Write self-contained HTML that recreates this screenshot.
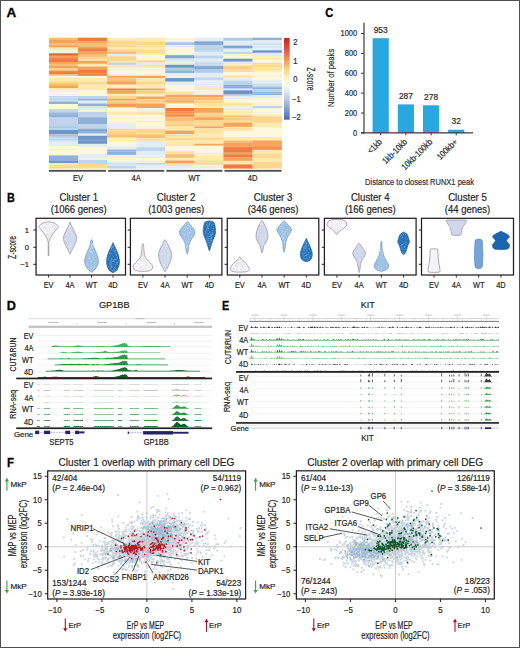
<!DOCTYPE html>
<html><head><meta charset="utf-8"><style>
html,body{margin:0;padding:0;background:#fff;}
svg{display:block;}
text{font-family:"Liberation Sans", sans-serif;stroke:#2a2a2a;stroke-width:0.2px;}
</style></head><body>
<svg width="520" height="648" viewBox="0 0 520 648">
<rect x="0" y="0" width="520" height="648" fill="#fff"/>
<rect x="49.00" y="37.70" width="29.38" height="2.10" fill="#f9bd78" />
<rect x="49.00" y="39.50" width="29.38" height="3.80" fill="#f6a35c" />
<rect x="49.00" y="43.00" width="29.38" height="2.50" fill="#f9bd78" />
<rect x="49.00" y="45.20" width="29.38" height="2.60" fill="#f6a35c" />
<rect x="49.00" y="47.50" width="29.38" height="2.60" fill="#feeab0" />
<rect x="49.00" y="49.80" width="29.38" height="3.80" fill="#fdf7dc" />
<rect x="49.00" y="50.99" width="29.38" height="1.54" fill="#e2eef4" fill-opacity="0.55"/>
<rect x="49.00" y="53.30" width="29.38" height="2.60" fill="#e8603a" />
<rect x="49.00" y="55.60" width="29.38" height="2.00" fill="#f6a35c" />
<rect x="49.00" y="57.30" width="29.38" height="5.00" fill="#f07a45" />
<rect x="49.00" y="58.10" width="29.38" height="0.84" fill="#f6a35c" fill-opacity="0.55"/>
<rect x="49.00" y="62.00" width="29.38" height="2.00" fill="#f6a35c" />
<rect x="49.00" y="63.70" width="29.38" height="2.60" fill="#f9bd78" />
<rect x="49.00" y="66.00" width="29.38" height="2.60" fill="#f6a35c" />
<rect x="49.00" y="68.30" width="29.38" height="2.60" fill="#fcd68e" />
<rect x="49.00" y="70.60" width="29.38" height="3.70" fill="#f07a45" />
<rect x="49.00" y="71.21" width="29.38" height="0.97" fill="#f6a35c" fill-opacity="0.55"/>
<rect x="49.00" y="74.00" width="29.38" height="2.10" fill="#f9bd78" />
<rect x="49.00" y="75.80" width="29.38" height="2.00" fill="#fdf7dc" />
<rect x="49.00" y="77.50" width="29.38" height="4.40" fill="#feeab0" />
<rect x="49.00" y="81.60" width="29.38" height="2.00" fill="#fcd68e" />
<rect x="49.00" y="83.30" width="29.38" height="2.60" fill="#f9bd78" />
<rect x="49.00" y="85.60" width="29.38" height="2.70" fill="#f6a35c" />
<rect x="49.00" y="88.00" width="29.38" height="2.00" fill="#feeab0" />
<rect x="49.00" y="89.70" width="29.38" height="6.60" fill="#fdf7dc" />
<rect x="49.00" y="90.30" width="29.38" height="1.50" fill="#feeab0" fill-opacity="0.55"/>
<rect x="49.00" y="93.94" width="29.38" height="0.93" fill="#e2eef4" fill-opacity="0.55"/>
<rect x="49.00" y="96.00" width="29.38" height="3.20" fill="#bdd4ea" />
<rect x="49.00" y="97.03" width="29.38" height="1.34" fill="#e2eef4" fill-opacity="0.55"/>
<rect x="49.00" y="98.90" width="29.38" height="3.10" fill="#bdd4ea" />
<rect x="49.00" y="100.21" width="29.38" height="1.04" fill="#e2eef4" fill-opacity="0.55"/>
<rect x="49.00" y="101.70" width="29.38" height="2.60" fill="#8fb0d8" />
<rect x="49.00" y="104.00" width="29.38" height="5.50" fill="#fdf7dc" />
<rect x="49.00" y="109.20" width="29.38" height="3.80" fill="#bdd4ea" />
<rect x="49.00" y="112.70" width="29.38" height="4.90" fill="#8fb0d8" />
<rect x="49.00" y="113.68" width="29.38" height="0.94" fill="#bdd4ea" fill-opacity="0.55"/>
<rect x="49.00" y="117.30" width="29.38" height="13.00" fill="#bdd4ea" />
<rect x="49.00" y="126.73" width="29.38" height="0.90" fill="#8fb0d8" fill-opacity="0.55"/>
<rect x="49.00" y="130.00" width="29.38" height="4.30" fill="#7096c8" />
<rect x="49.00" y="134.00" width="29.38" height="3.30" fill="#bdd4ea" />
<rect x="49.00" y="134.63" width="29.38" height="1.56" fill="#8fb0d8" fill-opacity="0.55"/>
<rect x="49.00" y="137.00" width="29.38" height="4.80" fill="#bdd4ea" />
<rect x="49.00" y="137.89" width="29.38" height="0.92" fill="#e2eef4" fill-opacity="0.55"/>
<rect x="49.00" y="140.05" width="29.38" height="1.05" fill="#e2eef4" fill-opacity="0.55"/>
<rect x="49.00" y="141.50" width="29.38" height="4.80" fill="#e2eef4" />
<rect x="49.00" y="146.00" width="29.38" height="5.10" fill="#fdf7dc" />
<rect x="49.00" y="148.79" width="29.38" height="1.39" fill="#e2eef4" fill-opacity="0.55"/>
<rect x="49.00" y="150.80" width="29.38" height="4.90" fill="#fdf7dc" />
<rect x="49.00" y="155.40" width="29.38" height="5.90" fill="#8fb0d8" />
<rect x="49.00" y="161.00" width="29.38" height="2.30" fill="#7096c8" />
<rect x="49.00" y="163.00" width="29.38" height="2.50" fill="#feeab0" />
<rect x="49.00" y="165.20" width="29.38" height="3.40" fill="#fcd68e" />
<rect x="49.00" y="165.89" width="29.38" height="1.15" fill="#feeab0" fill-opacity="0.55"/>
<rect x="78.08" y="37.70" width="29.38" height="3.80" fill="#f07a45" />
<rect x="78.08" y="41.20" width="29.38" height="2.60" fill="#f6a35c" />
<rect x="78.08" y="43.50" width="29.38" height="4.30" fill="#f9bd78" />
<rect x="78.08" y="47.50" width="29.38" height="3.80" fill="#f07a45" />
<rect x="78.08" y="48.33" width="29.38" height="1.12" fill="#f6a35c" fill-opacity="0.55"/>
<rect x="78.08" y="51.00" width="29.38" height="3.20" fill="#f6a35c" />
<rect x="78.08" y="53.90" width="29.38" height="3.20" fill="#f9bd78" />
<rect x="78.08" y="56.80" width="29.38" height="2.50" fill="#fcd68e" />
<rect x="78.08" y="59.00" width="29.38" height="2.10" fill="#feeab0" />
<rect x="78.08" y="60.80" width="29.38" height="3.20" fill="#f6a35c" />
<rect x="78.08" y="63.70" width="29.38" height="3.20" fill="#feeab0" />
<rect x="78.08" y="64.77" width="29.38" height="0.83" fill="#fdf7dc" fill-opacity="0.55"/>
<rect x="78.08" y="66.60" width="29.38" height="3.20" fill="#f6a35c" />
<rect x="78.08" y="69.50" width="29.38" height="6.60" fill="#f07a45" />
<rect x="78.08" y="72.78" width="29.38" height="1.42" fill="#f6a35c" fill-opacity="0.55"/>
<rect x="78.08" y="75.80" width="29.38" height="2.60" fill="#fdf7dc" />
<rect x="78.08" y="78.10" width="29.38" height="4.40" fill="#feeab0" />
<rect x="78.08" y="82.20" width="29.38" height="2.60" fill="#fcd68e" />
<rect x="78.08" y="84.50" width="29.38" height="6.00" fill="#feeab0" />
<rect x="78.08" y="90.20" width="29.38" height="6.10" fill="#fdf7dc" />
<rect x="78.08" y="96.00" width="29.38" height="3.20" fill="#bdd4ea" />
<rect x="78.08" y="98.90" width="29.38" height="2.00" fill="#8fb0d8" />
<rect x="78.08" y="100.60" width="29.38" height="3.20" fill="#e2eef4" />
<rect x="78.08" y="103.50" width="29.38" height="3.10" fill="#8fb0d8" />
<rect x="78.08" y="106.30" width="29.38" height="3.20" fill="#e2eef4" />
<rect x="78.08" y="107.48" width="29.38" height="0.82" fill="#bdd4ea" fill-opacity="0.55"/>
<rect x="78.08" y="109.20" width="29.38" height="3.10" fill="#e2eef4" />
<rect x="78.08" y="109.94" width="29.38" height="1.41" fill="#fdf7dc" fill-opacity="0.55"/>
<rect x="78.08" y="112.00" width="29.38" height="5.60" fill="#bdd4ea" />
<rect x="78.08" y="117.30" width="29.38" height="7.20" fill="#8fb0d8" />
<rect x="78.08" y="124.20" width="29.38" height="4.90" fill="#bdd4ea" />
<rect x="78.08" y="128.80" width="29.38" height="5.00" fill="#8fb0d8" />
<rect x="78.08" y="129.84" width="29.38" height="1.04" fill="#7096c8" fill-opacity="0.55"/>
<rect x="78.08" y="133.50" width="29.38" height="2.60" fill="#e2eef4" />
<rect x="78.08" y="135.80" width="29.38" height="8.30" fill="#7096c8" />
<rect x="78.08" y="136.63" width="29.38" height="1.08" fill="#7096c8" fill-opacity="0.55"/>
<rect x="78.08" y="139.65" width="29.38" height="1.31" fill="#8fb0d8" fill-opacity="0.55"/>
<rect x="78.08" y="143.80" width="29.38" height="3.80" fill="#e2eef4" />
<rect x="78.08" y="147.30" width="29.38" height="7.20" fill="#fdf7dc" />
<rect x="78.08" y="154.20" width="29.38" height="6.10" fill="#e2eef4" />
<rect x="78.08" y="158.20" width="29.38" height="1.37" fill="#fdf7dc" fill-opacity="0.55"/>
<rect x="78.08" y="160.00" width="29.38" height="3.30" fill="#bdd4ea" />
<rect x="78.08" y="163.00" width="29.38" height="5.60" fill="#fcd68e" />
<rect x="78.08" y="166.64" width="29.38" height="1.18" fill="#feeab0" fill-opacity="0.55"/>
<rect x="107.15" y="37.70" width="29.38" height="3.20" fill="#feeab0" />
<rect x="107.15" y="38.33" width="29.38" height="0.91" fill="#fdf7dc" fill-opacity="0.55"/>
<rect x="107.15" y="40.60" width="29.38" height="6.70" fill="#fcd68e" />
<rect x="107.15" y="44.11" width="29.38" height="1.01" fill="#feeab0" fill-opacity="0.55"/>
<rect x="107.15" y="47.00" width="29.38" height="2.60" fill="#feeab0" />
<rect x="107.15" y="49.30" width="29.38" height="2.60" fill="#fcd68e" />
<rect x="107.15" y="51.60" width="29.38" height="2.60" fill="#f9bd78" />
<rect x="107.15" y="53.90" width="29.38" height="2.60" fill="#e2eef4" />
<rect x="107.15" y="56.20" width="29.38" height="4.90" fill="#fcd68e" />
<rect x="107.15" y="60.80" width="29.38" height="2.00" fill="#feeab0" />
<rect x="107.15" y="62.50" width="29.38" height="2.60" fill="#bdd4ea" />
<rect x="107.15" y="64.80" width="29.38" height="3.20" fill="#feeab0" />
<rect x="107.15" y="67.70" width="29.38" height="8.40" fill="#fdf7dc" />
<rect x="107.15" y="68.73" width="29.38" height="1.07" fill="#feeab0" fill-opacity="0.55"/>
<rect x="107.15" y="73.96" width="29.38" height="0.83" fill="#e2eef4" fill-opacity="0.55"/>
<rect x="107.15" y="75.80" width="29.38" height="2.00" fill="#f6a35c" />
<rect x="107.15" y="77.50" width="29.38" height="4.40" fill="#f9bd78" />
<rect x="107.15" y="78.19" width="29.38" height="1.35" fill="#fcd68e" fill-opacity="0.55"/>
<rect x="107.15" y="81.60" width="29.38" height="3.20" fill="#f6a35c" />
<rect x="107.15" y="84.50" width="29.38" height="4.30" fill="#feeab0" />
<rect x="107.15" y="85.49" width="29.38" height="1.53" fill="#fdf7dc" fill-opacity="0.55"/>
<rect x="107.15" y="88.50" width="29.38" height="2.00" fill="#f07a45" />
<rect x="107.15" y="90.20" width="29.38" height="3.80" fill="#f6a35c" />
<rect x="107.15" y="93.70" width="29.38" height="2.60" fill="#feeab0" />
<rect x="107.15" y="96.00" width="29.38" height="3.20" fill="#fcd68e" />
<rect x="107.15" y="98.90" width="29.38" height="2.00" fill="#f6a35c" />
<rect x="107.15" y="100.60" width="29.38" height="3.20" fill="#fcd68e" />
<rect x="107.15" y="101.72" width="29.38" height="1.18" fill="#f9bd78" fill-opacity="0.55"/>
<rect x="107.15" y="103.50" width="29.38" height="4.30" fill="#f6a35c" />
<rect x="107.15" y="104.54" width="29.38" height="1.20" fill="#f07a45" fill-opacity="0.55"/>
<rect x="107.15" y="107.50" width="29.38" height="4.30" fill="#fdf7dc" />
<rect x="107.15" y="111.50" width="29.38" height="3.80" fill="#feeab0" />
<rect x="107.15" y="115.00" width="29.38" height="9.50" fill="#fdf7dc" />
<rect x="107.15" y="115.94" width="29.38" height="0.85" fill="#e2eef4" fill-opacity="0.55"/>
<rect x="107.15" y="117.67" width="29.38" height="1.47" fill="#feeab0" fill-opacity="0.55"/>
<rect x="107.15" y="120.94" width="29.38" height="0.91" fill="#e2eef4" fill-opacity="0.55"/>
<rect x="107.15" y="122.86" width="29.38" height="1.29" fill="#feeab0" fill-opacity="0.55"/>
<rect x="107.15" y="124.20" width="29.38" height="4.90" fill="#e2eef4" />
<rect x="107.15" y="128.80" width="29.38" height="5.00" fill="#fcd68e" />
<rect x="107.15" y="129.62" width="29.38" height="1.26" fill="#feeab0" fill-opacity="0.55"/>
<rect x="107.15" y="133.50" width="29.38" height="4.30" fill="#f9bd78" />
<rect x="107.15" y="134.21" width="29.38" height="1.15" fill="#fcd68e" fill-opacity="0.55"/>
<rect x="107.15" y="137.50" width="29.38" height="4.30" fill="#feeab0" />
<rect x="107.15" y="138.85" width="29.38" height="1.10" fill="#fdf7dc" fill-opacity="0.55"/>
<rect x="107.15" y="141.50" width="29.38" height="5.00" fill="#fdf7dc" />
<rect x="107.15" y="146.20" width="29.38" height="3.70" fill="#e2eef4" />
<rect x="107.15" y="149.60" width="29.38" height="5.50" fill="#8fb0d8" />
<rect x="107.15" y="150.80" width="29.38" height="1.21" fill="#bdd4ea" fill-opacity="0.55"/>
<rect x="107.15" y="154.80" width="29.38" height="3.20" fill="#e2eef4" />
<rect x="107.15" y="155.76" width="29.38" height="1.11" fill="#fdf7dc" fill-opacity="0.55"/>
<rect x="107.15" y="157.70" width="29.38" height="4.90" fill="#fdf7dc" />
<rect x="107.15" y="158.37" width="29.38" height="1.33" fill="#feeab0" fill-opacity="0.55"/>
<rect x="107.15" y="161.21" width="29.38" height="1.09" fill="#e2eef4" fill-opacity="0.55"/>
<rect x="107.15" y="162.30" width="29.38" height="3.80" fill="#e2eef4" />
<rect x="107.15" y="163.16" width="29.38" height="1.44" fill="#bdd4ea" fill-opacity="0.55"/>
<rect x="107.15" y="165.80" width="29.38" height="2.80" fill="#bdd4ea" />
<rect x="136.23" y="37.70" width="29.38" height="4.40" fill="#feeab0" />
<rect x="136.23" y="41.80" width="29.38" height="3.70" fill="#fcd68e" />
<rect x="136.23" y="45.20" width="29.38" height="4.90" fill="#feeab0" />
<rect x="136.23" y="45.91" width="29.38" height="1.30" fill="#fcd68e" fill-opacity="0.55"/>
<rect x="136.23" y="49.80" width="29.38" height="3.20" fill="#fcd68e" />
<rect x="136.23" y="50.70" width="29.38" height="1.38" fill="#feeab0" fill-opacity="0.55"/>
<rect x="136.23" y="52.70" width="29.38" height="2.60" fill="#feeab0" />
<rect x="136.23" y="55.00" width="29.38" height="5.50" fill="#fdf7dc" />
<rect x="136.23" y="60.20" width="29.38" height="2.60" fill="#fcd68e" />
<rect x="136.23" y="62.50" width="29.38" height="2.60" fill="#e2eef4" />
<rect x="136.23" y="64.80" width="29.38" height="3.20" fill="#feeab0" />
<rect x="136.23" y="65.48" width="29.38" height="0.83" fill="#fcd68e" fill-opacity="0.55"/>
<rect x="136.23" y="67.70" width="29.38" height="8.40" fill="#fdf7dc" />
<rect x="136.23" y="69.05" width="29.38" height="1.33" fill="#e2eef4" fill-opacity="0.55"/>
<rect x="136.23" y="74.75" width="29.38" height="1.05" fill="#feeab0" fill-opacity="0.55"/>
<rect x="136.23" y="75.80" width="29.38" height="2.60" fill="#f6a35c" />
<rect x="136.23" y="78.10" width="29.38" height="3.80" fill="#feeab0" />
<rect x="136.23" y="81.60" width="29.38" height="3.20" fill="#fcd68e" />
<rect x="136.23" y="84.50" width="29.38" height="4.30" fill="#feeab0" />
<rect x="136.23" y="88.50" width="29.38" height="2.00" fill="#f6a35c" />
<rect x="136.23" y="90.20" width="29.38" height="3.80" fill="#fcd68e" />
<rect x="136.23" y="91.40" width="29.38" height="1.05" fill="#f9bd78" fill-opacity="0.55"/>
<rect x="136.23" y="93.70" width="29.38" height="3.20" fill="#feeab0" />
<rect x="136.23" y="94.68" width="29.38" height="1.56" fill="#fdf7dc" fill-opacity="0.55"/>
<rect x="136.23" y="96.60" width="29.38" height="2.60" fill="#f6a35c" />
<rect x="136.23" y="98.90" width="29.38" height="4.90" fill="#fcd68e" />
<rect x="136.23" y="100.04" width="29.38" height="1.38" fill="#f9bd78" fill-opacity="0.55"/>
<rect x="136.23" y="103.50" width="29.38" height="4.80" fill="#f6a35c" />
<rect x="136.23" y="108.00" width="29.38" height="3.80" fill="#fdf7dc" />
<rect x="136.23" y="109.17" width="29.38" height="1.34" fill="#e2eef4" fill-opacity="0.55"/>
<rect x="136.23" y="111.50" width="29.38" height="3.80" fill="#feeab0" />
<rect x="136.23" y="112.69" width="29.38" height="1.37" fill="#fcd68e" fill-opacity="0.55"/>
<rect x="136.23" y="115.00" width="29.38" height="14.10" fill="#fdf7dc" />
<rect x="136.23" y="120.87" width="29.38" height="1.35" fill="#feeab0" fill-opacity="0.55"/>
<rect x="136.23" y="126.66" width="29.38" height="0.88" fill="#e2eef4" fill-opacity="0.55"/>
<rect x="136.23" y="128.80" width="29.38" height="6.10" fill="#fcd68e" />
<rect x="136.23" y="132.62" width="29.38" height="1.43" fill="#feeab0" fill-opacity="0.55"/>
<rect x="136.23" y="134.60" width="29.38" height="3.70" fill="#f9bd78" />
<rect x="136.23" y="138.00" width="29.38" height="4.30" fill="#feeab0" />
<rect x="136.23" y="139.16" width="29.38" height="1.31" fill="#fcd68e" fill-opacity="0.55"/>
<rect x="136.23" y="142.00" width="29.38" height="5.60" fill="#e2eef4" />
<rect x="136.23" y="147.30" width="29.38" height="3.80" fill="#bdd4ea" />
<rect x="136.23" y="150.80" width="29.38" height="7.20" fill="#e2eef4" />
<rect x="136.23" y="155.08" width="29.38" height="1.05" fill="#fdf7dc" fill-opacity="0.55"/>
<rect x="136.23" y="157.70" width="29.38" height="5.50" fill="#fdf7dc" />
<rect x="136.23" y="160.77" width="29.38" height="1.12" fill="#feeab0" fill-opacity="0.55"/>
<rect x="136.23" y="162.90" width="29.38" height="2.00" fill="#bdd4ea" />
<rect x="136.23" y="164.60" width="29.38" height="4.00" fill="#e2eef4" />
<rect x="165.30" y="37.70" width="29.38" height="4.40" fill="#fdf7dc" />
<rect x="165.30" y="38.52" width="29.38" height="1.19" fill="#feeab0" fill-opacity="0.55"/>
<rect x="165.30" y="41.80" width="29.38" height="3.70" fill="#bdd4ea" />
<rect x="165.30" y="43.11" width="29.38" height="1.51" fill="#8fb0d8" fill-opacity="0.55"/>
<rect x="165.30" y="45.20" width="29.38" height="2.60" fill="#e2eef4" />
<rect x="165.30" y="47.50" width="29.38" height="3.80" fill="#fdf7dc" />
<rect x="165.30" y="48.72" width="29.38" height="0.80" fill="#feeab0" fill-opacity="0.55"/>
<rect x="165.30" y="51.00" width="29.38" height="4.30" fill="#fdf7dc" />
<rect x="165.30" y="55.00" width="29.38" height="3.80" fill="#8fb0d8" />
<rect x="165.30" y="56.18" width="29.38" height="1.36" fill="#7096c8" fill-opacity="0.55"/>
<rect x="165.30" y="58.50" width="29.38" height="6.60" fill="#e2eef4" />
<rect x="165.30" y="59.36" width="29.38" height="1.05" fill="#bdd4ea" fill-opacity="0.55"/>
<rect x="165.30" y="62.15" width="29.38" height="1.03" fill="#fdf7dc" fill-opacity="0.55"/>
<rect x="165.30" y="64.80" width="29.38" height="3.20" fill="#7096c8" />
<rect x="165.30" y="65.44" width="29.38" height="0.90" fill="#7096c8" fill-opacity="0.55"/>
<rect x="165.30" y="67.70" width="29.38" height="3.20" fill="#bdd4ea" />
<rect x="165.30" y="68.79" width="29.38" height="0.98" fill="#8fb0d8" fill-opacity="0.55"/>
<rect x="165.30" y="70.60" width="29.38" height="2.70" fill="#8fb0d8" />
<rect x="165.30" y="73.00" width="29.38" height="5.40" fill="#e2eef4" />
<rect x="165.30" y="75.85" width="29.38" height="1.59" fill="#fdf7dc" fill-opacity="0.55"/>
<rect x="165.30" y="78.10" width="29.38" height="3.80" fill="#7096c8" />
<rect x="165.30" y="78.82" width="29.38" height="1.41" fill="#7096c8" fill-opacity="0.55"/>
<rect x="165.30" y="81.60" width="29.38" height="3.70" fill="#e2eef4" />
<rect x="165.30" y="85.00" width="29.38" height="6.70" fill="#fdf7dc" />
<rect x="165.30" y="91.40" width="29.38" height="3.70" fill="#feeab0" />
<rect x="165.30" y="92.65" width="29.38" height="1.14" fill="#fcd68e" fill-opacity="0.55"/>
<rect x="165.30" y="94.80" width="29.38" height="2.70" fill="#f6a35c" />
<rect x="165.30" y="97.20" width="29.38" height="6.60" fill="#f9bd78" />
<rect x="165.30" y="100.80" width="29.38" height="0.97" fill="#f6a35c" fill-opacity="0.55"/>
<rect x="165.30" y="103.50" width="29.38" height="4.80" fill="#fdf7dc" />
<rect x="165.30" y="108.00" width="29.38" height="3.30" fill="#f07a45" />
<rect x="165.30" y="111.00" width="29.38" height="6.60" fill="#f6a35c" />
<rect x="165.30" y="111.65" width="29.38" height="1.20" fill="#f07a45" fill-opacity="0.55"/>
<rect x="165.30" y="114.81" width="29.38" height="1.19" fill="#f07a45" fill-opacity="0.55"/>
<rect x="165.30" y="117.30" width="29.38" height="3.80" fill="#f9bd78" />
<rect x="165.30" y="120.80" width="29.38" height="6.00" fill="#fcd68e" />
<rect x="165.30" y="124.73" width="29.38" height="0.87" fill="#f9bd78" fill-opacity="0.55"/>
<rect x="165.30" y="126.50" width="29.38" height="4.40" fill="#feeab0" />
<rect x="165.30" y="130.60" width="29.38" height="3.70" fill="#f6a35c" />
<rect x="165.30" y="134.00" width="29.38" height="4.30" fill="#feeab0" />
<rect x="165.30" y="135.04" width="29.38" height="1.35" fill="#fcd68e" fill-opacity="0.55"/>
<rect x="165.30" y="138.00" width="29.38" height="2.70" fill="#fcd68e" />
<rect x="165.30" y="140.40" width="29.38" height="6.10" fill="#feeab0" />
<rect x="165.30" y="144.48" width="29.38" height="1.22" fill="#fcd68e" fill-opacity="0.55"/>
<rect x="165.30" y="146.20" width="29.38" height="4.90" fill="#fdf7dc" />
<rect x="165.30" y="150.80" width="29.38" height="3.70" fill="#feeab0" />
<rect x="165.30" y="151.73" width="29.38" height="1.57" fill="#fcd68e" fill-opacity="0.55"/>
<rect x="165.30" y="154.20" width="29.38" height="3.80" fill="#f9bd78" />
<rect x="165.30" y="157.70" width="29.38" height="3.20" fill="#feeab0" />
<rect x="165.30" y="160.60" width="29.38" height="3.20" fill="#f6a35c" />
<rect x="165.30" y="163.50" width="29.38" height="3.10" fill="#feeab0" />
<rect x="165.30" y="164.88" width="29.38" height="1.24" fill="#fcd68e" fill-opacity="0.55"/>
<rect x="165.30" y="166.30" width="29.38" height="2.30" fill="#e2eef4" />
<rect x="194.38" y="37.70" width="29.38" height="3.80" fill="#e2eef4" />
<rect x="194.38" y="41.20" width="29.38" height="4.30" fill="#8fb0d8" />
<rect x="194.38" y="42.34" width="29.38" height="1.06" fill="#7096c8" fill-opacity="0.55"/>
<rect x="194.38" y="45.20" width="29.38" height="7.30" fill="#bdd4ea" />
<rect x="194.38" y="50.60" width="29.38" height="1.13" fill="#e2eef4" fill-opacity="0.55"/>
<rect x="194.38" y="52.20" width="29.38" height="3.70" fill="#e2eef4" />
<rect x="194.38" y="55.60" width="29.38" height="3.20" fill="#bdd4ea" />
<rect x="194.38" y="58.50" width="29.38" height="4.90" fill="#e2eef4" />
<rect x="194.38" y="61.57" width="29.38" height="1.14" fill="#bdd4ea" fill-opacity="0.55"/>
<rect x="194.38" y="63.10" width="29.38" height="3.20" fill="#bdd4ea" />
<rect x="194.38" y="64.18" width="29.38" height="0.95" fill="#e2eef4" fill-opacity="0.55"/>
<rect x="194.38" y="66.00" width="29.38" height="3.80" fill="#8fb0d8" />
<rect x="194.38" y="67.15" width="29.38" height="1.38" fill="#7096c8" fill-opacity="0.55"/>
<rect x="194.38" y="69.50" width="29.38" height="3.80" fill="#bdd4ea" />
<rect x="194.38" y="70.52" width="29.38" height="0.86" fill="#8fb0d8" fill-opacity="0.55"/>
<rect x="194.38" y="73.00" width="29.38" height="4.80" fill="#e2eef4" />
<rect x="194.38" y="77.50" width="29.38" height="2.60" fill="#bdd4ea" />
<rect x="194.38" y="79.80" width="29.38" height="7.30" fill="#e2eef4" />
<rect x="194.38" y="80.78" width="29.38" height="0.88" fill="#fdf7dc" fill-opacity="0.55"/>
<rect x="194.38" y="82.62" width="29.38" height="1.07" fill="#fdf7dc" fill-opacity="0.55"/>
<rect x="194.38" y="85.29" width="29.38" height="1.15" fill="#fdf7dc" fill-opacity="0.55"/>
<rect x="194.38" y="86.80" width="29.38" height="3.70" fill="#feeab0" />
<rect x="194.38" y="90.20" width="29.38" height="4.90" fill="#fdf7dc" />
<rect x="194.38" y="90.88" width="29.38" height="0.88" fill="#feeab0" fill-opacity="0.55"/>
<rect x="194.38" y="94.80" width="29.38" height="2.70" fill="#f6a35c" />
<rect x="194.38" y="97.20" width="29.38" height="3.10" fill="#f9bd78" />
<rect x="194.38" y="100.00" width="29.38" height="3.80" fill="#fcd68e" />
<rect x="194.38" y="103.50" width="29.38" height="4.80" fill="#feeab0" />
<rect x="194.38" y="104.10" width="29.38" height="1.10" fill="#fcd68e" fill-opacity="0.55"/>
<rect x="194.38" y="108.00" width="29.38" height="5.00" fill="#f6a35c" />
<rect x="194.38" y="112.70" width="29.38" height="4.90" fill="#fcd68e" />
<rect x="194.38" y="116.19" width="29.38" height="1.11" fill="#f9bd78" fill-opacity="0.55"/>
<rect x="194.38" y="117.30" width="29.38" height="3.20" fill="#f6a35c" />
<rect x="194.38" y="120.20" width="29.38" height="6.60" fill="#fcd68e" />
<rect x="194.38" y="123.03" width="29.38" height="1.02" fill="#feeab0" fill-opacity="0.55"/>
<rect x="194.38" y="126.50" width="29.38" height="2.10" fill="#f6a35c" />
<rect x="194.38" y="128.30" width="29.38" height="10.00" fill="#feeab0" />
<rect x="194.38" y="129.10" width="29.38" height="1.16" fill="#fcd68e" fill-opacity="0.55"/>
<rect x="194.38" y="131.07" width="29.38" height="1.41" fill="#fcd68e" fill-opacity="0.55"/>
<rect x="194.38" y="138.00" width="29.38" height="2.10" fill="#fcd68e" />
<rect x="194.38" y="139.80" width="29.38" height="4.30" fill="#feeab0" />
<rect x="194.38" y="143.80" width="29.38" height="2.10" fill="#f6a35c" />
<rect x="194.38" y="145.60" width="29.38" height="7.70" fill="#fdf7dc" />
<rect x="194.38" y="153.00" width="29.38" height="9.60" fill="#feeab0" />
<rect x="194.38" y="154.09" width="29.38" height="1.27" fill="#fdf7dc" fill-opacity="0.55"/>
<rect x="194.38" y="160.33" width="29.38" height="1.53" fill="#fcd68e" fill-opacity="0.55"/>
<rect x="194.38" y="162.30" width="29.38" height="2.60" fill="#fcd68e" />
<rect x="194.38" y="164.60" width="29.38" height="4.00" fill="#e2eef4" />
<rect x="194.38" y="165.32" width="29.38" height="1.42" fill="#fdf7dc" fill-opacity="0.55"/>
<rect x="223.45" y="37.70" width="29.38" height="3.40" fill="#bdd4ea" />
<rect x="223.45" y="38.47" width="29.38" height="1.14" fill="#8fb0d8" fill-opacity="0.55"/>
<rect x="223.45" y="40.80" width="29.38" height="5.00" fill="#e2eef4" />
<rect x="223.45" y="45.50" width="29.38" height="3.30" fill="#8fb0d8" />
<rect x="223.45" y="46.16" width="29.38" height="1.35" fill="#7096c8" fill-opacity="0.55"/>
<rect x="223.45" y="48.50" width="29.38" height="3.90" fill="#e2eef4" />
<rect x="223.45" y="52.10" width="29.38" height="2.10" fill="#bdd4ea" />
<rect x="223.45" y="53.90" width="29.38" height="5.10" fill="#fdf7dc" />
<rect x="223.45" y="54.98" width="29.38" height="0.91" fill="#e2eef4" fill-opacity="0.55"/>
<rect x="223.45" y="58.70" width="29.38" height="3.20" fill="#7096c8" />
<rect x="223.45" y="59.32" width="29.38" height="0.95" fill="#7096c8" fill-opacity="0.55"/>
<rect x="223.45" y="61.60" width="29.38" height="1.50" fill="#e2eef4" />
<rect x="223.45" y="62.80" width="29.38" height="3.30" fill="#feeab0" />
<rect x="223.45" y="63.92" width="29.38" height="1.07" fill="#fdf7dc" fill-opacity="0.55"/>
<rect x="223.45" y="65.80" width="29.38" height="6.30" fill="#fcd68e" />
<rect x="223.45" y="67.18" width="29.38" height="1.36" fill="#f9bd78" fill-opacity="0.55"/>
<rect x="223.45" y="69.49" width="29.38" height="1.12" fill="#feeab0" fill-opacity="0.55"/>
<rect x="223.45" y="71.80" width="29.38" height="3.80" fill="#fdf7dc" />
<rect x="223.45" y="75.30" width="29.38" height="3.30" fill="#feeab0" />
<rect x="223.45" y="75.91" width="29.38" height="0.81" fill="#fcd68e" fill-opacity="0.55"/>
<rect x="223.45" y="78.30" width="29.38" height="2.70" fill="#e2eef4" />
<rect x="223.45" y="80.70" width="29.38" height="4.50" fill="#bdd4ea" />
<rect x="223.45" y="84.90" width="29.38" height="3.90" fill="#8fb0d8" />
<rect x="223.45" y="88.50" width="29.38" height="2.10" fill="#e2eef4" />
<rect x="223.45" y="90.30" width="29.38" height="4.40" fill="#7096c8" />
<rect x="223.45" y="91.30" width="29.38" height="0.83" fill="#7096c8" fill-opacity="0.55"/>
<rect x="223.45" y="94.40" width="29.38" height="2.10" fill="#bdd4ea" />
<rect x="223.45" y="96.20" width="29.38" height="3.30" fill="#e2eef4" />
<rect x="223.45" y="97.25" width="29.38" height="1.15" fill="#fdf7dc" fill-opacity="0.55"/>
<rect x="223.45" y="99.20" width="29.38" height="3.50" fill="#fdf7dc" />
<rect x="223.45" y="102.40" width="29.38" height="3.30" fill="#feeab0" />
<rect x="223.45" y="103.76" width="29.38" height="1.59" fill="#fcd68e" fill-opacity="0.55"/>
<rect x="223.45" y="105.40" width="29.38" height="3.80" fill="#e2eef4" />
<rect x="223.45" y="106.55" width="29.38" height="1.32" fill="#fdf7dc" fill-opacity="0.55"/>
<rect x="223.45" y="108.90" width="29.38" height="6.90" fill="#feeab0" />
<rect x="223.45" y="109.81" width="29.38" height="1.54" fill="#fdf7dc" fill-opacity="0.55"/>
<rect x="223.45" y="113.31" width="29.38" height="0.91" fill="#fdf7dc" fill-opacity="0.55"/>
<rect x="223.45" y="115.50" width="29.38" height="2.10" fill="#f9bd78" />
<rect x="223.45" y="117.30" width="29.38" height="5.70" fill="#fcd68e" />
<rect x="223.45" y="118.35" width="29.38" height="1.25" fill="#f9bd78" fill-opacity="0.55"/>
<rect x="223.45" y="120.57" width="29.38" height="1.51" fill="#feeab0" fill-opacity="0.55"/>
<rect x="223.45" y="122.70" width="29.38" height="4.40" fill="#f6a35c" />
<rect x="223.45" y="126.80" width="29.38" height="4.50" fill="#feeab0" />
<rect x="223.45" y="128.06" width="29.38" height="1.30" fill="#fcd68e" fill-opacity="0.55"/>
<rect x="223.45" y="131.00" width="29.38" height="6.30" fill="#fdf7dc" />
<rect x="223.45" y="137.00" width="29.38" height="3.80" fill="#feeab0" />
<rect x="223.45" y="140.50" width="29.38" height="2.70" fill="#f9bd78" />
<rect x="223.45" y="142.90" width="29.38" height="4.50" fill="#f6a35c" />
<rect x="223.45" y="147.10" width="29.38" height="5.70" fill="#f07a45" />
<rect x="223.45" y="152.50" width="29.38" height="2.60" fill="#f6a35c" />
<rect x="223.45" y="154.80" width="29.38" height="2.70" fill="#f07a45" />
<rect x="223.45" y="157.20" width="29.38" height="3.90" fill="#f6a35c" />
<rect x="223.45" y="160.80" width="29.38" height="3.90" fill="#feeab0" />
<rect x="223.45" y="164.40" width="29.38" height="4.20" fill="#f07a45" />
<rect x="252.53" y="37.70" width="29.38" height="2.80" fill="#8fb0d8" />
<rect x="252.53" y="40.20" width="29.38" height="10.40" fill="#e2eef4" />
<rect x="252.53" y="43.39" width="29.38" height="1.50" fill="#bdd4ea" fill-opacity="0.55"/>
<rect x="252.53" y="46.34" width="29.38" height="0.92" fill="#bdd4ea" fill-opacity="0.55"/>
<rect x="252.53" y="50.30" width="29.38" height="2.70" fill="#7096c8" />
<rect x="252.53" y="52.70" width="29.38" height="2.70" fill="#e2eef4" />
<rect x="252.53" y="55.10" width="29.38" height="5.00" fill="#feeab0" />
<rect x="252.53" y="56.50" width="29.38" height="1.31" fill="#fdf7dc" fill-opacity="0.55"/>
<rect x="252.53" y="59.80" width="29.38" height="3.30" fill="#fdf7dc" />
<rect x="252.53" y="62.80" width="29.38" height="4.50" fill="#fcd68e" />
<rect x="252.53" y="63.86" width="29.38" height="1.53" fill="#feeab0" fill-opacity="0.55"/>
<rect x="252.53" y="67.00" width="29.38" height="5.10" fill="#feeab0" />
<rect x="252.53" y="68.00" width="29.38" height="1.56" fill="#fcd68e" fill-opacity="0.55"/>
<rect x="252.53" y="71.80" width="29.38" height="8.60" fill="#fdf7dc" />
<rect x="252.53" y="75.37" width="29.38" height="0.89" fill="#e2eef4" fill-opacity="0.55"/>
<rect x="252.53" y="80.10" width="29.38" height="3.90" fill="#e2eef4" />
<rect x="252.53" y="83.70" width="29.38" height="3.90" fill="#bdd4ea" />
<rect x="252.53" y="84.38" width="29.38" height="1.50" fill="#e2eef4" fill-opacity="0.55"/>
<rect x="252.53" y="87.30" width="29.38" height="2.10" fill="#8fb0d8" />
<rect x="252.53" y="89.10" width="29.38" height="3.20" fill="#bdd4ea" />
<rect x="252.53" y="92.00" width="29.38" height="3.30" fill="#8fb0d8" />
<rect x="252.53" y="92.81" width="29.38" height="1.13" fill="#bdd4ea" fill-opacity="0.55"/>
<rect x="252.53" y="95.00" width="29.38" height="3.30" fill="#e2eef4" />
<rect x="252.53" y="98.00" width="29.38" height="8.30" fill="#fdf7dc" />
<rect x="252.53" y="98.65" width="29.38" height="0.86" fill="#feeab0" fill-opacity="0.55"/>
<rect x="252.53" y="103.88" width="29.38" height="1.13" fill="#feeab0" fill-opacity="0.55"/>
<rect x="252.53" y="106.00" width="29.38" height="2.60" fill="#bdd4ea" />
<rect x="252.53" y="108.30" width="29.38" height="6.30" fill="#fdf7dc" />
<rect x="252.53" y="111.91" width="29.38" height="1.09" fill="#e2eef4" fill-opacity="0.55"/>
<rect x="252.53" y="114.30" width="29.38" height="2.70" fill="#feeab0" />
<rect x="252.53" y="116.70" width="29.38" height="6.30" fill="#fcd68e" />
<rect x="252.53" y="122.70" width="29.38" height="5.00" fill="#feeab0" />
<rect x="252.53" y="127.40" width="29.38" height="9.90" fill="#fdf7dc" />
<rect x="252.53" y="137.00" width="29.38" height="3.80" fill="#feeab0" />
<rect x="252.53" y="140.50" width="29.38" height="3.90" fill="#f6a35c" />
<rect x="252.53" y="144.10" width="29.38" height="6.30" fill="#f6a35c" />
<rect x="252.53" y="147.16" width="29.38" height="1.60" fill="#f07a45" fill-opacity="0.55"/>
<rect x="252.53" y="150.10" width="29.38" height="3.90" fill="#feeab0" />
<rect x="252.53" y="153.70" width="29.38" height="5.00" fill="#fcd68e" />
<rect x="252.53" y="154.94" width="29.38" height="1.19" fill="#feeab0" fill-opacity="0.55"/>
<rect x="252.53" y="158.40" width="29.38" height="3.90" fill="#feeab0" />
<rect x="252.53" y="162.00" width="29.38" height="6.60" fill="#fcd68e" />
<rect x="49.00" y="169.90" width="57.15" height="1.80" fill="#4a4a4c" />
<text x="78.08" y="181.20" font-size="8.6" text-anchor="middle" fill="#222" textLength="10.1" lengthAdjust="spacingAndGlyphs">EV</text>
<rect x="108.15" y="169.90" width="56.15" height="1.80" fill="#4a4a4c" />
<text x="136.23" y="181.20" font-size="8.6" text-anchor="middle" fill="#222" textLength="9.26" lengthAdjust="spacingAndGlyphs">4A</text>
<rect x="166.30" y="169.90" width="56.15" height="1.80" fill="#4a4a4c" />
<text x="194.38" y="181.20" font-size="8.6" text-anchor="middle" fill="#222" textLength="11.77" lengthAdjust="spacingAndGlyphs">WT</text>
<rect x="224.45" y="169.90" width="57.15" height="1.80" fill="#4a4a4c" />
<text x="252.53" y="181.20" font-size="8.6" text-anchor="middle" fill="#222" textLength="9.67" lengthAdjust="spacingAndGlyphs">4D</text>
<defs><linearGradient id="cb" x1="0" y1="0" x2="0" y2="1">
<stop offset="0" stop-color="#c3262b"/><stop offset="0.14" stop-color="#e4573a"/>
<stop offset="0.27" stop-color="#f29a52"/><stop offset="0.38" stop-color="#fad281"/>
<stop offset="0.51" stop-color="#fdf8d2"/><stop offset="0.6" stop-color="#f2f4f4"/>
<stop offset="0.74" stop-color="#bccde4"/><stop offset="0.88" stop-color="#7c9bcc"/>
<stop offset="1" stop-color="#4a69ac"/></linearGradient></defs>
<rect x="284.00" y="38.00" width="5.70" height="81.70" fill="url(#cb)" />
<text x="293.30" y="44.80" font-size="8.2" text-anchor="start" fill="#2a2a2a" textLength="4.2" lengthAdjust="spacingAndGlyphs">2</text>
<text x="293.30" y="64.00" font-size="8.2" text-anchor="start" fill="#2a2a2a" textLength="4.2" lengthAdjust="spacingAndGlyphs">1</text>
<text x="293.30" y="82.40" font-size="8.2" text-anchor="start" fill="#2a2a2a" textLength="4.2" lengthAdjust="spacingAndGlyphs">0</text>
<text x="292.20" y="101.60" font-size="8.2" text-anchor="start" fill="#2a2a2a" textLength="8.6" lengthAdjust="spacingAndGlyphs">−1</text>
<text x="292.20" y="120.00" font-size="8.2" text-anchor="start" fill="#2a2a2a" textLength="8.6" lengthAdjust="spacingAndGlyphs">−2</text>
<text x="307.40" y="78.90" font-size="10.6" text-anchor="middle" fill="#333" textLength="23.4" lengthAdjust="spacingAndGlyphs" transform="rotate(90 307.40 78.90)">Z-score</text>
<text x="0" y="0" font-size="12.6" font-weight="bold" fill="#000" style="stroke:#000;stroke-width:0.3" transform="translate(6.46 16.70) scale(1.070 1)">A</text>
<text x="0" y="0" font-size="12.6" font-weight="bold" fill="#000" style="stroke:#000;stroke-width:0.3" transform="translate(325.24 16.80) scale(0.890 1)">C</text>
<rect x="372.60" y="38.17" width="16.20" height="94.73" fill="#29a8e0" />
<text x="380.70" y="32.77" font-size="8.4" text-anchor="middle" fill="#2a2a2a">953</text>
<rect x="397.80" y="104.37" width="16.20" height="28.53" fill="#29a8e0" />
<text x="405.90" y="98.97" font-size="8.4" text-anchor="middle" fill="#2a2a2a">287</text>
<rect x="423.00" y="105.27" width="16.20" height="27.63" fill="#29a8e0" />
<text x="431.10" y="99.87" font-size="8.4" text-anchor="middle" fill="#2a2a2a">278</text>
<rect x="448.10" y="129.72" width="16.20" height="3.18" fill="#29a8e0" />
<text x="456.20" y="124.32" font-size="8.4" text-anchor="middle" fill="#2a2a2a">32</text>
<line x1="364.00" y1="22.80" x2="364.00" y2="133.50" stroke="#3a3a3a" stroke-width="1.2" />
<line x1="361.00" y1="132.90" x2="473.00" y2="132.90" stroke="#3a3a3a" stroke-width="1.2" />
<line x1="360.90" y1="132.90" x2="364.00" y2="132.90" stroke="#3a3a3a" stroke-width="1" />
<text x="357.20" y="135.50" font-size="8.6" text-anchor="end" fill="#2a2a2a" textLength="4.16" lengthAdjust="spacingAndGlyphs">0</text>
<line x1="360.90" y1="113.02" x2="364.00" y2="113.02" stroke="#3a3a3a" stroke-width="1" />
<text x="357.20" y="115.62" font-size="8.6" text-anchor="end" fill="#2a2a2a" textLength="12.48" lengthAdjust="spacingAndGlyphs">200</text>
<line x1="360.90" y1="93.14" x2="364.00" y2="93.14" stroke="#3a3a3a" stroke-width="1" />
<text x="357.20" y="95.74" font-size="8.6" text-anchor="end" fill="#2a2a2a" textLength="12.48" lengthAdjust="spacingAndGlyphs">400</text>
<line x1="360.90" y1="73.26" x2="364.00" y2="73.26" stroke="#3a3a3a" stroke-width="1" />
<text x="357.20" y="75.86" font-size="8.6" text-anchor="end" fill="#2a2a2a" textLength="12.48" lengthAdjust="spacingAndGlyphs">600</text>
<line x1="360.90" y1="53.38" x2="364.00" y2="53.38" stroke="#3a3a3a" stroke-width="1" />
<text x="357.20" y="55.98" font-size="8.6" text-anchor="end" fill="#2a2a2a" textLength="12.48" lengthAdjust="spacingAndGlyphs">800</text>
<line x1="360.90" y1="33.50" x2="364.00" y2="33.50" stroke="#3a3a3a" stroke-width="1" />
<text x="357.20" y="36.10" font-size="8.6" text-anchor="end" fill="#2a2a2a" textLength="16.65" lengthAdjust="spacingAndGlyphs">1000</text>
<line x1="380.70" y1="132.90" x2="380.70" y2="135.40" stroke="#3a3a3a" stroke-width="1" />
<line x1="405.90" y1="132.90" x2="405.90" y2="135.40" stroke="#3a3a3a" stroke-width="1" />
<line x1="431.10" y1="132.90" x2="431.10" y2="135.40" stroke="#3a3a3a" stroke-width="1" />
<line x1="456.20" y1="132.90" x2="456.20" y2="135.40" stroke="#3a3a3a" stroke-width="1" />
<text x="333.60" y="77.90" font-size="9.7" text-anchor="middle" fill="#333" textLength="58.3" lengthAdjust="spacingAndGlyphs" transform="rotate(-90 333.60 77.90)">Number of peaks</text>
<text x="382.60" y="142.60" font-size="8.8" text-anchor="end" fill="#2a2a2a" textLength="16.62" lengthAdjust="spacingAndGlyphs" transform="rotate(-45 382.60 142.60)">&lt;1kb</text>
<text x="407.80" y="142.60" font-size="8.8" text-anchor="end" fill="#2a2a2a" textLength="31.13" lengthAdjust="spacingAndGlyphs" transform="rotate(-45 407.80 142.60)">1kb-10kb</text>
<text x="433.00" y="142.60" font-size="8.8" text-anchor="end" fill="#2a2a2a" textLength="39.55" lengthAdjust="spacingAndGlyphs" transform="rotate(-45 433.00 142.60)">10kb-100kb</text>
<text x="458.10" y="142.60" font-size="8.8" text-anchor="end" fill="#2a2a2a" textLength="25.04" lengthAdjust="spacingAndGlyphs" transform="rotate(-45 458.10 142.60)">100kb+</text>
<text x="419.50" y="184.80" font-size="9.4" text-anchor="middle" fill="#333" textLength="108.8" lengthAdjust="spacingAndGlyphs">Distance to closest RUNX1 peak</text>
<text x="0" y="0" font-size="12.6" font-weight="bold" fill="#000" style="stroke:#000;stroke-width:0.3" transform="translate(7.07 202.40) scale(0.860 1)">B</text>
<text x="78.78" y="200.80" font-size="10.3" text-anchor="middle" fill="#222" textLength="38.74" lengthAdjust="spacingAndGlyphs">Cluster 1</text>
<text x="78.78" y="212.60" font-size="10.0" text-anchor="middle" fill="#222" textLength="55.99" lengthAdjust="spacingAndGlyphs">(1066 genes)</text>
<rect x="36.05" y="218.30" width="89.45" height="56.70" fill="none" stroke="#231f20" stroke-width="1.25"/>
<line x1="33.35" y1="230.00" x2="36.05" y2="230.00" stroke="#231f20" stroke-width="1.0" />
<line x1="33.35" y1="247.30" x2="36.05" y2="247.30" stroke="#231f20" stroke-width="1.0" />
<line x1="33.35" y1="264.30" x2="36.05" y2="264.30" stroke="#231f20" stroke-width="1.0" />
<line x1="48.55" y1="275.00" x2="48.55" y2="277.60" stroke="#231f20" stroke-width="0.9" />
<text x="48.55" y="288.40" font-size="8.3" text-anchor="middle" fill="#222" textLength="9.85" lengthAdjust="spacingAndGlyphs">EV</text>
<path d="M48.55,221.80 C49.05,221.87 50.63,222.00 51.55,222.20 C52.47,222.40 53.30,222.67 54.05,223.00 C54.80,223.33 55.47,223.78 56.05,224.20 C56.63,224.62 57.18,225.12 57.55,225.50 C57.92,225.88 58.20,226.17 58.25,226.50 C58.30,226.83 58.13,227.08 57.85,227.50 C57.57,227.92 57.02,228.42 56.55,229.00 C56.08,229.58 55.55,230.33 55.05,231.00 C54.55,231.67 54.03,232.33 53.55,233.00 C53.07,233.67 52.58,234.33 52.15,235.00 C51.72,235.67 51.33,236.33 50.95,237.00 C50.57,237.67 50.13,238.33 49.85,239.00 C49.57,239.67 49.41,240.33 49.25,241.00 C49.09,241.67 48.97,240.73 48.90,243.00 C48.83,245.27 48.91,252.62 48.85,254.60 C48.79,256.58 48.60,254.85 48.55,254.90 C48.50,254.85 48.31,256.58 48.25,254.60 C48.19,252.62 48.27,245.27 48.20,243.00 C48.13,240.73 48.01,241.67 47.85,241.00 C47.69,240.33 47.53,239.67 47.25,239.00 C46.97,238.33 46.53,237.67 46.15,237.00 C45.77,236.33 45.38,235.67 44.95,235.00 C44.52,234.33 44.03,233.67 43.55,233.00 C43.07,232.33 42.55,231.67 42.05,231.00 C41.55,230.33 41.02,229.58 40.55,229.00 C40.08,228.42 39.53,227.92 39.25,227.50 C38.97,227.08 38.80,226.83 38.85,226.50 C38.90,226.17 39.18,225.88 39.55,225.50 C39.92,225.12 40.47,224.62 41.05,224.20 C41.63,223.78 42.30,223.33 43.05,223.00 C43.80,222.67 44.63,222.40 45.55,222.20 C46.47,222.00 48.05,221.87 48.55,221.80 Z" fill="#f4f4f6" stroke="#8a8a8c" stroke-width="0.7"/>
<path d="M47.0 235.2h0M45.1 227.7h0M47.3 230.1h0M48.3 238.0h0M53.4 229.0h0M47.8 234.2h0M50.9 226.8h0M51.9 233.0h0M49.0 239.3h0M48.2 237.3h0M43.6 230.7h0M54.7 228.5h0M50.0 237.1h0M46.6 233.6h0M52.7 227.1h0M44.6 223.0h0M49.6 237.5h0M47.7 224.5h0M46.3 224.6h0M48.2 222.0h0M48.0 239.1h0M45.7 223.6h0M47.5 230.3h0M49.9 233.5h0M53.7 226.1h0M46.5 235.3h0M43.8 226.6h0M43.7 227.7h0M49.3 228.7h0M53.0 225.7h0M42.8 228.0h0M49.4 231.3h0M45.9 223.4h0M50.3 235.0h0M48.1 235.0h0M46.0 234.1h0M48.2 235.0h0M49.9 232.1h0M51.7 232.1h0M52.2 229.0h0M46.4 230.1h0M47.8 224.5h0" stroke="#d6d6da" stroke-width="0.9" stroke-linecap="round" stroke-opacity="0.8"/>
<line x1="70.03" y1="275.00" x2="70.03" y2="277.60" stroke="#231f20" stroke-width="0.9" />
<text x="70.03" y="288.40" font-size="8.3" text-anchor="middle" fill="#222" textLength="9.04" lengthAdjust="spacingAndGlyphs">4A</text>
<path d="M70.03,221.80 C70.28,222.50 70.95,224.63 71.53,226.00 C72.12,227.37 72.87,228.67 73.53,230.00 C74.20,231.33 75.00,232.70 75.53,234.00 C76.07,235.30 76.65,236.55 76.73,237.80 C76.82,239.05 76.40,240.30 76.03,241.50 C75.67,242.70 75.12,243.75 74.53,245.00 C73.95,246.25 73.12,247.83 72.53,249.00 C71.95,250.17 71.45,251.13 71.03,252.00 C70.62,252.87 70.20,253.83 70.03,254.20 C69.87,253.83 69.45,252.87 69.03,252.00 C68.62,251.13 68.12,250.17 67.53,249.00 C66.95,247.83 66.12,246.25 65.53,245.00 C64.95,243.75 64.40,242.70 64.03,241.50 C63.67,240.30 63.25,239.05 63.33,237.80 C63.42,236.55 64.00,235.30 64.53,234.00 C65.07,232.70 65.87,231.33 66.53,230.00 C67.20,228.67 67.95,227.37 68.53,226.00 C69.12,224.63 69.78,222.50 70.03,221.80 Z" fill="#d0d6ec" stroke="#8c92ae" stroke-width="0.7"/>
<path d="M70.1 230.1h0M70.8 251.2h0M70.2 247.3h0M72.1 230.1h0M71.4 235.1h0M68.1 241.6h0M70.8 243.8h0M69.6 243.4h0M73.2 234.1h0M71.3 233.0h0M73.4 244.3h0M70.7 228.1h0M70.5 227.4h0M72.0 243.1h0M69.2 249.9h0M69.5 249.7h0M66.7 234.8h0M65.2 239.0h0M71.2 231.9h0M68.0 246.0h0M69.7 247.2h0M71.0 228.5h0M69.8 245.7h0M71.2 239.0h0M72.3 242.3h0M68.4 246.7h0M69.7 225.2h0M74.3 240.6h0M68.9 235.3h0M74.3 239.9h0M68.2 240.9h0M72.9 246.3h0M69.5 247.5h0M69.9 227.4h0M69.2 226.0h0M73.3 236.3h0M69.5 244.5h0M69.2 227.6h0M70.5 230.7h0M69.7 250.6h0M71.8 248.6h0M73.9 237.3h0M70.0 250.6h0M68.7 227.3h0M69.8 229.6h0M70.0 232.5h0M71.7 232.7h0M70.3 240.3h0M70.7 242.3h0M67.1 235.2h0M65.9 240.9h0M68.0 232.9h0M68.1 246.3h0M71.8 236.0h0M72.7 235.3h0M69.4 225.6h0M69.3 230.7h0M67.2 239.9h0M71.9 239.9h0M72.6 242.9h0M71.7 243.8h0M68.6 248.5h0M70.9 246.4h0M71.2 227.2h0M70.8 245.0h0M70.7 246.4h0M66.7 232.8h0M71.0 232.9h0M68.9 227.9h0M70.0 225.4h0M66.9 245.5h0" stroke="#e6e9f4" stroke-width="0.9" stroke-linecap="round" stroke-opacity="0.8"/>
<line x1="91.52" y1="275.00" x2="91.52" y2="277.60" stroke="#231f20" stroke-width="0.9" />
<text x="91.52" y="288.40" font-size="8.3" text-anchor="middle" fill="#222" textLength="11.48" lengthAdjust="spacingAndGlyphs">WT</text>
<path d="M91.52,239.50 C91.65,239.75 92.05,239.92 92.32,241.00 C92.58,242.08 92.67,244.50 93.12,246.00 C93.57,247.50 94.37,248.50 95.02,250.00 C95.67,251.50 96.48,253.50 97.02,255.00 C97.55,256.50 97.98,257.83 98.22,259.00 C98.45,260.17 98.50,261.00 98.42,262.00 C98.33,263.00 98.12,264.00 97.72,265.00 C97.32,266.00 96.63,267.08 96.02,268.00 C95.40,268.92 94.77,269.77 94.02,270.50 C93.27,271.23 91.93,272.08 91.52,272.40 C91.10,272.08 89.77,271.23 89.02,270.50 C88.27,269.77 87.63,268.92 87.02,268.00 C86.40,267.08 85.72,266.00 85.32,265.00 C84.92,264.00 84.70,263.00 84.62,262.00 C84.53,261.00 84.58,260.17 84.82,259.00 C85.05,257.83 85.48,256.50 86.02,255.00 C86.55,253.50 87.37,251.50 88.02,250.00 C88.67,248.50 89.47,247.50 89.92,246.00 C90.37,244.50 90.45,242.08 90.72,241.00 C90.98,239.92 91.38,239.75 91.52,239.50 Z" fill="#a0c2e4" stroke="#6f9ac8" stroke-width="0.7"/>
<path d="M92.7 251.9h0M89.2 265.7h0M93.8 254.1h0M88.8 268.3h0M94.6 266.4h0M93.6 267.1h0M90.3 251.8h0M90.2 252.5h0M92.4 244.7h0M93.4 268.5h0M89.7 249.2h0M88.4 253.6h0M92.1 251.1h0M90.7 249.9h0M93.3 250.3h0M92.4 266.3h0M93.3 257.5h0M90.1 267.9h0M91.6 252.6h0M90.1 269.2h0M96.0 256.7h0M91.9 246.5h0M91.7 244.9h0M92.0 253.8h0M92.5 246.1h0M91.1 245.4h0M91.8 247.9h0M87.8 253.7h0M91.5 260.7h0M93.4 270.3h0M89.9 258.9h0M92.3 243.8h0M89.2 256.0h0M88.7 258.3h0M91.1 267.6h0M92.3 246.1h0M92.0 243.9h0M92.7 247.7h0M92.1 247.9h0M91.6 261.6h0M91.8 268.1h0M91.6 247.2h0M90.7 262.1h0M87.7 256.8h0M92.5 247.7h0M89.8 250.5h0M87.4 265.6h0M90.5 245.7h0M90.4 249.1h0M90.4 269.9h0M89.5 258.5h0M87.7 263.4h0M89.5 250.8h0M90.3 249.5h0M95.0 254.4h0M91.9 247.1h0M90.6 267.0h0M90.4 251.3h0M91.8 251.8h0M87.1 265.2h0M90.9 245.3h0M94.2 259.9h0M93.0 253.8h0M91.0 251.7h0M93.2 268.3h0M90.3 269.3h0M94.6 262.9h0M90.4 248.5h0M90.3 270.1h0M89.4 250.2h0M92.3 268.3h0M91.3 247.5h0M87.8 254.1h0M87.4 264.0h0M93.1 252.1h0M92.7 248.8h0" stroke="#c4daf0" stroke-width="0.9" stroke-linecap="round" stroke-opacity="0.8"/>
<line x1="113.00" y1="275.00" x2="113.00" y2="277.60" stroke="#231f20" stroke-width="0.9" />
<text x="113.00" y="288.40" font-size="8.3" text-anchor="middle" fill="#222" textLength="9.44" lengthAdjust="spacingAndGlyphs">4D</text>
<path d="M113.00,242.60 C113.17,243.00 113.58,244.10 114.00,245.00 C114.42,245.90 114.95,246.83 115.50,248.00 C116.05,249.17 116.78,250.67 117.30,252.00 C117.82,253.33 118.27,254.67 118.60,256.00 C118.93,257.33 119.20,258.67 119.30,260.00 C119.40,261.33 119.42,262.67 119.20,264.00 C118.98,265.33 118.53,266.83 118.00,268.00 C117.47,269.17 116.83,270.22 116.00,271.00 C115.17,271.78 113.50,272.42 113.00,272.70 C112.50,272.42 110.83,271.78 110.00,271.00 C109.17,270.22 108.53,269.17 108.00,268.00 C107.47,266.83 107.02,265.33 106.80,264.00 C106.58,262.67 106.60,261.33 106.70,260.00 C106.80,258.67 107.07,257.33 107.40,256.00 C107.73,254.67 108.18,253.33 108.70,252.00 C109.22,250.67 109.95,249.17 110.50,248.00 C111.05,246.83 111.58,245.90 112.00,245.00 C112.42,244.10 112.83,243.00 113.00,242.60 Z" fill="#2a74b8" stroke="#1b5c9c" stroke-width="0.7"/>
<path d="M114.2 269.8h0M116.5 255.4h0M116.3 252.3h0M113.3 260.8h0M110.4 268.8h0M114.6 251.2h0M112.8 270.5h0M117.3 257.4h0M114.3 259.5h0M110.9 268.6h0M114.0 269.2h0M108.5 260.0h0M110.7 266.7h0M117.6 262.7h0M116.6 255.5h0M115.0 251.2h0M114.5 267.3h0M109.3 263.8h0M114.9 267.9h0M110.0 254.2h0M113.1 250.7h0M115.5 250.1h0M112.3 247.4h0M113.6 246.3h0M111.1 267.5h0M116.0 254.4h0M110.3 260.6h0M111.4 265.8h0M113.0 256.1h0M112.6 261.7h0M112.5 247.1h0M113.0 246.5h0M114.0 261.1h0M115.6 259.3h0M111.5 259.8h0M112.2 266.2h0M109.0 266.5h0M109.5 256.4h0M114.8 248.5h0M111.3 266.0h0M113.5 246.0h0M110.0 263.9h0M114.3 259.3h0M111.9 246.0h0M111.5 267.8h0M109.9 252.7h0M110.7 262.1h0M111.6 258.9h0M109.8 253.1h0M115.7 252.4h0M114.9 271.0h0M115.3 268.2h0M114.0 261.5h0M117.2 264.2h0M113.5 260.8h0M116.1 264.5h0M108.6 258.7h0M111.5 260.8h0M111.8 246.5h0M117.1 258.7h0M116.1 259.4h0M112.4 247.8h0M113.7 271.4h0M111.1 264.5h0M111.5 262.7h0M111.6 248.6h0M111.5 247.9h0M115.8 254.4h0M111.8 259.0h0M117.0 261.9h0M115.2 250.4h0M109.9 253.2h0M116.9 263.1h0M111.6 253.7h0M111.2 249.7h0M111.0 262.6h0M112.6 270.7h0" stroke="#7fb0dc" stroke-width="0.9" stroke-linecap="round" stroke-opacity="0.8"/>
<text x="176.15" y="200.80" font-size="10.3" text-anchor="middle" fill="#222" textLength="38.74" lengthAdjust="spacingAndGlyphs">Cluster 2</text>
<text x="176.15" y="212.60" font-size="10.0" text-anchor="middle" fill="#222" textLength="55.99" lengthAdjust="spacingAndGlyphs">(1003 genes)</text>
<rect x="130.40" y="218.30" width="91.50" height="56.70" fill="none" stroke="#231f20" stroke-width="1.25"/>
<line x1="127.70" y1="230.00" x2="130.40" y2="230.00" stroke="#231f20" stroke-width="1.0" />
<line x1="127.70" y1="247.30" x2="130.40" y2="247.30" stroke="#231f20" stroke-width="1.0" />
<line x1="127.70" y1="264.30" x2="130.40" y2="264.30" stroke="#231f20" stroke-width="1.0" />
<line x1="142.90" y1="275.00" x2="142.90" y2="277.60" stroke="#231f20" stroke-width="0.9" />
<text x="142.90" y="288.40" font-size="8.3" text-anchor="middle" fill="#222" textLength="9.85" lengthAdjust="spacingAndGlyphs">EV</text>
<path d="M142.90,243.50 C143.02,243.75 143.43,243.92 143.60,245.00 C143.77,246.08 143.75,248.50 143.90,250.00 C144.05,251.50 144.23,252.72 144.50,254.00 C144.77,255.28 144.82,256.50 145.50,257.70 C146.18,258.90 147.52,260.02 148.60,261.20 C149.68,262.38 151.33,263.67 152.00,264.80 C152.67,265.93 152.87,267.08 152.60,268.00 C152.33,268.92 151.35,269.77 150.40,270.30 C149.45,270.83 148.15,271.00 146.90,271.20 C145.65,271.40 143.57,271.45 142.90,271.50 C142.23,271.45 140.15,271.40 138.90,271.20 C137.65,271.00 136.35,270.83 135.40,270.30 C134.45,269.77 133.47,268.92 133.20,268.00 C132.93,267.08 133.13,265.93 133.80,264.80 C134.47,263.67 136.12,262.38 137.20,261.20 C138.28,260.02 139.62,258.90 140.30,257.70 C140.98,256.50 141.03,255.28 141.30,254.00 C141.57,252.72 141.75,251.50 141.90,250.00 C142.05,248.50 142.03,246.08 142.20,245.00 C142.37,243.92 142.78,243.75 142.90,243.50 Z" fill="#f4f4f6" stroke="#8a8a8c" stroke-width="0.7"/>
<path d="M147.7 262.2h0M144.4 270.7h0M149.0 265.0h0M143.1 258.8h0M143.0 255.0h0M142.5 255.7h0M140.7 267.0h0M139.2 268.6h0M142.9 261.7h0M143.4 251.9h0M140.6 271.2h0M136.9 266.2h0M143.9 253.4h0M147.1 270.5h0M143.4 253.4h0M139.4 270.9h0M146.1 266.7h0M142.3 269.6h0M145.3 261.5h0M143.7 257.4h0M142.4 271.1h0M149.5 268.4h0M143.5 269.2h0M143.1 251.6h0M146.0 265.1h0M142.6 254.5h0M146.5 264.8h0M142.6 251.5h0M145.6 268.4h0M143.6 252.7h0M141.4 258.5h0M143.4 255.1h0M141.3 267.0h0M144.3 255.0h0M140.7 270.3h0M144.6 270.8h0M147.9 268.8h0M137.2 263.4h0M141.6 258.3h0M142.6 254.5h0M141.1 268.3h0M142.1 256.5h0M144.8 267.0h0M138.9 264.0h0M144.1 259.4h0M143.3 254.7h0M139.7 270.3h0M148.1 262.8h0M143.3 265.1h0M142.3 252.7h0M140.8 261.1h0M140.8 271.2h0M144.2 254.9h0M142.2 253.1h0" stroke="#d6d6da" stroke-width="0.9" stroke-linecap="round" stroke-opacity="0.8"/>
<line x1="165.07" y1="275.00" x2="165.07" y2="277.60" stroke="#231f20" stroke-width="0.9" />
<text x="165.07" y="288.40" font-size="8.3" text-anchor="middle" fill="#222" textLength="9.04" lengthAdjust="spacingAndGlyphs">4A</text>
<path d="M165.07,239.60 C165.32,240.00 165.98,240.93 166.57,242.00 C167.15,243.07 167.92,244.67 168.57,246.00 C169.22,247.33 169.97,248.63 170.47,250.00 C170.97,251.37 171.43,252.87 171.57,254.20 C171.70,255.53 171.52,256.70 171.27,258.00 C171.02,259.30 170.57,260.67 170.07,262.00 C169.57,263.33 168.85,264.75 168.27,266.00 C167.68,267.25 167.10,268.53 166.57,269.50 C166.03,270.47 165.32,271.42 165.07,271.80 C164.82,271.42 164.10,270.47 163.57,269.50 C163.03,268.53 162.45,267.25 161.87,266.00 C161.28,264.75 160.57,263.33 160.07,262.00 C159.57,260.67 159.12,259.30 158.87,258.00 C158.62,256.70 158.43,255.53 158.57,254.20 C158.70,252.87 159.17,251.37 159.67,250.00 C160.17,248.63 160.92,247.33 161.57,246.00 C162.22,244.67 162.98,243.07 163.57,242.00 C164.15,240.93 164.82,240.00 165.07,239.60 Z" fill="#d0d6ec" stroke="#8c92ae" stroke-width="0.7"/>
<path d="M162.2 262.9h0M162.3 254.8h0M165.1 253.7h0M169.1 260.6h0M168.6 253.4h0M162.9 253.6h0M162.0 259.7h0M166.8 257.9h0M165.0 244.0h0M162.0 253.9h0M165.0 261.7h0M165.4 258.8h0M167.5 259.4h0M169.5 255.2h0M164.9 268.7h0M165.0 243.5h0M168.5 251.9h0M161.6 249.7h0M167.0 245.9h0M166.5 243.5h0M165.5 253.4h0M167.4 263.9h0M165.3 243.2h0M167.3 245.7h0M163.6 264.4h0M169.1 250.7h0M162.3 264.3h0M165.7 246.7h0M165.2 246.3h0M164.8 254.5h0M164.4 266.3h0M164.3 268.6h0M161.8 254.1h0M167.1 266.1h0M167.2 246.5h0M164.5 269.0h0M164.4 265.8h0M165.9 245.6h0M163.4 250.4h0M166.3 260.4h0M161.2 256.9h0M166.4 243.1h0M168.1 262.5h0M168.3 261.8h0M163.9 251.6h0M163.2 250.5h0M167.0 249.9h0M164.8 269.3h0M162.7 259.0h0M168.3 249.5h0M161.2 256.9h0M167.9 255.1h0M162.1 261.5h0M163.5 252.1h0M163.6 246.7h0M165.3 266.6h0M164.5 265.5h0M163.0 266.7h0M162.5 250.6h0M166.7 248.2h0M166.9 245.4h0M168.5 258.3h0M164.2 241.6h0M160.8 254.7h0M164.0 248.9h0M163.8 247.9h0M163.5 247.3h0M161.4 253.5h0M167.8 258.9h0M165.7 245.3h0M163.7 261.7h0M161.9 252.0h0M169.2 259.4h0M163.4 264.6h0M165.2 253.4h0" stroke="#e6e9f4" stroke-width="0.9" stroke-linecap="round" stroke-opacity="0.8"/>
<line x1="187.23" y1="275.00" x2="187.23" y2="277.60" stroke="#231f20" stroke-width="0.9" />
<text x="187.23" y="288.40" font-size="8.3" text-anchor="middle" fill="#222" textLength="11.48" lengthAdjust="spacingAndGlyphs">WT</text>
<path d="M187.23,221.40 C187.48,221.67 188.07,222.23 188.73,223.00 C189.40,223.77 190.40,225.00 191.23,226.00 C192.07,227.00 193.12,228.00 193.73,229.00 C194.35,230.00 194.85,231.00 194.93,232.00 C195.02,233.00 194.68,234.00 194.23,235.00 C193.78,236.00 192.87,237.00 192.23,238.00 C191.60,239.00 190.93,240.00 190.43,241.00 C189.93,242.00 189.52,243.00 189.23,244.00 C188.95,245.00 188.90,245.83 188.73,247.00 C188.57,248.17 188.48,249.80 188.23,251.00 C187.98,252.20 187.40,253.67 187.23,254.20 C187.07,253.67 186.48,252.20 186.23,251.00 C185.98,249.80 185.90,248.17 185.73,247.00 C185.57,245.83 185.52,245.00 185.23,244.00 C184.95,243.00 184.53,242.00 184.03,241.00 C183.53,240.00 182.87,239.00 182.23,238.00 C181.60,237.00 180.68,236.00 180.23,235.00 C179.78,234.00 179.45,233.00 179.53,232.00 C179.62,231.00 180.12,230.00 180.73,229.00 C181.35,228.00 182.40,227.00 183.23,226.00 C184.07,225.00 185.07,223.77 185.73,223.00 C186.40,222.23 186.98,221.67 187.23,221.40 Z" fill="#a0c2e4" stroke="#6f9ac8" stroke-width="0.7"/>
<path d="M192.2 230.6h0M184.6 236.0h0M187.3 246.1h0M188.3 244.8h0M186.6 247.1h0M188.6 239.6h0M190.9 227.1h0M190.9 230.3h0M185.4 224.3h0M185.6 224.3h0M188.0 224.0h0M187.9 247.5h0M186.5 247.0h0M182.3 234.0h0M184.9 227.3h0M191.0 236.6h0M189.3 233.0h0M186.5 243.0h0M186.7 222.8h0M187.4 228.0h0M189.0 231.8h0M185.5 241.5h0M184.2 235.1h0M184.1 237.2h0M186.5 246.1h0M186.7 227.0h0M188.6 223.9h0M186.3 224.0h0M187.7 248.7h0M188.4 239.0h0M188.3 235.9h0M188.3 241.7h0M184.6 238.4h0M188.3 246.7h0M190.1 239.0h0M187.9 246.1h0M187.5 247.4h0M185.5 225.0h0M185.9 242.5h0M190.9 229.1h0M187.7 225.5h0M186.7 246.3h0M189.1 234.0h0M185.2 241.0h0M187.3 227.9h0M183.5 229.7h0M189.1 226.5h0M191.2 232.8h0M189.2 232.7h0M185.3 228.3h0M187.3 228.7h0M188.6 224.7h0M186.1 244.3h0M184.6 230.5h0M188.3 228.5h0M187.3 246.0h0M191.0 230.6h0M187.5 246.1h0M182.9 230.3h0M187.4 234.2h0M185.5 240.2h0M183.5 233.6h0M187.1 238.2h0M186.9 241.3h0M188.8 243.2h0" stroke="#c4daf0" stroke-width="0.9" stroke-linecap="round" stroke-opacity="0.8"/>
<line x1="209.40" y1="275.00" x2="209.40" y2="277.60" stroke="#231f20" stroke-width="0.9" />
<text x="209.40" y="288.40" font-size="8.3" text-anchor="middle" fill="#222" textLength="9.44" lengthAdjust="spacingAndGlyphs">4D</text>
<path d="M209.40,220.90 C209.90,221.00 211.60,221.15 212.40,221.50 C213.20,221.85 213.77,222.25 214.20,223.00 C214.63,223.75 214.80,225.00 215.00,226.00 C215.20,227.00 215.30,228.00 215.40,229.00 C215.50,230.00 215.67,231.00 215.60,232.00 C215.53,233.00 215.28,234.00 215.00,235.00 C214.72,236.00 214.30,237.00 213.90,238.00 C213.50,239.00 212.98,240.00 212.60,241.00 C212.22,242.00 211.92,243.00 211.60,244.00 C211.28,245.00 211.07,245.83 210.70,247.00 C210.33,248.17 209.62,250.33 209.40,251.00 C209.18,250.33 208.47,248.17 208.10,247.00 C207.73,245.83 207.52,245.00 207.20,244.00 C206.88,243.00 206.58,242.00 206.20,241.00 C205.82,240.00 205.30,239.00 204.90,238.00 C204.50,237.00 204.08,236.00 203.80,235.00 C203.52,234.00 203.27,233.00 203.20,232.00 C203.13,231.00 203.30,230.00 203.40,229.00 C203.50,228.00 203.60,227.00 203.80,226.00 C204.00,225.00 204.17,223.75 204.60,223.00 C205.03,222.25 205.60,221.85 206.40,221.50 C207.20,221.15 208.90,221.00 209.40,220.90 Z" fill="#2a74b8" stroke="#1b5c9c" stroke-width="0.7"/>
<path d="M210.2 232.9h0M209.3 236.5h0M210.0 223.4h0M208.6 238.6h0M205.7 231.3h0M210.1 241.3h0M206.8 224.5h0M207.5 228.2h0M211.4 237.8h0M211.4 237.9h0M208.3 230.2h0M211.0 241.0h0M208.1 242.6h0M206.8 238.7h0M208.9 226.4h0M207.8 239.7h0M207.6 233.8h0M212.4 224.1h0M210.1 245.8h0M212.0 225.2h0M207.6 223.0h0M206.7 229.7h0M211.0 237.8h0M211.9 238.6h0M210.8 239.1h0M211.5 234.4h0M209.1 225.2h0M208.3 228.5h0M205.5 232.3h0M207.2 236.4h0M209.7 236.5h0M212.7 234.2h0M210.7 236.9h0M212.5 234.2h0M205.1 233.3h0M207.2 227.7h0M207.7 240.4h0M208.4 240.4h0M211.5 240.5h0M210.4 240.7h0M209.9 238.5h0M211.5 235.3h0M208.5 233.3h0M210.1 245.2h0M209.0 221.2h0M207.3 230.6h0M209.2 224.6h0M210.5 234.7h0M212.0 232.7h0M211.0 243.2h0M211.0 221.7h0M209.6 236.3h0M212.3 230.5h0M212.4 234.8h0M209.3 243.1h0M207.7 225.6h0M208.5 240.0h0M207.4 226.7h0M210.1 235.3h0M207.6 242.9h0M206.9 238.9h0M207.3 236.9h0M209.3 242.4h0M209.4 224.4h0M211.2 234.5h0M209.6 222.7h0M212.3 232.7h0M213.1 228.5h0M206.5 225.0h0M208.0 228.6h0M209.1 245.2h0M211.8 237.9h0M209.4 223.8h0" stroke="#7fb0dc" stroke-width="0.9" stroke-linecap="round" stroke-opacity="0.8"/>
<text x="273.05" y="200.80" font-size="10.3" text-anchor="middle" fill="#222" textLength="38.74" lengthAdjust="spacingAndGlyphs">Cluster 3</text>
<text x="273.05" y="212.60" font-size="10.0" text-anchor="middle" fill="#222" textLength="50.7" lengthAdjust="spacingAndGlyphs">(346 genes)</text>
<rect x="227.30" y="218.30" width="91.50" height="56.70" fill="none" stroke="#231f20" stroke-width="1.25"/>
<line x1="224.60" y1="230.00" x2="227.30" y2="230.00" stroke="#231f20" stroke-width="1.0" />
<line x1="224.60" y1="247.30" x2="227.30" y2="247.30" stroke="#231f20" stroke-width="1.0" />
<line x1="224.60" y1="264.30" x2="227.30" y2="264.30" stroke="#231f20" stroke-width="1.0" />
<line x1="239.80" y1="275.00" x2="239.80" y2="277.60" stroke="#231f20" stroke-width="0.9" />
<text x="239.80" y="288.40" font-size="8.3" text-anchor="middle" fill="#222" textLength="9.85" lengthAdjust="spacingAndGlyphs">EV</text>
<path d="M239.80,256.80 C239.97,257.00 240.47,257.55 240.80,258.00 C241.13,258.45 241.15,258.82 241.80,259.50 C242.45,260.18 243.70,261.07 244.70,262.10 C245.70,263.13 247.03,264.63 247.80,265.70 C248.57,266.77 249.13,267.70 249.30,268.50 C249.47,269.30 249.38,269.95 248.80,270.50 C248.22,271.05 247.30,271.52 245.80,271.80 C244.30,272.08 240.80,272.13 239.80,272.20 C238.80,272.13 235.30,272.08 233.80,271.80 C232.30,271.52 231.38,271.05 230.80,270.50 C230.22,269.95 230.13,269.30 230.30,268.50 C230.47,267.70 231.03,266.77 231.80,265.70 C232.57,264.63 233.90,263.13 234.90,262.10 C235.90,261.07 237.15,260.18 237.80,259.50 C238.45,258.82 238.47,258.45 238.80,258.00 C239.13,257.55 239.63,257.00 239.80,256.80 Z" fill="#f4f4f6" stroke="#8a8a8c" stroke-width="0.7"/>
<path d="M242.6 266.6h0M240.9 262.5h0M238.7 258.8h0M234.6 269.0h0M238.1 264.7h0M243.0 263.5h0M242.9 268.8h0M244.9 269.8h0M233.7 268.6h0M235.8 265.7h0M243.2 270.7h0M240.4 269.3h0M238.3 263.0h0M244.1 271.2h0M238.7 259.1h0M237.0 266.9h0M241.1 265.0h0M236.2 263.5h0M244.1 264.6h0M236.5 263.9h0M240.9 258.9h0M237.5 267.4h0M243.9 264.6h0M237.2 263.4h0M241.0 269.6h0M236.6 264.4h0M240.3 266.7h0M242.5 260.9h0M241.1 264.3h0M235.6 266.1h0M237.7 270.3h0M237.1 263.7h0M242.8 265.9h0M239.4 262.7h0M240.2 259.8h0M241.7 261.6h0M233.0 270.2h0M237.8 265.9h0M238.5 260.7h0M237.2 261.5h0M238.8 258.8h0M242.7 261.8h0M242.3 262.0h0M240.5 259.6h0M236.9 271.5h0M242.5 265.8h0M237.6 263.4h0M240.1 262.5h0M236.2 268.8h0M236.7 269.7h0M244.9 267.1h0M240.7 258.4h0M241.1 266.2h0M241.8 270.9h0M239.9 259.6h0M242.8 271.7h0" stroke="#d6d6da" stroke-width="0.9" stroke-linecap="round" stroke-opacity="0.8"/>
<line x1="261.97" y1="275.00" x2="261.97" y2="277.60" stroke="#231f20" stroke-width="0.9" />
<text x="261.97" y="288.40" font-size="8.3" text-anchor="middle" fill="#222" textLength="9.04" lengthAdjust="spacingAndGlyphs">4A</text>
<path d="M261.97,220.50 C262.17,220.75 262.70,221.25 263.17,222.00 C263.63,222.75 264.22,223.83 264.77,225.00 C265.32,226.17 266.00,227.67 266.47,229.00 C266.93,230.33 267.33,231.75 267.57,233.00 C267.80,234.25 267.93,235.33 267.87,236.50 C267.80,237.67 267.57,238.92 267.17,240.00 C266.77,241.08 266.07,241.97 265.47,243.00 C264.87,244.03 263.98,245.03 263.57,246.20 C263.15,247.37 263.23,248.82 262.97,250.00 C262.70,251.18 262.13,252.75 261.97,253.30 C261.80,252.75 261.23,251.18 260.97,250.00 C260.70,248.82 260.78,247.37 260.37,246.20 C259.95,245.03 259.07,244.03 258.47,243.00 C257.87,241.97 257.17,241.08 256.77,240.00 C256.37,238.92 256.13,237.67 256.07,236.50 C256.00,235.33 256.13,234.25 256.37,233.00 C256.60,231.75 257.00,230.33 257.47,229.00 C257.93,227.67 258.62,226.17 259.17,225.00 C259.72,223.83 260.30,222.75 260.77,222.00 C261.23,221.25 261.77,220.75 261.97,220.50 Z" fill="#d0d6ec" stroke="#8c92ae" stroke-width="0.7"/>
<path d="M260.9 243.9h0M262.7 235.0h0M261.6 224.6h0M261.0 235.2h0M261.3 245.8h0M265.9 236.6h0M262.1 240.2h0M262.7 244.5h0M260.9 238.6h0M265.3 239.5h0M263.4 234.2h0M262.1 229.2h0M260.5 230.4h0M260.1 227.2h0M260.6 223.7h0M260.2 242.6h0M264.9 235.2h0M260.7 224.5h0M261.8 223.7h0M258.1 235.6h0M262.6 238.9h0M262.5 243.0h0M261.9 222.4h0M260.8 228.1h0M263.0 243.0h0M264.5 231.4h0M260.5 224.4h0M263.9 226.2h0M263.3 238.7h0M264.9 238.7h0M263.8 237.2h0M260.4 231.8h0M262.5 247.6h0M259.0 231.6h0M261.2 226.9h0M264.9 230.1h0M260.7 241.0h0M265.2 233.1h0M261.7 223.3h0M262.3 223.6h0M262.5 236.9h0M261.5 223.9h0M264.2 226.6h0M258.2 235.8h0M261.8 226.6h0M262.8 231.0h0M262.7 234.8h0M264.4 229.0h0M265.8 239.6h0M265.6 236.7h0M263.9 226.1h0M258.8 238.1h0M260.5 240.1h0M260.8 222.7h0M264.8 234.5h0M263.2 240.0h0M262.5 224.6h0M258.7 234.9h0M264.9 235.3h0M263.6 242.5h0M265.3 229.0h0M261.4 222.1h0M258.3 233.6h0M264.3 227.7h0M263.0 241.5h0M263.3 245.0h0M261.0 224.5h0" stroke="#e6e9f4" stroke-width="0.9" stroke-linecap="round" stroke-opacity="0.8"/>
<line x1="284.13" y1="275.00" x2="284.13" y2="277.60" stroke="#231f20" stroke-width="0.9" />
<text x="284.13" y="288.40" font-size="8.3" text-anchor="middle" fill="#222" textLength="11.48" lengthAdjust="spacingAndGlyphs">WT</text>
<path d="M284.13,220.50 C284.38,220.75 284.97,221.25 285.63,222.00 C286.30,222.75 287.33,224.08 288.13,225.00 C288.93,225.92 289.88,226.77 290.43,227.50 C290.98,228.23 291.40,228.65 291.43,229.40 C291.47,230.15 291.10,231.07 290.63,232.00 C290.17,232.93 289.22,234.00 288.63,235.00 C288.05,236.00 287.55,237.00 287.13,238.00 C286.72,239.00 286.42,240.00 286.13,241.00 C285.85,242.00 285.60,242.83 285.43,244.00 C285.27,245.17 285.35,246.60 285.13,248.00 C284.92,249.40 284.30,251.67 284.13,252.40 C283.97,251.67 283.35,249.40 283.13,248.00 C282.92,246.60 283.00,245.17 282.83,244.00 C282.67,242.83 282.42,242.00 282.13,241.00 C281.85,240.00 281.55,239.00 281.13,238.00 C280.72,237.00 280.22,236.00 279.63,235.00 C279.05,234.00 278.10,232.93 277.63,232.00 C277.17,231.07 276.80,230.15 276.83,229.40 C276.87,228.65 277.28,228.23 277.83,227.50 C278.38,226.77 279.33,225.92 280.13,225.00 C280.93,224.08 281.97,222.75 282.63,222.00 C283.30,221.25 283.88,220.75 284.13,220.50 Z" fill="#a0c2e4" stroke="#6f9ac8" stroke-width="0.7"/>
<path d="M285.8 231.2h0M285.2 231.9h0M284.7 234.8h0M283.9 237.9h0M283.6 224.1h0M284.9 244.3h0M288.4 233.0h0M282.4 231.7h0M282.3 225.9h0M284.8 242.7h0M284.9 222.3h0M282.4 238.1h0M283.2 237.4h0M282.3 239.6h0M283.9 221.8h0M287.0 229.6h0M283.0 222.8h0M284.7 241.5h0M283.4 242.3h0M286.8 229.4h0M281.4 236.6h0M283.8 238.3h0M283.0 243.0h0M285.9 238.3h0M283.6 237.6h0M281.2 226.5h0M283.5 234.4h0M282.5 238.8h0M287.5 231.7h0M282.8 224.0h0M283.1 228.1h0M285.6 240.0h0M284.2 233.9h0M283.2 237.2h0M283.1 242.9h0M282.8 241.4h0M282.2 230.6h0M283.6 245.0h0M283.8 233.5h0M284.5 222.3h0M280.9 226.4h0M282.6 236.0h0M284.1 234.3h0M280.7 228.1h0M284.1 242.5h0M283.0 223.6h0M285.7 228.9h0M281.6 228.1h0M282.1 235.1h0" stroke="#c4daf0" stroke-width="0.9" stroke-linecap="round" stroke-opacity="0.8"/>
<line x1="306.30" y1="275.00" x2="306.30" y2="277.60" stroke="#231f20" stroke-width="0.9" />
<text x="306.30" y="288.40" font-size="8.3" text-anchor="middle" fill="#222" textLength="9.44" lengthAdjust="spacingAndGlyphs">4D</text>
<path d="M306.30,238.20 C306.43,238.50 306.73,239.20 307.10,240.00 C307.47,240.80 308.03,242.00 308.50,243.00 C308.97,244.00 309.47,245.00 309.90,246.00 C310.33,247.00 310.73,247.93 311.10,249.00 C311.47,250.07 311.92,251.40 312.10,252.40 C312.28,253.40 312.28,254.07 312.20,255.00 C312.12,255.93 312.00,257.08 311.60,258.00 C311.20,258.92 310.68,259.90 309.80,260.50 C308.92,261.10 306.88,261.42 306.30,261.60 C305.72,261.42 303.68,261.10 302.80,260.50 C301.92,259.90 301.40,258.92 301.00,258.00 C300.60,257.08 300.48,255.93 300.40,255.00 C300.32,254.07 300.32,253.40 300.50,252.40 C300.68,251.40 301.13,250.07 301.50,249.00 C301.87,247.93 302.27,247.00 302.70,246.00 C303.13,245.00 303.63,244.00 304.10,243.00 C304.57,242.00 305.13,240.80 305.50,240.00 C305.87,239.20 306.17,238.50 306.30,238.20 Z" fill="#2a74b8" stroke="#1b5c9c" stroke-width="0.7"/>
<path d="M303.5 249.1h0M306.6 254.9h0M309.2 248.5h0M304.0 258.0h0M306.0 246.9h0M305.8 242.2h0M305.8 255.6h0M307.0 243.6h0M305.8 258.3h0M304.9 247.2h0M303.4 250.7h0M303.1 253.9h0M307.3 254.6h0M305.0 255.9h0M303.7 259.9h0M304.3 250.3h0M309.2 249.4h0M305.8 247.8h0M309.3 257.1h0M306.9 242.7h0M304.4 253.7h0M303.9 257.1h0M305.9 248.6h0M307.0 255.3h0M310.3 255.3h0M302.1 253.4h0M305.6 247.2h0M308.0 245.3h0M303.6 246.9h0M304.3 248.2h0M303.1 248.0h0M309.6 257.0h0M305.4 252.7h0M305.7 241.4h0M302.5 253.0h0M309.0 248.4h0M306.6 257.7h0M306.1 246.3h0M303.2 255.1h0M307.8 259.7h0M308.2 245.8h0M304.8 243.8h0M305.6 245.5h0M309.5 257.8h0M306.8 244.5h0M305.9 248.8h0M308.7 252.5h0M306.4 243.2h0M307.7 258.6h0M303.9 260.4h0M304.4 246.3h0M306.2 244.0h0M307.0 250.3h0" stroke="#7fb0dc" stroke-width="0.9" stroke-linecap="round" stroke-opacity="0.8"/>
<text x="370.25" y="200.80" font-size="10.3" text-anchor="middle" fill="#222" textLength="38.74" lengthAdjust="spacingAndGlyphs">Cluster 4</text>
<text x="370.25" y="212.60" font-size="10.0" text-anchor="middle" fill="#222" textLength="50.7" lengthAdjust="spacingAndGlyphs">(166 genes)</text>
<rect x="324.40" y="218.30" width="91.70" height="56.70" fill="none" stroke="#231f20" stroke-width="1.25"/>
<line x1="321.70" y1="230.00" x2="324.40" y2="230.00" stroke="#231f20" stroke-width="1.0" />
<line x1="321.70" y1="247.30" x2="324.40" y2="247.30" stroke="#231f20" stroke-width="1.0" />
<line x1="321.70" y1="264.30" x2="324.40" y2="264.30" stroke="#231f20" stroke-width="1.0" />
<line x1="336.90" y1="275.00" x2="336.90" y2="277.60" stroke="#231f20" stroke-width="0.9" />
<text x="336.90" y="288.40" font-size="8.3" text-anchor="middle" fill="#222" textLength="9.85" lengthAdjust="spacingAndGlyphs">EV</text>
<path d="M336.90,219.50 C337.73,219.53 340.57,219.45 341.90,219.70 C343.23,219.95 344.15,220.45 344.90,221.00 C345.65,221.55 346.07,222.33 346.40,223.00 C346.73,223.67 347.07,224.33 346.90,225.00 C346.73,225.67 346.15,226.33 345.40,227.00 C344.65,227.67 343.32,228.30 342.40,229.00 C341.48,229.70 340.57,230.53 339.90,231.20 C339.23,231.87 338.90,232.42 338.40,233.00 C337.90,233.58 337.15,234.42 336.90,234.70 C336.65,234.42 335.90,233.58 335.40,233.00 C334.90,232.42 334.57,231.87 333.90,231.20 C333.23,230.53 332.32,229.70 331.40,229.00 C330.48,228.30 329.15,227.67 328.40,227.00 C327.65,226.33 327.07,225.67 326.90,225.00 C326.73,224.33 327.07,223.67 327.40,223.00 C327.73,222.33 328.15,221.55 328.90,221.00 C329.65,220.45 330.57,219.95 331.90,219.70 C333.23,219.45 336.07,219.53 336.90,219.50 Z" fill="#f4f4f6" stroke="#8a8a8c" stroke-width="0.7"/>
<path d="M337.3 229.3h0M340.6 220.3h0M337.7 224.3h0M339.7 222.1h0M339.5 222.8h0M337.3 231.4h0M341.7 223.5h0M339.5 220.0h0M338.2 231.4h0M332.8 227.5h0M339.7 225.0h0M334.0 229.7h0M333.7 219.9h0M334.9 231.4h0M332.4 220.8h0M333.2 220.2h0M338.8 231.7h0M335.9 231.9h0M331.7 224.8h0M336.4 233.0h0M332.3 222.9h0M337.7 230.2h0M336.8 232.5h0M333.4 229.6h0M335.5 231.9h0M337.1 231.9h0M337.5 233.0h0M335.9 224.7h0M335.0 230.3h0M337.9 219.6h0M340.7 220.9h0M337.2 222.2h0M335.9 229.5h0M338.1 224.1h0" stroke="#d6d6da" stroke-width="0.9" stroke-linecap="round" stroke-opacity="0.8"/>
<line x1="359.13" y1="275.00" x2="359.13" y2="277.60" stroke="#231f20" stroke-width="0.9" />
<text x="359.13" y="288.40" font-size="8.3" text-anchor="middle" fill="#222" textLength="9.04" lengthAdjust="spacingAndGlyphs">4A</text>
<path d="M359.13,243.20 C359.38,243.50 360.05,244.20 360.63,245.00 C361.22,245.80 361.97,247.00 362.63,248.00 C363.30,249.00 364.13,250.12 364.63,251.00 C365.13,251.88 365.63,252.47 365.63,253.30 C365.63,254.13 365.13,255.05 364.63,256.00 C364.13,256.95 363.22,258.00 362.63,259.00 C362.05,260.00 361.52,260.83 361.13,262.00 C360.75,263.17 360.55,264.67 360.33,266.00 C360.12,267.33 360.03,268.88 359.83,270.00 C359.63,271.12 359.25,272.25 359.13,272.70 C359.02,272.25 358.63,271.12 358.43,270.00 C358.23,268.88 358.15,267.33 357.93,266.00 C357.72,264.67 357.52,263.17 357.13,262.00 C356.75,260.83 356.22,260.00 355.63,259.00 C355.05,258.00 354.13,256.95 353.63,256.00 C353.13,255.05 352.63,254.13 352.63,253.30 C352.63,252.47 353.13,251.88 353.63,251.00 C354.13,250.12 354.97,249.00 355.63,248.00 C356.30,247.00 357.05,245.80 357.63,245.00 C358.22,244.20 358.88,243.50 359.13,243.20 Z" fill="#d0d6ec" stroke="#8c92ae" stroke-width="0.7"/>
<path d="M357.8 262.8h0M360.2 249.7h0M359.8 260.7h0M362.3 250.1h0M357.6 261.0h0M361.4 249.0h0M359.2 257.2h0M359.1 253.0h0M363.1 250.8h0M360.0 259.3h0M356.8 250.7h0M360.0 250.7h0M359.1 255.9h0M363.2 255.1h0M358.0 246.9h0M360.0 259.5h0M357.7 258.3h0M360.2 264.2h0M356.9 248.9h0M359.4 259.0h0M359.8 261.6h0M356.2 256.5h0M358.8 248.3h0M357.5 246.4h0M360.8 260.9h0" stroke="#e6e9f4" stroke-width="0.9" stroke-linecap="round" stroke-opacity="0.8"/>
<line x1="381.37" y1="275.00" x2="381.37" y2="277.60" stroke="#231f20" stroke-width="0.9" />
<text x="381.37" y="288.40" font-size="8.3" text-anchor="middle" fill="#222" textLength="11.48" lengthAdjust="spacingAndGlyphs">WT</text>
<path d="M381.37,240.90 C381.45,241.25 381.73,241.68 381.87,243.00 C382.00,244.32 381.98,247.30 382.17,248.80 C382.35,250.30 382.68,250.82 382.97,252.00 C383.25,253.18 383.50,254.82 383.87,255.90 C384.23,256.98 384.70,257.62 385.17,258.50 C385.63,259.38 386.17,260.28 386.67,261.20 C387.17,262.12 387.83,263.20 388.17,264.00 C388.50,264.80 388.72,265.33 388.67,266.00 C388.62,266.67 388.25,267.37 387.87,268.00 C387.48,268.63 387.12,269.30 386.37,269.80 C385.62,270.30 384.20,270.75 383.37,271.00 C382.53,271.25 381.70,271.25 381.37,271.30 C381.03,271.25 380.20,271.25 379.37,271.00 C378.53,270.75 377.12,270.30 376.37,269.80 C375.62,269.30 375.25,268.63 374.87,268.00 C374.48,267.37 374.12,266.67 374.07,266.00 C374.02,265.33 374.23,264.80 374.57,264.00 C374.90,263.20 375.57,262.12 376.07,261.20 C376.57,260.28 377.10,259.38 377.57,258.50 C378.03,257.62 378.50,256.98 378.87,255.90 C379.23,254.82 379.48,253.18 379.77,252.00 C380.05,250.82 380.38,250.30 380.57,248.80 C380.75,247.30 380.73,244.32 380.87,243.00 C381.00,241.68 381.28,241.25 381.37,240.90 Z" fill="#a0c2e4" stroke="#6f9ac8" stroke-width="0.7"/>
<path d="M382.2 253.2h0M381.0 257.7h0M384.1 258.4h0M380.1 258.1h0M382.9 258.9h0M380.9 250.8h0M380.3 251.5h0M379.2 260.7h0M383.6 258.5h0M379.8 267.6h0M382.2 250.6h0M378.3 267.9h0M382.2 253.4h0M380.8 253.2h0M380.5 251.0h0M380.5 250.5h0M380.9 256.0h0M381.4 268.3h0M382.2 252.7h0M381.3 269.3h0M380.3 256.7h0M380.0 270.1h0M381.7 267.3h0M386.4 265.9h0M382.7 254.1h0M382.0 263.8h0" stroke="#c4daf0" stroke-width="0.9" stroke-linecap="round" stroke-opacity="0.8"/>
<line x1="403.60" y1="275.00" x2="403.60" y2="277.60" stroke="#231f20" stroke-width="0.9" />
<text x="403.60" y="288.40" font-size="8.3" text-anchor="middle" fill="#222" textLength="9.44" lengthAdjust="spacingAndGlyphs">4D</text>
<path d="M403.60,232.00 C403.93,232.17 405.02,232.58 405.60,233.00 C406.18,233.42 406.68,233.92 407.10,234.50 C407.52,235.08 407.85,235.83 408.10,236.50 C408.35,237.17 408.38,237.77 408.60,238.50 C408.82,239.23 409.32,240.15 409.40,240.90 C409.48,241.65 409.37,242.23 409.10,243.00 C408.83,243.77 408.13,244.67 407.80,245.50 C407.47,246.33 407.38,247.08 407.10,248.00 C406.82,248.92 406.43,250.08 406.10,251.00 C405.77,251.92 405.52,252.92 405.10,253.50 C404.68,254.08 403.85,254.33 403.60,254.50 C403.35,254.33 402.52,254.08 402.10,253.50 C401.68,252.92 401.43,251.92 401.10,251.00 C400.77,250.08 400.38,248.92 400.10,248.00 C399.82,247.08 399.73,246.33 399.40,245.50 C399.07,244.67 398.37,243.77 398.10,243.00 C397.83,242.23 397.72,241.65 397.80,240.90 C397.88,240.15 398.38,239.23 398.60,238.50 C398.82,237.77 398.85,237.17 399.10,236.50 C399.35,235.83 399.68,235.08 400.10,234.50 C400.52,233.92 401.02,233.42 401.60,233.00 C402.18,232.58 403.27,232.17 403.60,232.00 Z" fill="#2a74b8" stroke="#1b5c9c" stroke-width="0.7"/>
<path d="M403.7 234.5h0M402.2 237.3h0M404.7 253.5h0M401.9 248.2h0M405.4 237.2h0M403.4 243.9h0M407.0 239.2h0M402.9 237.6h0M405.7 234.4h0M401.7 247.1h0M405.6 249.7h0M405.2 242.3h0M405.7 244.3h0M402.3 252.6h0M400.8 236.7h0M401.4 235.2h0M401.2 245.4h0M403.1 253.3h0M400.9 245.9h0M402.4 244.6h0M404.5 246.7h0M401.7 235.4h0M403.9 249.8h0M401.7 249.1h0M404.3 247.0h0M404.4 249.7h0M402.1 237.3h0M406.9 243.8h0M401.8 244.4h0M402.5 253.2h0M405.0 247.6h0M403.1 232.7h0" stroke="#7fb0dc" stroke-width="0.9" stroke-linecap="round" stroke-opacity="0.8"/>
<text x="467.50" y="200.80" font-size="10.3" text-anchor="middle" fill="#222" textLength="38.74" lengthAdjust="spacingAndGlyphs">Cluster 5</text>
<text x="467.50" y="212.60" font-size="10.0" text-anchor="middle" fill="#222" textLength="45.42" lengthAdjust="spacingAndGlyphs">(44 genes)</text>
<rect x="421.50" y="218.30" width="92.00" height="56.70" fill="none" stroke="#231f20" stroke-width="1.25"/>
<line x1="418.80" y1="230.00" x2="421.50" y2="230.00" stroke="#231f20" stroke-width="1.0" />
<line x1="418.80" y1="247.30" x2="421.50" y2="247.30" stroke="#231f20" stroke-width="1.0" />
<line x1="418.80" y1="264.30" x2="421.50" y2="264.30" stroke="#231f20" stroke-width="1.0" />
<line x1="434.00" y1="275.00" x2="434.00" y2="277.60" stroke="#231f20" stroke-width="0.9" />
<text x="434.00" y="288.40" font-size="8.3" text-anchor="middle" fill="#222" textLength="9.85" lengthAdjust="spacingAndGlyphs">EV</text>
<path d="M434.00,248.80 C434.53,248.83 436.57,248.80 437.20,249.00 C437.83,249.20 437.67,249.00 437.80,250.00 C437.93,251.00 437.87,253.13 438.00,255.00 C438.13,256.87 438.40,259.53 438.60,261.20 C438.80,262.87 439.00,263.82 439.20,265.00 C439.40,266.18 439.68,267.30 439.80,268.30 C439.92,269.30 440.03,270.35 439.90,271.00 C439.77,271.65 439.98,271.97 439.00,272.20 C438.02,272.43 434.83,272.37 434.00,272.40 C433.17,272.37 429.98,272.43 429.00,272.20 C428.02,271.97 428.23,271.65 428.10,271.00 C427.97,270.35 428.08,269.30 428.20,268.30 C428.32,267.30 428.60,266.18 428.80,265.00 C429.00,263.82 429.20,262.87 429.40,261.20 C429.60,259.53 429.87,256.87 430.00,255.00 C430.13,253.13 430.07,251.00 430.20,250.00 C430.33,249.00 430.17,249.20 430.80,249.00 C431.43,248.80 433.47,248.83 434.00,248.80 Z" fill="#f4f4f6" stroke="#8a8a8c" stroke-width="0.7"/>
<line x1="456.33" y1="275.00" x2="456.33" y2="277.60" stroke="#231f20" stroke-width="0.9" />
<text x="456.33" y="288.40" font-size="8.3" text-anchor="middle" fill="#222" textLength="9.04" lengthAdjust="spacingAndGlyphs">4A</text>
<path d="M456.33,220.00 C457.92,220.03 464.17,219.95 465.83,220.20 C467.50,220.45 466.42,221.00 466.33,221.50 C466.25,222.00 465.75,222.53 465.33,223.20 C464.92,223.87 464.30,224.77 463.83,225.50 C463.37,226.23 462.93,226.52 462.53,227.60 C462.13,228.68 461.67,230.85 461.43,232.00 C461.20,233.15 461.40,233.97 461.13,234.50 C460.87,235.03 460.63,235.05 459.83,235.20 C459.03,235.35 456.92,235.37 456.33,235.40 C455.75,235.37 453.63,235.35 452.83,235.20 C452.03,235.05 451.80,235.03 451.53,234.50 C451.27,233.97 451.47,233.15 451.23,232.00 C451.00,230.85 450.53,228.68 450.13,227.60 C449.73,226.52 449.30,226.23 448.83,225.50 C448.37,224.77 447.75,223.87 447.33,223.20 C446.92,222.53 446.42,222.00 446.33,221.50 C446.25,221.00 445.17,220.45 446.83,220.20 C448.50,219.95 454.75,220.03 456.33,220.00 Z" fill="#d0d6ec" stroke="#8c92ae" stroke-width="0.7"/>
<line x1="478.67" y1="275.00" x2="478.67" y2="277.60" stroke="#231f20" stroke-width="0.9" />
<text x="478.67" y="288.40" font-size="8.3" text-anchor="middle" fill="#222" textLength="11.48" lengthAdjust="spacingAndGlyphs">WT</text>
<path d="M478.67,239.10 C479.08,239.17 480.57,239.18 481.17,239.50 C481.77,239.82 482.05,240.08 482.27,241.00 C482.48,241.92 482.37,243.17 482.47,245.00 C482.57,246.83 482.80,249.83 482.87,252.00 C482.93,254.17 482.93,256.00 482.87,258.00 C482.80,260.00 482.63,262.42 482.47,264.00 C482.30,265.58 482.50,266.72 481.87,267.50 C481.23,268.28 479.20,268.50 478.67,268.70 C478.13,268.50 476.10,268.28 475.47,267.50 C474.83,266.72 475.03,265.58 474.87,264.00 C474.70,262.42 474.53,260.00 474.47,258.00 C474.40,256.00 474.40,254.17 474.47,252.00 C474.53,249.83 474.77,246.83 474.87,245.00 C474.97,243.17 474.85,241.92 475.07,241.00 C475.28,240.08 475.57,239.82 476.17,239.50 C476.77,239.18 478.25,239.17 478.67,239.10 Z" fill="#76a4d4" stroke="#5a88bc" stroke-width="0.7"/>
<line x1="501.00" y1="275.00" x2="501.00" y2="277.60" stroke="#231f20" stroke-width="0.9" />
<text x="501.00" y="288.40" font-size="8.3" text-anchor="middle" fill="#222" textLength="9.44" lengthAdjust="spacingAndGlyphs">4D</text>
<path d="M501.00,231.20 C501.42,231.42 502.58,232.03 503.50,232.50 C504.42,232.97 505.58,233.42 506.50,234.00 C507.42,234.58 508.55,235.45 509.00,236.00 C509.45,236.55 509.37,236.87 509.20,237.30 C509.03,237.73 508.43,238.07 508.00,238.60 C507.57,239.13 506.68,239.88 506.60,240.50 C506.52,241.12 507.07,241.68 507.50,242.30 C507.93,242.92 508.88,243.50 509.20,244.20 C509.52,244.90 509.52,245.82 509.40,246.50 C509.28,247.18 508.98,247.85 508.50,248.30 C508.02,248.75 507.75,249.00 506.50,249.20 C505.25,249.40 501.92,249.45 501.00,249.50 C500.08,249.45 496.75,249.40 495.50,249.20 C494.25,249.00 493.98,248.75 493.50,248.30 C493.02,247.85 492.72,247.18 492.60,246.50 C492.48,245.82 492.48,244.90 492.80,244.20 C493.12,243.50 494.07,242.92 494.50,242.30 C494.93,241.68 495.48,241.12 495.40,240.50 C495.32,239.88 494.43,239.13 494.00,238.60 C493.57,238.07 492.97,237.73 492.80,237.30 C492.63,236.87 492.55,236.55 493.00,236.00 C493.45,235.45 494.58,234.58 495.50,234.00 C496.42,233.42 497.58,232.97 498.50,232.50 C499.42,232.03 500.58,231.42 501.00,231.20 Z" fill="#1a66ae" stroke="#15589a" stroke-width="0.7"/>
<text x="29.00" y="232.70" font-size="7.6" text-anchor="end" fill="#222">1</text>
<text x="29.00" y="250.00" font-size="7.6" text-anchor="end" fill="#222">0</text>
<text x="29.00" y="267.00" font-size="7.6" text-anchor="end" fill="#222">−1</text>
<text x="16.00" y="247.50" font-size="10.8" text-anchor="middle" fill="#222" textLength="23" lengthAdjust="spacingAndGlyphs" transform="rotate(-90 16.00 247.50)">Z-score</text>
<text x="0" y="0" font-size="12.6" font-weight="bold" fill="#000" style="stroke:#000;stroke-width:0.3" transform="translate(6.66 309.90) scale(1.010 1)">D</text>
<text x="114.20" y="308.00" font-size="9.2" text-anchor="middle" fill="#222">GP1BB</text>
<line x1="28.50" y1="318.70" x2="212.00" y2="318.70" stroke="#c8c8c8" stroke-width="0.6" />
<line x1="28.50" y1="327.00" x2="212.00" y2="327.00" stroke="#8a8a8a" stroke-width="1.0" />
<line x1="28.50" y1="325.60" x2="212.00" y2="325.60" stroke="#d0d0d0" stroke-width="0.5" />
<rect x="47.9" y="321.9" width="10" height="1.2" fill="#c4c4c4"/>
<rect x="96.9" y="321.9" width="10" height="1.2" fill="#c4c4c4"/>
<rect x="146.4" y="321.9" width="10" height="1.2" fill="#c4c4c4"/>
<rect x="193.9" y="321.9" width="10" height="1.2" fill="#c4c4c4"/>
<line x1="76.90" y1="322.50" x2="76.90" y2="325.60" stroke="#bbb" stroke-width="0.5" />
<line x1="126.20" y1="322.50" x2="126.20" y2="325.60" stroke="#bbb" stroke-width="0.5" />
<line x1="174.60" y1="322.50" x2="174.60" y2="325.60" stroke="#bbb" stroke-width="0.5" />
<rect x="135.5" y="317.9" width="9" height="1.3" fill="#c4c4c4"/>
<line x1="37.00" y1="335.40" x2="212.00" y2="335.40" stroke="#dcdcdc" stroke-width="0.5" />
<line x1="37.00" y1="341.20" x2="212.00" y2="341.20" stroke="#dcdcdc" stroke-width="0.5" />
<line x1="37.00" y1="346.90" x2="212.00" y2="346.90" stroke="#e2e2e2" stroke-width="0.5" />
<path d="M37.0,346.9L37,346.9 51.5,346.9 52,345.9 52.5,345.8 53,345.8 53.5,345.7 54,345.6 54.5,345.5 55,345.4 55.5,345.4 56,345.5 56.5,345.6 57,345.6 57.5,345.7 58,345.8 58.5,345.9 59,346 59.5,346.1 60,346.2 73,346.2 73.5,346.1 74,346.1 74.5,346 75,345.9 75.5,345.8 76,345.8 76.5,345.7 77,345.6 77.5,345.6 78,345.5 79,345.5 79.5,345.6 80,345.7 80.5,345.8 81,345.8 81.5,345.9 82,346 82.5,346 83,346.1 83.5,346.2 92,346.2 92.5,346.1 93,346 93.5,346 94,346.1 94.5,346.2 96,346.2 96.5,346.1 97,346 97.5,345.9 98.5,345.9 99,346 99.5,346.1 100,346.2 101,346.2 101.5,346.1 102,346 103,346 103.5,346.1 104,346.2 111,346.2 111.5,346.1 112,346 112.5,345.9 113,345.8 113.5,345.7 114,345.6 114.5,345.5 115,345.5 115.5,345.4 116,345.3 116.5,345.2 117,345.1 117.5,345 118,344.9 118.5,344.8 119,344.7 119.5,344.5 120,344.3 120.5,344.1 121,343.9 121.5,343.7 122,343.5 122.5,343.3 123,343.6 123.5,343.5 124,343.3 124.5,343 125,343.1 125.5,343.4 126,343.6 126.5,343.5 127,343.8 127.5,345.1 128,345.9 128.5,346 129,346 129.5,346.1 130,346.1 130.5,346.2 142,346.2 142.5,346.1 144,346.1 144.5,346 146,346 146.5,345.9 148.5,345.9 149,346 150.5,346 151,346.1 152.5,346.1 153,346.2 153.5,346.2 154,346.1 154.5,346.1 155,346 156,346 156.5,345.9 158,345.9 158.5,346 159.5,346 160,346.1 160.5,346.1 161,346.2 170,346.2 170.5,346.9 212,346.9 212.0,346.9Z" fill="#4cb060"/>
<line x1="37.00" y1="353.10" x2="212.00" y2="353.10" stroke="#e2e2e2" stroke-width="0.5" />
<path d="M37.0,353.1L37,353.1 59.5,353.1 60,352.4 61,352.4 61.5,352.3 62,352.2 62.5,352 63,351.9 63.5,351.8 64,351.7 64.5,351.9 65,352 65.5,352.1 66,352.2 66.5,352.4 71.5,352.4 72,352.3 72.5,352.3 73,352.2 73.5,352.1 74,352.1 74.5,352 75,351.9 75.5,351.9 76,351.8 76.5,351.7 77,351.7 77.5,351.6 78,351.6 78.5,351.7 79,351.8 79.5,351.8 80,351.9 80.5,352 81,352 81.5,352.1 82,352.2 82.5,352.2 83,352.3 83.5,352.4 93.5,352.4 94,352.3 94.5,352.3 95,352.2 96,352.2 96.5,352.1 97,352.1 97.5,352 100.5,352 101,351.9 101.5,351.8 102,351.8 102.5,351.7 103,351.6 103.5,351.4 104,351.3 104.5,351.1 105,351 105.5,350.9 106,351 106.5,351.2 107,351.5 107.5,351.7 108,351.8 108.5,351.9 109,352 109.5,352.1 110,352.1 110.5,352.2 111,352.2 111.5,352.1 112,352.1 112.5,352 113,352 113.5,351.9 114,351.8 114.5,351.7 115,351.7 115.5,351.8 116,351.9 116.5,351.8 117,351.8 117.5,351.7 118,351.6 118.5,351.6 119,351.5 119.5,351.4 120,351.2 120.5,351.1 121,350.9 121.5,350.8 122,350.6 122.5,350.5 123,350.7 123.5,350.7 124,350.5 124.5,350.3 125,350.4 125.5,350.6 126,350.7 126.5,350.6 127,350.9 127.5,351.8 128,352.4 160,352.4 160.5,353.1 212,353.1 212.0,353.1Z" fill="#55b468"/>
<line x1="37.00" y1="359.20" x2="212.00" y2="359.20" stroke="#e2e2e2" stroke-width="0.5" />
<path d="M37.0,359.2L37,359.2 47.5,359.2 48,358.5 59,358.5 59.5,358.4 60,358.4 60.5,358.3 61,358.3 61.5,358.2 62,358.2 62.5,358.3 63,358.3 63.5,358.4 64,358.5 66.5,358.5 67,358.4 67.5,358.3 68,358.2 68.5,358.1 69,358.1 69.5,358.2 70,358.3 70.5,358.4 71,358.5 80.5,358.5 81,358.4 82.5,358.4 83,358.3 84,358.3 84.5,358.2 87.5,358.2 88,358.1 89.5,358.1 90,358 90.5,357.9 91,357.9 91.5,357.8 92,357.7 96,357.7 96.5,357.8 97,357.9 97.5,358 98,357.9 98.5,358 99,358.2 99.5,358.2 100,358.3 100.5,358.3 101,358.4 101.5,358.4 102,358.3 102.5,358.2 103,358.3 103.5,358.4 104,358.3 104.5,358.2 105,358.1 105.5,358 106,358 106.5,357.9 107,357.8 107.5,357.7 108,357.6 108.5,357.7 109,357.8 109.5,357.8 110,357.9 110.5,357.8 111,357.7 111.5,357.7 112,357.6 112.5,357.5 113,357.4 113.5,357.4 114,357.3 114.5,357.2 115,357.1 115.5,357.1 116,357 116.5,356.9 117,356.9 117.5,356.8 118,356.7 118.5,356.6 119,356.6 119.5,356.3 120,356.1 120.5,355.8 121,355.6 121.5,355.3 122,355.1 122.5,354.8 123,355.1 123.5,355.1 124,354.7 124.5,354.5 125,354.6 125.5,354.9 126,355.1 126.5,355 127,355.4 127.5,357 128,358.5 165,358.5 165.5,359.2 212,359.2 212.0,359.2Z" fill="#2e9a48"/>
<line x1="37.00" y1="365.20" x2="212.00" y2="365.20" stroke="#e2e2e2" stroke-width="0.5" />
<path d="M37.0,365.2L37,365.2 54.5,365.2 55,364.5 58,364.5 58.5,364.4 59,364.4 59.5,364.3 60,364.3 60.5,364.2 61.5,364.2 62,364.1 62.5,364.1 63,364 64,364 64.5,364.1 65,364 67.5,364 68,363.9 69,363.9 69.5,363.8 71,363.8 71.5,363.9 72,364 72.5,364 73,364.1 76,364.1 76.5,364 77,364 77.5,363.9 78,363.8 78.5,363.7 79,363.7 79.5,363.8 80,363.9 80.5,363.9 81,364 81.5,364.1 82,364.1 82.5,364.2 83,364.3 83.5,364.3 84,364.2 84.5,364.1 85,363.9 85.5,363.8 86,363.7 86.5,363.8 87,363.9 87.5,364 88,364.2 88.5,364.3 89,364.3 89.5,364.4 90,364.4 90.5,364.5 91,364.5 91.5,364.4 92,364.3 92.5,364.1 93,364 93.5,364 94,364.1 94.5,364.3 95,364.4 96,364.4 96.5,364.3 97,364.2 97.5,364.1 98,364.1 98.5,364.2 99,364.4 99.5,364.5 103.5,364.5 104,364.2 104.5,364.2 105,364.1 105.5,364.1 106,364 106.5,364 107,363.9 107.5,363.9 108,363.8 108.5,363.8 109,363.7 109.5,363.7 110,363.6 110.5,363.6 111,363.5 111.5,363.5 112,363.4 112.5,363.4 113,363.3 113.5,363.3 114,363.2 114.5,363.1 115,363.1 115.5,363 116,363 116.5,362.9 117,362.9 117.5,362.8 118,362.8 118.5,362.7 119,362.7 119.5,362.4 120,362.2 120.5,362 121,361.7 121.5,361.5 122,361.2 122.5,361 123,361.3 123.5,361.3 124,360.9 124.5,360.7 125,360.8 125.5,361.1 126,361.3 126.5,361.2 127,361.6 127.5,363.1 128,364.5 134.5,364.5 135,364.4 136,364.4 136.5,364.3 137.5,364.3 138,364.2 140,364.2 140.5,364.3 141.5,364.3 142,364.4 143,364.4 143.5,364.5 168,364.5 168.5,365.2 212,365.2 212.0,365.2Z" fill="#2a9044"/>
<line x1="37.00" y1="371.50" x2="212.00" y2="371.50" stroke="#e2e2e2" stroke-width="0.5" />
<path d="M37.0,371.5L37,371.5 45.5,371.5 46,370.7 51,370.7 51.5,370.6 52,370.6 52.5,370.5 53.5,370.5 54,370.4 54.5,370.4 55,370.3 55.5,370.3 56,370.2 56.5,370.1 57,370 57.5,370 58,369.9 58.5,369.8 59,369.8 59.5,369.7 60.5,369.7 61,369.8 61.5,370 62,370.1 62.5,370.2 63,370.4 63.5,370.5 64,370.6 64.5,370.7 92,370.7 92.5,370.6 93,370.5 93.5,370.5 94,370.6 94.5,370.7 96,370.7 96.5,370.6 97,370.5 97.5,370.4 98,370.3 98.5,370.4 99,370.5 99.5,370.6 100,370.7 101,370.7 101.5,370.6 102,370.5 102.5,370.4 103,370.5 103.5,370.6 104,370.7 111,370.7 111.5,370.6 112,370.5 112.5,370.4 113,370.3 113.5,370.2 114,370.1 114.5,370 115,369.9 115.5,369.8 116,369.7 116.5,369.6 117,369.5 117.5,369.4 118,369.3 118.5,369.2 119,369.1 119.5,368.9 120,368.6 120.5,368.4 121,368.2 121.5,368 122,367.7 122.5,367.5 123,367.8 123.5,367.8 124,367.4 124.5,367.2 125,367.3 125.5,367.6 126,367.8 126.5,367.7 127,368.1 127.5,369.5 128,369.9 128.5,370 129,370 129.5,370.1 130,370.2 130.5,370.2 131,370.3 131.5,370.4 132,370.4 132.5,370.5 133,370.6 134,370.6 134.5,370.4 135,370.2 135.5,370 136,369.9 136.5,370.1 137,370.3 137.5,370.5 138,370.7 170,370.7 170.5,370.6 171.5,370.6 172,370.5 173.5,370.5 174,370.4 174.5,370.3 175,370.3 175.5,370.2 176,370.1 177.5,370.1 178,370 180,370 180.5,370.1 182.5,370.1 183,370.2 183.5,370.2 184,370.3 184.5,370.3 185,370.4 185.5,370.5 186,370.5 186.5,370.6 187,370.6 187.5,370.7 200,370.7 200.5,371.5 212,371.5 212.0,371.5Z" fill="#1c6e34"/>
<line x1="37.00" y1="377.90" x2="212.00" y2="377.90" stroke="#e2e2e2" stroke-width="0.5" />
<path d="M37.0,377.9L37,377.9 37.5,377.9 38,377.1 42.5,377.1 43,377 43.5,376.9 44,376.8 44.5,376.6 45,376.6 45.5,376.7 46,376.9 46.5,377 47,377.1 49,377.1 49.5,377 50.5,377 51,376.9 52,376.9 52.5,376.8 53,376.8 53.5,376.7 54.5,376.7 55,376.6 55.5,376.7 56.5,376.7 57,376.8 58,376.8 58.5,376.9 59.5,376.9 60,377 61,377 61.5,377.1 91.5,377.1 92,377 92.5,376.9 93,376.8 93.5,376.6 94,376.5 94.5,376.4 95,376.2 95.5,376.1 96.5,376.1 97,376.2 97.5,376.4 98,376.5 98.5,376.6 99,376.8 99.5,376.9 100,377 100.5,377 101,377.1 101.5,377.1 102,377 103,377 103.5,377.1 112,377.1 112.5,377 113,377 113.5,376.9 114,376.9 114.5,376.8 115,376.8 115.5,376.7 116,376.6 116.5,376.5 117,376.3 117.5,376.2 118,376.1 118.5,376 119,375.9 119.5,375.7 120,375.5 120.5,375.3 121,375.1 121.5,374.9 122,374.7 122.5,374.5 123,374.7 123.5,374.7 124,374.5 124.5,374.2 125,374.3 125.5,374.6 126,374.8 126.5,374.7 127,375 127.5,376.2 128,376.8 128.5,376.8 129,376.9 130,376.9 130.5,377 131.5,377 132,377.1 185,377.1 185.5,377 186,376.9 186.5,376.8 187,376.7 187.5,376.6 188,376.5 188.5,376.5 189,376.6 189.5,376.7 190,376.8 190.5,376.9 191,377.1 205,377.1 205.5,377.9 212,377.9 212.0,377.9Z" fill="#145a28"/>
<text x="33.40" y="338.80" font-size="8.2" text-anchor="end" fill="#222" textLength="9.74" lengthAdjust="spacingAndGlyphs">EV</text>
<text x="33.40" y="350.90" font-size="8.2" text-anchor="end" fill="#222" textLength="8.93" lengthAdjust="spacingAndGlyphs">4A</text>
<text x="33.40" y="362.50" font-size="8.2" text-anchor="end" fill="#222" textLength="11.35" lengthAdjust="spacingAndGlyphs">WT</text>
<text x="33.40" y="374.60" font-size="8.2" text-anchor="end" fill="#222" textLength="9.33" lengthAdjust="spacingAndGlyphs">4D</text>
<text x="15.60" y="354.50" font-size="9.9" text-anchor="middle" fill="#222" textLength="33.8" lengthAdjust="spacingAndGlyphs" transform="rotate(-90 15.60 354.50)">CUT&amp;RUN</text>
<rect x="16.2" y="377.6" width="196" height="1.7" fill="#222"/>
<line x1="37.00" y1="384.50" x2="212.00" y2="384.50" stroke="#e6e6e6" stroke-width="0.4" />
<path d="M37.0,384.5L37,384.3 37.5,384.2 38,384.1 38.5,384.2 39,384.2 39.5,384.1 40,384.5 43.5,384.5 44,384.3 44.5,384.3 45,384.2 45.5,384.2 46,384.3 46.5,384.3 47,384.2 47.5,384.2 48,384.3 48.5,384.2 49.5,384.2 50,384.3 50.5,384.5 63.5,384.5 64,384.3 69.5,384.3 70,384.5 73,384.5 73.5,384.2 74,384.3 74.5,384.2 75,384.2 75.5,384.3 76,384.3 76.5,384.2 77,384.2 77.5,384.3 78,384.2 79,384.2 79.5,384.3 80,384.2 80.5,384.2 81,384.3 81.5,384.3 82,384.2 82.5,384.2 83,384.3 83.5,384.5 93.5,384.5 94,384.2 94.5,384.2 95,384.1 95.5,384.1 96,384.2 96.5,384.2 97,384 97.5,384.1 98,384.2 98.5,384.1 99,384.1 99.5,384.2 100,384.2 100.5,384.1 101,384.1 101.5,384.2 102,384.2 102.5,384 103,384.1 103.5,384.2 104,384.1 104.5,384 105,384.2 105.5,384.2 106,384.1 106.5,384.1 107,384.2 107.5,384.2 108,384.1 108.5,384.1 109,384.2 109.5,384.1 110,384 110.5,384.2 111,384.2 111.5,384.1 112,384.1 112.5,384.2 113,384.2 113.5,384.1 114,384.5 117.5,384.5 118,384.3 118.5,384.3 119,384.2 119.5,384.2 120,384.3 120.5,384.2 121,384.1 121.5,384.2 122,384.3 122.5,384.5 129.5,384.5 130,384.1 130.5,384.1 131,384.2 131.5,384.2 132,384.1 132.5,384.2 133,384.3 133.5,384.2 134,384.1 134.5,384.2 135,384.3 135.5,384.1 136,384.1 136.5,384.2 137,384.2 137.5,384.1 138,384.1 138.5,384.3 139,384.2 139.5,384.5 143.5,384.5 144,384.3 144.5,384.3 145,384.2 145.5,384.3 146.5,384.3 147,384.2 147.5,384.3 148,384.3 148.5,384.2 149,384.2 149.5,384.3 150,384.3 150.5,384.2 151,384.3 152,384.3 152.5,384.2 153,384.3 153.5,384.3 154,384.2 154.5,384.2 155,384.3 155.5,384.3 156,384.2 156.5,384.2 157,384.3 157.5,384.3 158,384.5 171.5,384.5 172,384 175,384 175.5,383.9 176,383.9 176.5,383.8 177.5,383.8 178,383.9 178.5,383.9 179,384 188.5,384 189,384.5 194.5,384.5 195,384.1 195.5,384.2 196,384.3 196.5,384.2 197,384.2 197.5,384.3 198,384.3 198.5,384.2 199,384.2 199.5,384.3 200,384.2 200.5,384.1 201,384.2 201.5,384.5 212,384.5 212.0,384.5Z" fill="#a8a8a8"/>
<line x1="37.00" y1="390.40" x2="212.00" y2="390.40" stroke="#e6e6e6" stroke-width="0.4" />
<path d="M37.0,390.4L37,390.2 37.5,390.1 38,390.1 38.5,390.2 39,390.2 39.5,390.1 40,390.4 43.5,390.4 44,390.1 44.5,390.1 45,390 45.5,390 46,390.1 46.5,390.1 47,390 47.5,390 48,390.1 48.5,390 49,390 49.5,390.1 50,390.1 50.5,390.4 63.5,390.4 64,390.1 64.5,390.2 65,390.1 65.5,390 66,390.1 66.5,390.2 67,390.1 67.5,390 68,390.1 68.5,390.2 69,390.1 69.5,390 70,390.4 73,390.4 73.5,390.1 74,390.2 74.5,390.1 75,390 75.5,390.2 76,390.2 76.5,390.1 77,390.1 77.5,390.2 78,390.1 78.5,390 79,390.1 79.5,390.2 80,390.1 80.5,390 81,390.1 81.5,390.2 82,390.1 82.5,390.1 83,390.2 83.5,390.4 93.5,390.4 94,390.2 94.5,390.2 95,390.1 95.5,390.1 96,390.2 96.5,390.2 97,390.1 97.5,390.2 98,390.2 98.5,390.1 99,390.1 99.5,390.2 100,390.2 100.5,390.1 101,390.1 101.5,390.2 102,390.2 102.5,390.1 103,390.1 103.5,390.2 104,390.1 104.5,390.1 105,390.2 105.5,390.2 106,390.1 106.5,390.1 107,390.2 107.5,390.2 108,390.1 108.5,390.1 109,390.2 109.5,390.2 110,390.1 110.5,390.2 111,390.2 111.5,390.1 112,390.1 112.5,390.2 113,390.2 113.5,390.1 114,390.4 117.5,390.4 118,390.1 118.5,390.1 119,390 119.5,390 120,390.1 120.5,390.1 121,390 121.5,390.1 122,390.1 122.5,390.4 129.5,390.4 130,390.1 130.5,390.1 131,390.2 131.5,390.2 132,390.1 132.5,390.1 133,390.2 133.5,390.2 134,390.1 134.5,390.2 135,390.2 135.5,390.1 136,390.1 136.5,390.2 137,390.2 137.5,390.1 138,390.1 138.5,390.2 139,390.2 139.5,390.4 143.5,390.4 144,390.1 144.5,390 145,389.9 145.5,390 146,390.1 146.5,390 147,389.9 147.5,390 148,390.1 148.5,389.9 149,389.9 149.5,390.1 150,390.1 150.5,389.9 151,390 151.5,390.1 152,390 152.5,389.9 153,390 153.5,390.1 154,390 154.5,389.9 155,390.1 155.5,390.1 156,389.9 156.5,390 157,390.1 157.5,390 158,390.4 171,390.4 171.5,390.3 172,389.9 174,389.9 174.5,389.8 175,389.7 175.5,389.6 176,389.5 176.5,389.4 177.5,389.4 178,389.5 178.5,389.6 179,389.7 179.5,389.8 180,389.9 182,389.9 182.5,389.8 183,389.8 183.5,389.7 184,389.7 184.5,389.8 185,389.8 185.5,389.9 188.5,389.9 189,390.4 194.5,390.4 195,390.1 195.5,390.2 196,390.2 196.5,390.1 197,390.1 197.5,390.2 198,390.2 198.5,390.1 199,390.1 199.5,390.2 200,390.2 200.5,390.1 201,390.2 201.5,390.4 212,390.4 212.0,390.4Z" fill="#9a9a9a"/>
<line x1="37.00" y1="396.30" x2="212.00" y2="396.30" stroke="#e6e6e6" stroke-width="0.4" />
<path d="M37.0,396.3L37,395.9 37.5,395.8 38,395.7 38.5,395.9 39,395.9 39.5,395.7 40,396.3 43.5,396.3 44,396 44.5,396 45,395.9 45.5,395.9 46,396 46.5,396 47,395.8 47.5,395.9 48,396 48.5,395.9 49,395.8 49.5,396 50,396 50.5,396.3 63.5,396.3 64,395.9 64.5,396 65,396 65.5,395.8 66,395.9 66.5,396 67,395.9 67.5,395.8 68,396 68.5,396 69,395.9 69.5,395.9 70,396.3 73,396.3 73.5,396 74,396 74.5,395.9 75,395.9 75.5,396 76,396 76.5,395.9 77,395.9 77.5,396 78,396 78.5,395.9 79,395.9 79.5,396 80,395.9 80.5,395.9 81,396 81.5,396 82,395.9 82.5,395.9 83,396 83.5,396.3 93.5,396.3 94,396.1 94.5,396.1 95,396 95.5,396 96,396.1 96.5,396 97,395.9 97.5,396 98,396.1 98.5,396 99,396 99.5,396.1 100,396.1 100.5,396 101,396 101.5,396.1 102,396 102.5,395.9 103,396 103.5,396.1 104,396 104.5,395.9 105,396 105.5,396.1 106,396 106.5,396 107,396.1 107.5,396 108,395.9 108.5,396 109,396.1 109.5,396 110,395.9 110.5,396 111,396.1 111.5,396 112,396 112.5,396.1 113,396.1 113.5,396 114,396.3 117.5,396.3 118,396.1 118.5,396.1 119,396 119.5,396 120,396.1 120.5,396.1 121,396 121.5,396 122,396.1 122.5,396.3 129.5,396.3 130,395.9 130.5,395.9 131,396 131.5,396 132,395.9 132.5,395.9 133,396 133.5,396 134,395.9 134.5,396 135,396 135.5,395.9 136,395.9 136.5,396 137,396 137.5,395.9 138,395.9 138.5,396 139,396 139.5,396.3 143.5,396.3 144,396 144.5,396 145,395.9 145.5,395.9 146,396 146.5,395.9 147,395.9 147.5,396 148,396 148.5,395.9 149,395.9 149.5,396 150,396 150.5,395.9 151,395.9 151.5,396 152,395.9 152.5,395.8 153,396 153.5,396 154,395.9 154.5,395.9 155,396 155.5,396 156,395.9 156.5,395.9 157,396 157.5,396 158,396.3 170.5,396.3 171,396.2 171.5,396.2 172,395.8 173,395.8 173.5,395.7 174,395.5 174.5,395.3 175,395.1 175.5,394.8 176,394.7 176.5,394.5 177.5,394.5 178,394.6 178.5,394.8 179,395 179.5,395.2 180,395.3 180.5,395.4 181,395.5 181.5,395.4 182,395.4 182.5,395.3 183,395.2 183.5,395.1 184,395.1 184.5,395.2 185,395.2 185.5,395.4 186,395.5 186.5,395.7 187,395.8 188.5,395.8 189,396.2 189.5,396.3 194.5,396.3 195,395.8 195.5,395.9 196,396 196.5,395.8 197,395.8 197.5,395.9 198,395.9 198.5,395.8 199,395.8 199.5,396 200,395.9 200.5,395.8 201,395.9 201.5,396.3 212,396.3 212.0,396.3Z" fill="#7cc488"/>
<line x1="37.00" y1="402.60" x2="212.00" y2="402.60" stroke="#e6e6e6" stroke-width="0.4" />
<path d="M37.0,402.6L37,402.4 37.5,402.4 38,402.3 38.5,402.4 39.5,402.4 40,402.6 43.5,402.6 44,402.2 44.5,402.3 45,402.1 45.5,402.1 46,402.3 46.5,402.3 47,402.1 47.5,402.2 48,402.3 48.5,402.2 49,402.1 49.5,402.2 50,402.3 50.5,402.6 63.5,402.6 64,402.3 64.5,402.4 65,402.4 65.5,402.3 66,402.3 66.5,402.4 67,402.4 67.5,402.3 68,402.4 68.5,402.4 69,402.3 69.5,402.3 70,402.6 73,402.6 73.5,402.2 74,402.3 74.5,402.2 75,402.1 75.5,402.3 76,402.3 76.5,402.1 77,402.2 77.5,402.3 78,402.2 78.5,402.1 79,402.2 79.5,402.3 80,402.2 80.5,402.1 81,402.2 81.5,402.3 82,402.1 82.5,402.1 83,402.3 83.5,402.6 93.5,402.6 94,402.3 94.5,402.3 95,402.1 95.5,402.2 96,402.3 96.5,402.2 97,402.1 97.5,402.2 98,402.3 98.5,402.2 99,402.1 99.5,402.3 100,402.3 100.5,402.1 101,402.2 101.5,402.3 102,402.2 102.5,402.1 103,402.2 103.5,402.3 104,402.2 104.5,402.1 105,402.3 105.5,402.3 106,402.1 106.5,402.1 107,402.3 107.5,402.3 108,402.1 108.5,402.2 109,402.3 109.5,402.2 110,402.1 110.5,402.2 111,402.3 111.5,402.2 112,402.1 112.5,402.3 113,402.3 113.5,402.1 114,402.6 117.5,402.6 118,402.4 118.5,402.4 119,402.3 119.5,402.3 120,402.4 120.5,402.4 121,402.3 121.5,402.3 122,402.4 122.5,402.6 129.5,402.6 130,402.3 130.5,402.2 131,402.4 131.5,402.3 132,402.2 132.5,402.3 133,402.4 133.5,402.3 134,402.2 134.5,402.3 135,402.4 135.5,402.3 136,402.2 136.5,402.3 137,402.3 137.5,402.2 138,402.3 138.5,402.4 139,402.3 139.5,402.6 143.5,402.6 144,402.4 144.5,402.3 145.5,402.3 146,402.4 146.5,402.3 147.5,402.3 148,402.4 148.5,402.3 149,402.3 149.5,402.4 150,402.4 150.5,402.3 151,402.3 151.5,402.4 152,402.3 153,402.3 153.5,402.4 154,402.3 154.5,402.3 155,402.4 155.5,402.4 156,402.3 156.5,402.3 157,402.4 157.5,402.3 158,402.6 171,402.6 171.5,402.5 172,402.1 174,402.1 174.5,402 175,401.8 175.5,401.7 176,401.6 176.5,401.5 177.5,401.5 178,401.6 178.5,401.7 179,401.8 179.5,401.9 180,402 180.5,402.1 181.5,402.1 182,402 182.5,402 183,401.9 184.5,401.9 185,402 185.5,402 186,402.1 188.5,402.1 189,402.6 194.5,402.6 195,402.2 195.5,402.3 196,402.4 196.5,402.3 197,402.3 197.5,402.4 198,402.4 198.5,402.3 199,402.3 199.5,402.4 200,402.3 200.5,402.2 201,402.3 201.5,402.6 212,402.6 212.0,402.6Z" fill="#8ccc96"/>
<line x1="37.00" y1="408.75" x2="212.00" y2="408.75" stroke="#e6e6e6" stroke-width="0.4" />
<path d="M37.0,408.8L37,408.4 37.5,408.2 38,408.1 38.5,408.3 39,408.4 39.5,408.2 40,408.8 43.5,408.8 44,408.2 44.5,408.3 45,408 45.5,408 46,408.2 46.5,408.2 47,408 47.5,408.1 48,408.3 48.5,408.1 49,408 49.5,408.2 50,408.3 50.5,408.8 63.5,408.8 64,407.8 64.5,408.1 65,408 65.5,407.7 66,407.9 66.5,408.1 67,407.9 67.5,407.7 68,408 68.5,408.1 69,407.8 69.5,407.8 70,408.8 73,408.8 73.5,408.1 74,408.3 74.5,408 75,408 75.5,408.2 76,408.2 76.5,408 77,408 77.5,408.3 78,408.2 78.5,408 79,408.1 79.5,408.3 80,408.1 80.5,408 81,408.2 81.5,408.2 82,408 82.5,408 83,408.2 83.5,408.8 93.5,408.8 94,408.3 94.5,408.3 95,408.1 95.5,408.1 96,408.3 96.5,408.2 97,408.1 97.5,408.2 98,408.3 98.5,408.2 99,408.1 99.5,408.3 100,408.3 100.5,408.1 101,408.1 101.5,408.3 102,408.3 102.5,408.1 103,408.2 103.5,408.3 104,408.2 104.5,408.1 105,408.3 105.5,408.3 106,408.1 106.5,408.1 107,408.3 107.5,408.3 108,408.1 108.5,408.2 109,408.3 109.5,408.2 110,408.1 110.5,408.2 111,408.3 111.5,408.1 112,408.1 112.5,408.3 113,408.3 113.5,408.1 114,408.8 117.5,408.8 118,408.1 118.5,408.1 119,407.9 119.5,407.9 120,408.2 120.5,408.1 121,407.8 121.5,408 122,408.2 122.5,408.8 129.5,408.8 130,408.1 130.5,408.1 131,408.3 131.5,408.3 132,408 132.5,408.1 133,408.3 133.5,408.2 134,408 134.5,408.2 135,408.3 135.5,408.1 136,408.1 136.5,408.3 137,408.3 137.5,408.1 138,408.1 138.5,408.3 139,408.2 139.5,408.8 143.5,408.8 144,408.2 144.5,408.1 145,407.9 145.5,408 146,408.2 146.5,408 147,407.9 147.5,408.1 148,408.2 148.5,407.9 149,407.9 149.5,408.2 150,408.1 150.5,407.9 151,408 151.5,408.2 152,408.1 152.5,407.9 153,408.1 153.5,408.2 154,408 154.5,407.9 155,408.2 155.5,408.2 156,407.9 156.5,408 157,408.2 157.5,408.1 158,408.8 158.5,408.7 170.5,408.7 171,408.6 171.5,408.5 172,408.2 172.5,408.2 173,407.9 173.5,407.6 174,407.2 174.5,406.7 175,406.3 175.5,405.8 176,405.5 176.5,405.2 177,405.1 177.5,405.2 178,405.4 178.5,405.7 179,406.1 179.5,406.5 180,406.8 180.5,407 181,407.1 181.5,407 182,406.9 182.5,406.7 183,406.5 183.5,406.4 184,406.4 184.5,406.5 185,406.6 185.5,406.9 186,407.2 186.5,407.6 187,407.9 187.5,408.1 188,408.2 188.5,408.2 189,408.6 189.5,408.7 194.5,408.7 195,408.1 195.5,408.2 196,408.3 196.5,408.1 197,408.1 197.5,408.3 198,408.3 198.5,408.1 199,408.2 199.5,408.3 200,408.2 200.5,408.1 201,408.2 201.5,408.8 212,408.8 212.0,408.8Z" fill="#36a04c"/>
<line x1="37.00" y1="415.00" x2="212.00" y2="415.00" stroke="#e6e6e6" stroke-width="0.4" />
<path d="M37.0,415.0L37,414.6 37.5,414.4 38,414.4 38.5,414.5 39,414.6 39.5,414.4 40,415 43.5,415 44,414.4 44.5,414.5 45,414.2 45.5,414.2 46,414.4 46.5,414.4 47,414.2 47.5,414.3 48,414.5 48.5,414.3 49,414.1 49.5,414.3 50,414.5 50.5,415 63.5,415 64,414.2 64.5,414.4 65,414.4 65.5,414.1 66,414.2 66.5,414.5 67,414.3 67.5,414.1 68,414.3 68.5,414.4 69,414.2 69.5,414.1 70,415 73,415 73.5,414.5 74,414.6 74.5,414.4 75,414.3 75.5,414.5 76,414.5 76.5,414.3 77,414.4 77.5,414.6 78,414.5 78.5,414.3 79,414.4 79.5,414.6 80,414.4 80.5,414.3 81,414.5 81.5,414.5 82,414.3 82.5,414.3 83,414.6 83.5,415 93.5,415 94,414.6 94.5,414.6 95,414.4 95.5,414.4 96,414.6 96.5,414.5 97,414.4 97.5,414.5 98,414.6 98.5,414.4 99,414.4 99.5,414.6 100,414.6 100.5,414.4 101,414.4 101.5,414.6 102,414.5 102.5,414.4 103,414.5 103.5,414.6 104,414.5 104.5,414.4 105,414.5 105.5,414.6 106,414.4 106.5,414.4 107,414.6 107.5,414.5 108,414.4 108.5,414.5 109,414.6 109.5,414.5 110,414.4 110.5,414.5 111,414.6 111.5,414.4 112,414.4 112.5,414.6 113,414.6 113.5,414.4 114,415 117.5,415 118,414.3 118.5,414.4 119,414.1 119.5,414.1 120,414.4 120.5,414.3 121,414 121.5,414.2 122,414.4 122.5,415 129.5,415 130,414.2 130.5,414.2 131,414.4 131.5,414.4 132,414.1 132.5,414.2 133,414.5 133.5,414.3 134,414.1 134.5,414.3 135,414.5 135.5,414.2 136,414.1 136.5,414.4 137,414.4 137.5,414.1 138,414.2 138.5,414.5 139,414.3 139.5,415 143.5,415 144,414.6 144.5,414.5 145,414.4 145.5,414.5 146,414.6 146.5,414.5 147,414.4 147.5,414.5 148,414.6 148.5,414.4 149,414.4 149.5,414.6 150,414.5 150.5,414.4 151,414.4 151.5,414.6 152,414.5 152.5,414.3 153,414.5 153.5,414.6 154,414.4 154.5,414.4 155,414.6 155.5,414.6 156,414.4 156.5,414.4 157,414.6 157.5,414.5 158,415 170,415 170.5,414.9 171,414.9 171.5,414.8 172,414.5 172.5,414.4 173,414.1 173.5,413.8 174,413.3 174.5,412.9 175,412.4 175.5,411.9 176,411.5 176.5,411.3 177,411.2 177.5,411.3 178,411.5 178.5,411.8 179,412.2 179.5,412.6 180,412.9 180.5,413.1 181,413.2 181.5,413.2 182,413 182.5,412.8 183,412.7 183.5,412.5 184,412.5 184.5,412.6 185,412.8 185.5,413.1 186,413.4 186.5,413.8 187,414.1 187.5,414.4 188,414.5 188.5,414.5 189,414.8 189.5,414.9 190,415 194.5,415 195,414.1 195.5,414.4 196,414.5 196.5,414.2 197,414.2 197.5,414.4 198,414.4 198.5,414.2 199,414.2 199.5,414.5 200,414.3 200.5,414.1 201,414.3 201.5,415 212,415 212.0,415.0Z" fill="#2e9446"/>
<line x1="37.00" y1="421.00" x2="212.00" y2="421.00" stroke="#e6e6e6" stroke-width="0.4" />
<path d="M37.0,421.0L37,420.5 37.5,420.3 38,420.2 38.5,420.4 39,420.4 39.5,420.2 40,421 43.5,421 44,420.3 44.5,420.4 45,420.2 45.5,420.1 46,420.4 46.5,420.4 47,420.1 47.5,420.2 48,420.4 48.5,420.3 49,420.1 49.5,420.3 50,420.4 50.5,421 63.5,421 64,420.3 64.5,420.5 65,420.5 65.5,420.3 66,420.4 66.5,420.6 67,420.4 67.5,420.3 68,420.5 68.5,420.6 69,420.4 69.5,420.3 70,421 73,421 73.5,420.2 74,420.4 74.5,420.1 75,420 75.5,420.3 76,420.3 76.5,420 77,420 77.5,420.3 78,420.2 78.5,419.9 79,420.2 79.5,420.4 80,420.1 80.5,420 81,420.3 81.5,420.3 82,420 82.5,420 83,420.3 83.5,421 93.5,421 94,420.5 94.5,420.5 95,420.3 95.5,420.4 96,420.6 96.5,420.4 97,420.3 97.5,420.4 98,420.6 98.5,420.4 99,420.3 99.5,420.5 100,420.5 100.5,420.3 101,420.3 101.5,420.5 102,420.5 102.5,420.3 103,420.4 103.5,420.6 104,420.4 104.5,420.3 105,420.5 105.5,420.5 106,420.3 106.5,420.3 107,420.5 107.5,420.5 108,420.3 108.5,420.4 109,420.6 109.5,420.4 110,420.3 110.5,420.5 111,420.6 111.5,420.3 112,420.3 112.5,420.5 113,420.5 113.5,420.3 114,421 117.5,421 118,420.3 118.5,420.3 119,420 119.5,420.1 120,420.4 120.5,420.2 121,420 121.5,420.2 122,420.4 122.5,421 129.5,421 130,420.2 130.5,420.2 131,420.5 131.5,420.4 132,420.2 132.5,420.3 133,420.5 133.5,420.3 134,420.2 134.5,420.4 135,420.5 135.5,420.3 136,420.2 136.5,420.4 137,420.4 137.5,420.2 138,420.3 138.5,420.5 139,420.4 139.5,421 143.5,421 144,420.4 144.5,420.3 145,420 145.5,420.2 146,420.4 146.5,420.2 147,420 147.5,420.3 148,420.4 148.5,420.1 149,420.1 149.5,420.4 150,420.3 150.5,420 151,420.1 151.5,420.4 152,420.2 152.5,420 153,420.2 153.5,420.4 154,420.1 154.5,420 155,420.3 155.5,420.3 156,420 156.5,420.1 157,420.4 157.5,420.2 158,421 169.5,421 170,420.9 170.5,420.9 171,420.8 171.5,420.7 172,420.5 172.5,420.3 173,419.9 173.5,419.5 174,419 174.5,418.4 175,417.8 175.5,417.3 176,416.8 176.5,416.5 177,416.4 177.5,416.5 178,416.7 178.5,417.2 179,417.6 179.5,418.1 180,418.5 180.5,418.7 181,418.8 181.5,418.8 182,418.6 182.5,418.4 183,418.2 183.5,418 184,418 184.5,418.1 185,418.3 185.5,418.7 186,419.1 186.5,419.5 187,419.9 187.5,420.2 188,420.5 188.5,420.5 189,420.8 189.5,420.9 190,420.9 190.5,421 194.5,421 195,419.9 195.5,420.2 196,420.3 196.5,420 197,420 197.5,420.3 198,420.3 198.5,420 199,420.1 199.5,420.4 200,420.2 200.5,419.9 201,420.2 201.5,421 212,421 212.0,421.0Z" fill="#1f7336"/>
<line x1="37.00" y1="427.00" x2="212.00" y2="427.00" stroke="#e6e6e6" stroke-width="0.4" />
<path d="M37.0,427.0L37,426.4 37.5,426.1 38,426 38.5,426.3 39,426.3 39.5,426 40,427 43.5,427 44,426.4 44.5,426.5 45,426.2 45.5,426.2 46,426.5 46.5,426.4 47,426.2 47.5,426.3 48,426.5 48.5,426.3 49,426.2 49.5,426.4 50,426.5 50.5,427 63.5,427 64,426 64.5,426.3 65,426.2 65.5,425.9 66,426.1 66.5,426.3 67,426.1 67.5,425.9 68,426.2 68.5,426.3 69,426 69.5,425.9 70,427 73,427 73.5,426.2 74,426.4 74.5,426.1 75,426 75.5,426.3 76,426.3 76.5,426.1 77,426.1 77.5,426.4 78,426.3 78.5,426 79,426.2 79.5,426.4 80,426.2 80.5,426 81,426.3 81.5,426.4 82,426.1 82.5,426.1 83,426.4 83.5,427 93.5,427 94,426.4 94.5,426.4 95,426.1 95.5,426.2 96,426.4 96.5,426.3 97,426.1 97.5,426.3 98,426.4 98.5,426.2 99,426.1 99.5,426.4 100,426.4 100.5,426.1 101,426.2 101.5,426.4 102,426.3 102.5,426.1 103,426.2 103.5,426.4 104,426.2 104.5,426.1 105,426.3 105.5,426.4 106,426.1 106.5,426.1 107,426.4 107.5,426.3 108,426.1 108.5,426.2 109,426.4 109.5,426.3 110,426.1 110.5,426.3 111,426.4 111.5,426.2 112,426.1 112.5,426.4 113,426.4 113.5,426.1 114,427 117.5,427 118,426.5 118.5,426.6 119,426.4 119.5,426.4 120,426.6 120.5,426.5 121,426.3 121.5,426.5 122,426.6 122.5,427 129.5,427 130,426.2 130.5,426.1 131,426.4 131.5,426.4 132,426.1 132.5,426.2 133,426.5 133.5,426.3 134,426.1 134.5,426.3 135,426.4 135.5,426.2 136,426.1 136.5,426.4 137,426.4 137.5,426.1 138,426.2 138.5,426.4 139,426.3 139.5,427 143.5,427 144,426.3 144.5,426.2 145,425.9 145.5,426.1 146,426.4 146.5,426.1 147,426 147.5,426.2 148,426.3 148.5,426 149,426 149.5,426.3 150,426.3 150.5,426 151,426.1 151.5,426.4 152,426.2 152.5,425.9 153,426.2 153.5,426.3 154,426 154.5,426 155,426.3 155.5,426.3 156,426 156.5,426.1 157,426.4 157.5,426.2 158,427 169.5,427 170,426.9 170.5,426.9 171,426.8 171.5,426.7 172,426.5 172.5,426.2 173,425.8 173.5,425.4 174,424.8 174.5,424.2 175,423.5 175.5,422.9 176,422.4 176.5,422.1 177,422 177.5,422.1 178,422.4 178.5,422.8 179,423.3 179.5,423.8 180,424.3 180.5,424.5 181,424.7 181.5,424.6 182,424.4 182.5,424.2 183,423.9 183.5,423.7 184,423.7 184.5,423.8 185,424.1 185.5,424.5 186,424.9 186.5,425.4 187,425.8 187.5,426.2 188,426.5 188.5,426.5 189,426.8 189.5,426.9 190,426.9 190.5,427 194.5,427 195,426.2 195.5,426.4 196,426.5 196.5,426.3 197,426.2 197.5,426.5 198,426.5 198.5,426.2 199,426.3 199.5,426.5 200,426.4 200.5,426.2 201,426.4 201.5,427 212,427 212.0,427.0Z" fill="#145a28"/>
<rect x="16.2" y="427.4" width="196" height="1.7" fill="#222"/>
<text x="33.40" y="387.70" font-size="8.2" text-anchor="end" fill="#222" textLength="9.74" lengthAdjust="spacingAndGlyphs">EV</text>
<text x="33.40" y="400.70" font-size="8.2" text-anchor="end" fill="#222" textLength="8.93" lengthAdjust="spacingAndGlyphs">4A</text>
<text x="33.40" y="412.10" font-size="8.2" text-anchor="end" fill="#222" textLength="11.35" lengthAdjust="spacingAndGlyphs">WT</text>
<text x="33.40" y="425.20" font-size="8.2" text-anchor="end" fill="#222" textLength="9.33" lengthAdjust="spacingAndGlyphs">4D</text>
<text x="15.80" y="404.30" font-size="9.9" text-anchor="middle" fill="#222" textLength="28.9" lengthAdjust="spacingAndGlyphs" transform="rotate(-90 15.80 404.30)">RNA-seq</text>
<text x="33.30" y="437.10" font-size="7.9" text-anchor="end" fill="#222" textLength="19.4" lengthAdjust="spacingAndGlyphs">Gene</text>
<line x1="35.00" y1="432.40" x2="84.00" y2="432.40" stroke="#6a6aa0" stroke-width="0.6" stroke-dasharray="0.8,0.8"/>
<rect x="35.10" y="430.70" width="4.10" height="3.40" fill="#22226e" />
<rect x="44.10" y="430.70" width="6.10" height="3.40" fill="#22226e" />
<rect x="65.30" y="430.70" width="4.80" height="3.40" fill="#22226e" />
<rect x="75.10" y="430.70" width="4.00" height="3.40" fill="#22226e" />
<rect x="79.10" y="431.40" width="5.40" height="2.00" fill="#22226e" />
<line x1="128.90" y1="432.70" x2="143.10" y2="432.70" stroke="#6a6aa0" stroke-width="0.7" stroke-dasharray="0.8,0.8"/>
<rect x="127.70" y="431.60" width="1.40" height="2.20" fill="#22226e" />
<rect x="143.10" y="431.10" width="30.00" height="3.40" fill="#22226e" />
<rect x="173.10" y="431.80" width="15.40" height="1.90" fill="#22226e" />
<text x="61.50" y="445.00" font-size="8.2" text-anchor="middle" fill="#222" textLength="24.3" lengthAdjust="spacingAndGlyphs">SEPT5</text>
<text x="156.20" y="445.00" font-size="8.2" text-anchor="middle" fill="#222" textLength="25" lengthAdjust="spacingAndGlyphs">GP1BB</text>
<text x="0" y="0" font-size="12.6" font-weight="bold" fill="#000" style="stroke:#000;stroke-width:0.3" transform="translate(221.97 309.80) scale(0.860 1)">E</text>
<text x="367.80" y="307.90" font-size="9.2" text-anchor="middle" fill="#222" textLength="14" lengthAdjust="spacingAndGlyphs">KIT</text>
<line x1="249.30" y1="318.60" x2="499.00" y2="318.60" stroke="#b8b8b8" stroke-width="0.6" />
<line x1="249.30" y1="321.40" x2="499.00" y2="321.40" stroke="#7c7c7c" stroke-width="1.0" />
<rect x="251.5" y="314.6" width="7" height="1.0" fill="#c4c4c4"/>
<line x1="255.00" y1="316.20" x2="255.00" y2="321.00" stroke="#bbb" stroke-width="0.5" />
<rect x="280.4" y="314.6" width="7" height="1.0" fill="#c4c4c4"/>
<line x1="283.90" y1="316.20" x2="283.90" y2="321.00" stroke="#bbb" stroke-width="0.5" />
<rect x="309.3" y="314.6" width="7" height="1.0" fill="#c4c4c4"/>
<line x1="312.80" y1="316.20" x2="312.80" y2="321.00" stroke="#bbb" stroke-width="0.5" />
<rect x="338.2" y="314.6" width="7" height="1.0" fill="#c4c4c4"/>
<line x1="341.70" y1="316.20" x2="341.70" y2="321.00" stroke="#bbb" stroke-width="0.5" />
<rect x="367.1" y="314.6" width="7" height="1.0" fill="#c4c4c4"/>
<line x1="370.60" y1="316.20" x2="370.60" y2="321.00" stroke="#bbb" stroke-width="0.5" />
<rect x="396.0" y="314.6" width="7" height="1.0" fill="#c4c4c4"/>
<line x1="399.50" y1="316.20" x2="399.50" y2="321.00" stroke="#bbb" stroke-width="0.5" />
<rect x="424.9" y="314.6" width="7" height="1.0" fill="#c4c4c4"/>
<line x1="428.40" y1="316.20" x2="428.40" y2="321.00" stroke="#bbb" stroke-width="0.5" />
<rect x="453.8" y="314.6" width="7" height="1.0" fill="#c4c4c4"/>
<line x1="457.30" y1="316.20" x2="457.30" y2="321.00" stroke="#bbb" stroke-width="0.5" />
<rect x="482.7" y="314.6" width="7" height="1.0" fill="#c4c4c4"/>
<line x1="486.20" y1="316.20" x2="486.20" y2="321.00" stroke="#bbb" stroke-width="0.5" />
<line x1="251.00" y1="319.10" x2="251.00" y2="320.80" stroke="#ccc" stroke-width="0.4" />
<line x1="260.60" y1="319.10" x2="260.60" y2="320.80" stroke="#ccc" stroke-width="0.4" />
<line x1="270.20" y1="319.10" x2="270.20" y2="320.80" stroke="#ccc" stroke-width="0.4" />
<line x1="279.80" y1="319.10" x2="279.80" y2="320.80" stroke="#ccc" stroke-width="0.4" />
<line x1="289.40" y1="319.10" x2="289.40" y2="320.80" stroke="#ccc" stroke-width="0.4" />
<line x1="299.00" y1="319.10" x2="299.00" y2="320.80" stroke="#ccc" stroke-width="0.4" />
<line x1="308.60" y1="319.10" x2="308.60" y2="320.80" stroke="#ccc" stroke-width="0.4" />
<line x1="318.20" y1="319.10" x2="318.20" y2="320.80" stroke="#ccc" stroke-width="0.4" />
<line x1="327.80" y1="319.10" x2="327.80" y2="320.80" stroke="#ccc" stroke-width="0.4" />
<line x1="337.40" y1="319.10" x2="337.40" y2="320.80" stroke="#ccc" stroke-width="0.4" />
<line x1="347.00" y1="319.10" x2="347.00" y2="320.80" stroke="#ccc" stroke-width="0.4" />
<line x1="356.60" y1="319.10" x2="356.60" y2="320.80" stroke="#ccc" stroke-width="0.4" />
<line x1="366.20" y1="319.10" x2="366.20" y2="320.80" stroke="#ccc" stroke-width="0.4" />
<line x1="375.80" y1="319.10" x2="375.80" y2="320.80" stroke="#ccc" stroke-width="0.4" />
<line x1="385.40" y1="319.10" x2="385.40" y2="320.80" stroke="#ccc" stroke-width="0.4" />
<line x1="395.00" y1="319.10" x2="395.00" y2="320.80" stroke="#ccc" stroke-width="0.4" />
<line x1="404.60" y1="319.10" x2="404.60" y2="320.80" stroke="#ccc" stroke-width="0.4" />
<line x1="414.20" y1="319.10" x2="414.20" y2="320.80" stroke="#ccc" stroke-width="0.4" />
<line x1="423.80" y1="319.10" x2="423.80" y2="320.80" stroke="#ccc" stroke-width="0.4" />
<line x1="433.40" y1="319.10" x2="433.40" y2="320.80" stroke="#ccc" stroke-width="0.4" />
<line x1="443.00" y1="319.10" x2="443.00" y2="320.80" stroke="#ccc" stroke-width="0.4" />
<line x1="452.60" y1="319.10" x2="452.60" y2="320.80" stroke="#ccc" stroke-width="0.4" />
<line x1="462.20" y1="319.10" x2="462.20" y2="320.80" stroke="#ccc" stroke-width="0.4" />
<line x1="471.80" y1="319.10" x2="471.80" y2="320.80" stroke="#ccc" stroke-width="0.4" />
<line x1="481.40" y1="319.10" x2="481.40" y2="320.80" stroke="#ccc" stroke-width="0.4" />
<line x1="491.00" y1="319.10" x2="491.00" y2="320.80" stroke="#ccc" stroke-width="0.4" />
<line x1="249.50" y1="327.70" x2="499.00" y2="327.70" stroke="#e4e4e4" stroke-width="0.4" />
<path d="M249.5,328.0L249.5,328 250.5,328 251,326.6 251.5,326.5 252,326.3 252.5,327.7 253,327.4 253.5,327.4 254,328 254.5,327.1 255,327.7 255.5,326.3 256,326.2 256.5,327.4 257,327.8 257.5,326.5 258,328 260,328 260.5,326.2 261,328 261.5,326.9 262,328 262.5,328 263,326.6 263.5,326.7 264,328 264.5,326.2 265,328 265.5,328 266,326.5 266.5,327.9 267,328 267.5,328 268,327.1 268.5,326.3 269,326.4 269.5,326.9 270,327.9 270.5,327.7 271,327.9 271.5,327.5 272,327.3 272.5,327.1 273,328 273.5,328 274,327.7 274.5,327 275,327.4 275.5,327.7 276,326.9 276.5,328 277,326.7 277.5,326.6 278,327 278.5,328 279,327.2 279.5,326 280,327.2 280.5,328 281,328 281.5,326.6 282,328 283.5,328 284,327.5 284.5,328 285,328 285.5,327.1 286,328 287.5,328 288,327 288.5,328 289.5,328 290,327.4 290.5,328 291,327.8 291.5,326.6 292,327 292.5,327.9 293,328 294,328 294.5,327.3 295,328 295.5,327.9 296,328 296.5,327.4 297,327.7 297.5,328 298,326.2 298.5,326.9 299,328 299.5,326.7 300,326.3 300.5,328 301.5,328 302,327.8 302.5,328 303,328 303.5,326.7 304,327.1 304.5,327.5 305,328 305.5,328 306,327.9 306.5,328 307,328 307.5,327.8 308,328 308.5,326.5 309,328 309.5,328 310,326.6 310.5,327 311,327.4 311.5,327 312,326.1 312.5,326.5 313,328 313.5,328 314,326.8 314.5,326.5 315,326.8 315.5,327.2 316,328 316.5,328 317,326.1 317.5,327.5 318,326.8 318.5,328 319,328 319.5,326.7 320,328 320.5,326.1 321,328 321.5,328 322,327 322.5,327.1 323,328 323.5,327.1 324,328 324.5,328 325,327.9 325.5,328 326,326.2 326.5,327.5 327,328 327.5,328 328,326.3 328.5,328 330,328 330.5,327.1 331,327 331.5,328 332,326.1 332.5,328 333,326.6 333.5,328 334,326.5 334.5,328 335,328 335.5,326.6 336,328 336.5,326.2 337,328 337.5,328 338,326.3 338.5,328 339,326.4 339.5,328 340,327.3 340.5,328 341,327.8 341.5,328 342.5,328 343,326.8 343.5,327 344,327.8 344.5,327.3 345,328 345.5,326.6 346,328 347,328 347.5,327.3 348,327.1 348.5,328 349,327.8 349.5,328 350,327.4 350.5,328 351.5,328 352,326.9 352.5,327.7 353,326.5 353.5,326.2 354,327.7 354.5,326.7 355,326.1 355.5,328 356,327.3 356.5,328 357,326.5 357.5,328 358,327 358.5,328 359,326.5 359.5,328 361,328 361.5,327.7 362,326.7 362.5,327.3 363,327.2 363.5,328 364,327.2 364.5,326.6 365,327.6 365.5,328 366,328 366.5,327.5 367,326.6 367.5,328 368,326.8 368.5,328 370,328 370.5,327.6 371,328 371.5,328 372,327.6 372.5,328 373.5,328 374,327.3 374.5,328 375.5,328 376,327 376.5,328 377.5,328 378,326.4 378.5,327.8 379,328 379.5,326.4 380,328 381,328 381.5,327.6 382,326.3 382.5,328 383,327.8 383.5,327.4 384,328 384.5,327.6 385,328 385.5,327.6 386,328 387,328 387.5,327.4 388,328 388.5,328 389,326.8 389.5,326.9 390,327.6 390.5,327.7 391,326.5 391.5,328 392,328 392.5,326.8 393,326.1 393.5,327.5 394,328 394.5,327.8 395,328 396.5,328 397,327.3 397.5,326.2 398,328 399.5,328 400,327 400.5,328 401,327.4 401.5,327.9 402,326.7 402.5,327.6 403,327.1 403.5,328 404.5,328 405,326.9 405.5,327.2 406,328 406.5,326.3 407,326.5 407.5,327.7 408,327.8 408.5,327 409,328 409.5,328 410,327.3 410.5,328 411,327.1 411.5,327.4 412,327.6 412.5,328 413,327.8 413.5,328 414,328 414.5,327.3 415,328 416.5,328 417,326.4 417.5,328 418,327.8 418.5,328 419,327.6 419.5,326.1 420,328 420.5,327.3 421,326.2 421.5,328 422.5,328 423,327.5 423.5,328 425,328 425.5,326.6 426,328 426.5,326.5 427,327 427.5,327.7 428,327.4 428.5,327.8 429,326.2 429.5,326.5 430,328 431,328 431.5,326.8 432,328 432.5,327.5 433,328 433.5,327.6 434,326.8 434.5,327.9 435,328 435.5,327.3 436,327.4 436.5,328 437,326.9 437.5,328 438,327.4 438.5,327.2 439,328 439.5,328 440,326.4 440.5,326.9 441,328 441.5,328 442,326.6 442.5,327.9 443,327.1 443.5,328 444,327.6 444.5,328 445.5,328 446,326.4 446.5,328 447,327.4 447.5,327.8 448,327.6 448.5,328 449,327.1 449.5,327.8 450,328 450.5,326.5 451,327.3 451.5,326.9 452,327.8 452.5,328 453,326.3 453.5,328 454,328 454.5,326.3 455,328 456.5,328 457,326.5 457.5,328 458,328 458.5,327.4 459,328 459.5,328 460,327.2 460.5,328 461.5,328 462,326.7 462.5,326.3 463,327.2 463.5,328 464.5,328 465,327.9 465.5,326.4 466,328 466.5,326.8 467,328 467.5,326.3 468,327.1 468.5,328 469,327.5 469.5,326.8 470,328 470.5,328 471,326.8 471.5,327.1 472,328 472.5,328 473,326.3 473.5,327.7 474,328 475,328 475.5,327.8 476,327.4 476.5,327.3 477,327.5 477.5,328 478,327.3 478.5,327 479,328 479.5,328 480,326.4 480.5,326.7 481,327.4 481.5,326.9 482,328 482.5,326.2 483,326.4 483.5,327 484,328 484.5,326.6 485,327.4 485.5,328 486,326.1 486.5,327.6 487,327.4 487.5,327.7 488,328 488.5,326.8 489,328 489.5,326.4 490,326.3 490.5,327.5 491,328 492,328 492.5,326.1 493,328 494,328 494.5,327.9 495,326.2 495.5,326.9 496,326.8 496.5,328 497,326.5 497.5,328 498,326.9 498.5,326.4 499,328 499.0,328.0Z" fill="#2a2a2a"/>
<line x1="249.50" y1="333.80" x2="499.00" y2="333.80" stroke="#e4e4e4" stroke-width="0.4" />
<path d="M249.5,334.1L249.5,334.1 250,334.1 250.5,333.4 251,333.8 251.5,334.1 252,333.2 252.5,333.8 253,333.4 253.5,333.7 254,334.1 254.5,333.2 255,333.8 255.5,334.1 256,333.6 256.5,333.7 257,333.4 257.5,333.4 258,334.1 258.5,334.1 259,333.4 259.5,333.2 260,334.1 262,334.1 262.5,334 263,333.3 263.5,334.1 264,333.5 264.5,334.1 265,333.9 265.5,334.1 266,333.3 266.5,333.2 267,333.8 267.5,334.1 268.5,334.1 269,333.5 269.5,333.8 270,334.1 270.5,334.1 271,333.2 271.5,334.1 272.5,334.1 273,333.7 273.5,334.1 274.5,334.1 275,333.4 275.5,334.1 276,333.7 276.5,334.1 277,333.4 277.5,334.1 278,334 278.5,334.1 281,334.1 281.5,333.7 282,334.1 283,334.1 283.5,333.9 284,334.1 284.5,333.3 285,334.1 285.5,334.1 286,333.6 286.5,334.1 287,333.2 287.5,334.1 288,334.1 288.5,333.2 289,333.8 289.5,333.4 290,333.7 290.5,334.1 291,334.1 291.5,333.6 292,334 292.5,333.9 293,334.1 293.5,333.9 294,334.1 294.5,334.1 295,333.4 295.5,334.1 296.5,334.1 297,333.8 297.5,333.3 298,334.1 298.5,333.3 299,333.2 299.5,334.1 300,333.7 300.5,334.1 301,333.6 301.5,334.1 302,333.8 302.5,334.1 304,334.1 304.5,333.7 305,333.9 305.5,334.1 306,333.4 306.5,333.4 307,334.1 307.5,334.1 308,333.9 308.5,333.6 309,334.1 309.5,333.5 310,333.6 310.5,334.1 311,334.1 311.5,333.5 312,334.1 313.5,334.1 314,333.5 314.5,333.5 315,334 315.5,334.1 316.5,334.1 317,333.3 317.5,334.1 318,334 318.5,333.9 319,334.1 319.5,333.9 320,333.8 320.5,333.3 321,334.1 321.5,334.1 322,333.9 322.5,333.6 323,333.9 323.5,334.1 324,333.9 324.5,333.8 325,334.1 325.5,334 326,333.9 326.5,334.1 327,333.2 327.5,334 328,334.1 328.5,333.4 329,334.1 329.5,334.1 330,333.5 330.5,334.1 331,333.8 331.5,334.1 332.5,334.1 333,333.8 333.5,334.1 334,333.9 334.5,333.5 335,334.1 335.5,334.1 336,333.7 336.5,333.3 337,334 337.5,334.1 338,334.1 338.5,333.5 339,334.1 339.5,333.5 340,334.1 340.5,334.1 341,334 341.5,333.6 342,333.5 342.5,333.3 343,333.9 343.5,333.6 344,334.1 344.5,334.1 345,334 345.5,334 346,334.1 348,334.1 348.5,334 349,334.1 349.5,334.1 350,334 350.5,333.2 351,333.8 351.5,333.5 352,333.7 352.5,333.8 353,334.1 354,334.1 354.5,333.9 355,333.5 355.5,334.1 356,334.1 356.5,333.8 357,333.3 357.5,333.6 358,334.1 358.5,333.5 359,334.1 359.5,333.7 360,334.1 360.5,333.8 361,333.6 361.5,334 362,334.1 362.5,333.4 363,334.1 363.5,333.3 364,334.1 364.5,334.1 365,333.4 365.5,334.1 366,333.8 366.5,334.1 368,334.1 368.5,333.3 369,334.1 371,334.1 371.5,333.3 372,334.1 372.5,334.1 373,334 373.5,334.1 374,334.1 374.5,333.5 375,333.4 375.5,334.1 376,333.3 376.5,333.4 377,334.1 377.5,333.6 378,334.1 378.5,334.1 379,333.3 379.5,334.1 380,333.9 380.5,333.8 381,334.1 381.5,334.1 382,333.9 382.5,334.1 383,334.1 383.5,333.2 384,334.1 384.5,333.6 385,334 385.5,334.1 386,334.1 386.5,333.8 387,334 387.5,333.6 388,334 388.5,333.6 389,334.1 389.5,333.5 390,334.1 390.5,333.5 391,333.3 391.5,333.3 392,333.8 392.5,334.1 395.5,334.1 396,333.6 396.5,334.1 397,334 397.5,334.1 398,333.7 398.5,333.3 399,334.1 399.5,333.2 400,333.5 400.5,333.4 401,334.1 401.5,333.6 402,333.5 402.5,333.5 403,334.1 403.5,333.5 404,334.1 405,334.1 405.5,333.2 406,334.1 406.5,333.4 407,334.1 407.5,333.8 408,334.1 410,334.1 410.5,333.6 411,334.1 411.5,333.8 412,333.5 412.5,333.4 413,334.1 413.5,334.1 414,333.5 414.5,333.8 415,334 415.5,334 416,334.1 416.5,334.1 417,333.8 417.5,334.1 418,334.1 418.5,333.5 419,333.7 419.5,334.1 420,334 420.5,334.1 421,333.8 421.5,333.6 422,333.7 422.5,334.1 423.5,334.1 424,333.5 424.5,334.1 425,333.8 425.5,334 426,333.4 426.5,333.8 427,333.4 427.5,334.1 428,333.6 428.5,334.1 429,334.1 429.5,333.8 430,334.1 430.5,333.6 431,333.9 431.5,333.7 432,334.1 434,334.1 434.5,333.4 435,334.1 438.5,334.1 439,333.9 439.5,334.1 440,334.1 440.5,334 441,334.1 441.5,333.6 442,334.1 442.5,333.4 443,334.1 443.5,333.5 444,333.8 444.5,333.6 445,334.1 445.5,334.1 446,333.5 446.5,333.5 447,334.1 447.5,333.2 448,334.1 450,334.1 450.5,333.9 451,333.6 451.5,334.1 453.5,334.1 454,333.5 454.5,334.1 456.5,334.1 457,333.8 457.5,334.1 458.5,334.1 459,333.6 459.5,333.4 460,334.1 460.5,333.2 461,334.1 461.5,333.2 462,333.4 462.5,333.2 463,333.4 463.5,333.8 464,333.7 464.5,334.1 465.5,334.1 466,334 466.5,333.3 467,334.1 467.5,333.7 468,334.1 470.5,334.1 471,333.4 471.5,334.1 473.5,334.1 474,333.4 474.5,334.1 475,333.6 475.5,333.3 476,333.3 476.5,333.2 477,334.1 477.5,334.1 478,333.7 478.5,333.7 479,333.8 479.5,334 480,334.1 481,334.1 481.5,333.5 482,333.6 482.5,333.6 483,334.1 483.5,333.8 484,333.3 484.5,333.7 485,333.5 485.5,333.3 486,333.3 486.5,333.5 487,333.7 487.5,333.9 488,334.1 488.5,333.6 489,333.6 489.5,333.8 490,334.1 490.5,333.5 491,334.1 491.5,333.6 492,334.1 493,334.1 493.5,333.2 494,334 494.5,334.1 496,334.1 496.5,333.2 497,333.9 497.5,333.7 498,333.4 498.5,333.9 499,334 499.0,334.1Z" fill="#9a9a9a"/>
<line x1="249.50" y1="340.20" x2="499.00" y2="340.20" stroke="#e4e4e4" stroke-width="0.4" />
<path d="M249.5,340.5L249.5,339.9 250,338.9 250.5,340.1 251,338.6 251.5,336.7 252,337.9 252.5,339.8 253,338.6 253.5,338.9 254,340.1 254.5,338.8 255,340.1 255.5,340.1 256,340 256.5,340.1 257,339.4 257.5,340.1 258,340.1 258.5,340 259,339.8 259.5,340.1 261.5,340.1 262,339.7 262.5,338.8 263,339 263.5,339.3 264,340.1 264.5,339.7 265,339.9 265.5,340.1 266,338.7 266.5,339.2 267,340 267.5,339.9 268,340.1 268.5,340.1 269,339.1 269.5,338.9 270,340.1 270.5,339.2 271,340.1 271.5,339.3 272,340.1 273,340.1 273.5,339.4 274,339.2 274.5,340.1 275,339.1 275.5,340.1 276,340.1 276.5,338.8 277,339.2 277.5,337.5 278,338.5 278.5,340.1 279,339 279.5,337 280,338.1 280.5,340.1 281,339.5 281.5,337.9 282,338.8 282.5,339.9 283,338.9 283.5,339.6 284,340 284.5,339.3 285,340.1 286.5,340.1 287,339 287.5,339.2 288,340.1 288.5,339.8 289,339.2 289.5,340.1 290,339.8 290.5,339.9 291,340.1 291.5,340.1 292,339.6 292.5,340.1 293,338.9 293.5,340.1 294.5,340.1 295,339.8 295.5,340 296,339.2 296.5,339.8 297,340.1 297.5,340.1 298,339.4 298.5,338.8 299,339.7 299.5,339 300,339.4 300.5,338.7 301,340.1 301.5,340 302,340.1 302.5,338.9 303,339 303.5,338.8 304,339.3 304.5,340.1 306,340.1 306.5,339.6 307,339.5 307.5,340.1 308,340.1 308.5,339.4 309,340.1 309.5,339.4 310,340.1 310.5,340.1 311,338.7 311.5,340 312,340.1 313.5,340.1 314,339.4 314.5,339.5 315.5,339.5 316,340 316.5,340.1 317,338.9 317.5,340.1 318,339.3 318.5,340.1 320,340.1 320.5,339.3 321,340 321.5,340.1 322,339.9 323,339.9 323.5,340.1 324,338.7 324.5,339.6 325,339.5 325.5,340.1 326,340.1 326.5,339.7 327,340.1 327.5,338.8 328,339.3 328.5,340.1 329,339.6 329.5,340.1 332.5,340.1 333,338.7 333.5,339.2 334,338.8 334.5,340.1 335.5,340.1 336,339.6 337,339.6 337.5,340.1 338,340.1 338.5,338.8 339,339.1 339.5,340.1 340,340.1 340.5,338.9 341,339.2 341.5,339.2 342,339.7 342.5,340.1 344.5,340.1 345,339.6 345.5,338.7 346,340.1 346.5,340.1 347,339 347.5,340.1 348,338.7 348.5,339.2 349,340 349.5,339.1 350,340.1 350.5,339.5 351,339.3 351.5,340.1 352,340.1 352.5,338.8 353,338.7 353.5,338.7 354,338.8 354.5,340.1 355,339.4 355.5,339.5 356,340.1 356.5,339.8 357,339.1 357.5,339 358,340.1 358.5,339.5 359,339.9 359.5,340.1 360,340.1 360.5,339.7 361,340.1 361.5,339.6 362,340.1 363,340.1 363.5,339.6 364,340.1 364.5,339.6 365,339 365.5,340.1 366,340.1 366.5,339.3 367,339.8 367.5,340.1 368,339.2 368.5,339.1 369,340.1 370,340.1 370.5,339.1 371,340.1 372.5,340.1 373,338.7 373.5,340.1 374,339 374.5,340.1 375,340.1 375.5,339.6 376,339.8 376.5,339.3 377,340.1 377.5,340.1 378,339.7 378.5,340.1 382.5,340.1 383,339.7 383.5,340.1 384,339 384.5,338.9 385,339.9 385.5,340.1 386,339.2 386.5,340.1 387.5,340.1 388,339 388.5,338.9 389,339.1 389.5,340.1 391.5,340.1 392,338.8 392.5,340.1 394.5,340.1 395,339.5 395.5,340.1 396,339 396.5,339.5 397,340.1 397.5,339.4 398,339.2 398.5,339.6 399,340.1 399.5,338.7 400,340.1 400.5,340.1 401,339 401.5,340.1 402.5,340.1 403,338.9 403.5,340.1 404,339.9 404.5,339.7 405,338.9 405.5,340.1 406,339.1 406.5,339.7 407,340.1 407.5,339.4 408,340.1 408.5,339.3 409,340.1 409.5,340.1 410,340 410.5,340.1 412.5,340.1 413,339.9 413.5,339.5 414,338.9 414.5,339.1 415,340.1 416.5,340.1 417,338.7 417.5,340.1 418,340.1 418.5,339.1 419,339.7 419.5,340.1 420,339 420.5,340.1 421,340.1 421.5,339.4 422,340.1 422.5,339.5 423,338.9 423.5,340.1 424,338.9 424.5,339.4 425,338.9 425.5,340.1 426,339.9 426.5,340.1 427,339.6 427.5,340.1 428,339.6 428.5,339.2 429,339 429.5,338.9 430,339.9 430.5,339 431,340.1 431.5,340 432,340.1 432.5,340.1 433,339.4 433.5,340.1 434,340.1 434.5,339.6 435,340 435.5,340.1 436,340.1 436.5,339.3 437,339.5 437.5,338.7 438,340.1 438.5,340.1 439,338.8 439.5,340.1 441.5,340.1 442,338.7 442.5,339.8 443,339.3 443.5,339.6 444,340.1 444.5,338.9 445,340.1 445.5,339.5 446,340.1 446.5,339.6 447,340.1 447.5,340.1 448,339.7 448.5,339 449,339.8 449.5,340.1 451.5,340.1 452,339.8 452.5,340.1 453,339.9 453.5,338.8 454,340.1 454.5,340.1 455,339.2 455.5,339.2 456,339.5 456.5,338.8 457,340.1 458,340.1 458.5,339.2 459,339.8 459.5,338.7 460,340.1 460.5,339.7 461,339.5 461.5,340.1 462,339.3 462.5,340.1 463,340.1 463.5,338.8 464,340.1 464.5,339.5 465,339.1 465.5,340.1 466,338.7 466.5,339.8 467,339.3 467.5,340.1 468,339 468.5,338.7 469,339.2 469.5,340 470,340.1 471,340.1 471.5,339.4 472,340.1 473.5,340.1 474,338.9 474.5,340.1 476.5,340.1 477,340 477.5,340.1 478,340.1 478.5,338.7 479,340.1 480,340.1 480.5,338.8 481,339.1 481.5,340.1 482,338.8 482.5,339 483,339.3 483.5,338.7 484,340.1 484.5,339.9 485,339.9 485.5,340.1 487,340.1 487.5,339.4 488,340.1 489,340.1 489.5,339.9 490,338.7 490.5,339.9 491,339.2 491.5,339.8 492,340.1 492.5,338.9 493,339.7 493.5,340.1 494,339.2 494.5,340.1 496,340.1 496.5,339.9 497,339 497.5,340.1 498,340.1 498.5,339.5 499,338.8 499.0,340.5Z" fill="#2f9040"/>
<line x1="249.50" y1="346.50" x2="499.00" y2="346.50" stroke="#e4e4e4" stroke-width="0.4" />
<path d="M249.5,346.8L249.5,346.1 250,346.1 250.5,346.4 251,344.9 251.5,343 252,344.2 252.5,346.1 253,344.9 253.5,345.2 254,346.4 255,346.4 255.5,345.6 256,346.4 256.5,345.5 257,345.7 257.5,346.4 258,346.4 258.5,345.5 259,346.4 259.5,346.2 260,346.4 260.5,345.5 261,346.4 262,346.4 262.5,346.1 263,346.4 264,346.4 264.5,346.3 265,345.9 265.5,346.4 268,346.4 268.5,345.4 269,345.5 269.5,346.4 270.5,346.4 271,345.6 271.5,345.8 272,346.3 272.5,346.4 273.5,346.4 274,346.1 274.5,346.4 276,346.4 276.5,345.4 277,345.5 277.5,343.8 278,344.8 278.5,346.4 279,345.3 279.5,343.3 280,344.4 280.5,345.8 281,345.8 281.5,344.2 282,345.1 282.5,346.4 283,346.4 283.5,345.6 284,345.5 284.5,346.4 285,346.1 285.5,346 286,346.4 286.5,345.5 287,346.1 287.5,345.4 288,346.3 288.5,345.7 289,346.4 289.5,346.4 290,346 290.5,345.4 291,346.4 291.5,346.4 292,345.8 292.5,345.7 293,345.9 293.5,346.1 294,346.3 294.5,345.5 295,346.2 295.5,346.4 296,346.4 296.5,345.7 297,346.4 297.5,346.4 298,346.2 298.5,346.4 299.5,346.4 300,345.4 300.5,345.5 301,345.9 301.5,345.9 302,346.4 302.5,345.8 303,346.4 304,346.4 304.5,346.2 305,345.7 305.5,346.2 306,346.3 306.5,346.4 307,346.4 307.5,345.9 308,345.4 308.5,346.3 309,345.9 309.5,346.4 310,346.1 310.5,346.4 311,346.4 311.5,345.4 312,346.4 313,346.4 313.5,346.3 314,345.5 314.5,346.4 315,346.4 315.5,346.3 316,346.4 317.5,346.4 318,345.7 318.5,345.6 319,346.4 320,346.4 320.5,346.2 321,346.4 322,346.4 322.5,345.7 323,345.9 323.5,345.6 324,346 324.5,346.4 326,346.4 326.5,345.7 327,346.4 327.5,346.4 328,345.9 328.5,346.4 329.5,346.4 330,345.4 330.5,346.4 331,345.4 331.5,346.4 332,346.4 332.5,346.1 333,345.9 333.5,346.4 334,346.1 334.5,345.5 335,346.4 335.5,345.7 336,346.2 336.5,345.5 337,346.4 337.5,346.4 338,346.3 338.5,346.4 340,346.4 340.5,345.5 341,346.3 341.5,346.4 342,345.5 342.5,346.4 343,346.3 343.5,345.6 344,346.4 344.5,346.4 345,346.3 345.5,345.4 346,345.6 346.5,346.4 348,346.4 348.5,346 349,345.5 349.5,345.6 350,345.4 350.5,346.4 352,346.4 352.5,345.6 353,346.4 356.5,346.4 357,346 357.5,346.4 358,346.4 358.5,346 359,346.1 359.5,346.4 360,345.9 360.5,345.4 361,345.5 361.5,346.4 362,346.4 362.5,345.7 363,346.4 363.5,346 364,346.4 365.5,346.4 366,346.3 366.5,346.4 367,345.9 367.5,346.4 368,346.1 368.5,346 369,346.4 369.5,345.8 370,346.4 370.5,346.4 371,346 371.5,346.2 372,346.4 372.5,345.4 373,346.1 373.5,346.1 374,346.4 375,346.4 375.5,345.5 376,346 376.5,346.4 378,346.4 378.5,345.4 379,346.4 379.5,346.4 380,346.1 380.5,345.4 381,346.2 381.5,346.4 383.5,346.4 384,345.9 384.5,345.4 385,345.9 385.5,346 386,346.4 388,346.4 388.5,346.2 389,345.7 389.5,345.9 390,346.4 390.5,345.7 391,346.4 393,346.4 393.5,345.4 394,346.3 394.5,346.4 401,346.4 401.5,345.9 402,345.6 402.5,345.7 403,345.4 403.5,346.4 405.5,346.4 406,345.5 406.5,345.7 407,346.2 407.5,345.9 408,346.4 408.5,346.2 409,345.4 409.5,346.4 410,346.4 410.5,346.3 411,345.9 411.5,346.4 412.5,346.4 413,346.1 413.5,345.6 414,346.4 414.5,346.4 415,346.1 415.5,346.4 416,346.3 416.5,346.4 417,346 417.5,346.4 418,345.9 418.5,346.4 419.5,346.4 420,346 420.5,346.4 421,345.5 421.5,346.4 422,346.4 422.5,345.8 423,346.4 423.5,346.2 424,345.7 424.5,345.8 425,346.3 425.5,346.4 426,346.4 426.5,345.9 427,346.3 427.5,346.4 429.5,346.4 430,345.8 430.5,346.4 431,346.2 431.5,345.7 432,346.3 432.5,345.8 433,346.4 433.5,346.3 434,345.4 434.5,346.4 435.5,346.4 436,346 436.5,346.1 437,346.4 437.5,345.6 438,346.3 438.5,345.7 439,346.4 439.5,346.4 440,345.5 440.5,345.5 441,346.3 441.5,345.5 442,346.4 443.5,346.4 444,345.4 444.5,346.4 448,346.4 448.5,346.3 449,346 449.5,345.9 450,346.4 451,346.4 451.5,345.7 452,345.6 452.5,346.4 453,346.4 453.5,346.1 454,346.2 454.5,346.4 456,346.4 456.5,346.3 457,346 457.5,345.9 458,346.2 458.5,346.4 459.5,346.4 460,346.2 460.5,345.4 461,346.4 462,346.4 462.5,345.4 463,346.4 463.5,346.4 464,345.8 464.5,346.4 468,346.4 468.5,345.6 469,346.4 469.5,346.4 470,346 470.5,346.4 473.5,346.4 474,345.9 474.5,345.7 475,346.4 476,346.4 476.5,345.7 477,346.4 477.5,346 478,345.9 478.5,346.4 479,346.3 479.5,346.3 480,346.4 480.5,346.2 481,346.4 481.5,346.3 482,346.4 482.5,346.4 483,345.6 483.5,346.4 484,345.8 484.5,345.5 485,346.4 487,346.4 487.5,346 488,346 488.5,346.4 489,346 489.5,346.4 491.5,346.4 492,346.1 492.5,346.4 493,346.4 493.5,345.6 494,346.4 494.5,345.6 495,346.4 496.5,346.4 497,345.5 497.5,346.4 498,345.5 498.5,346.4 499,346.4 499.0,346.8Z" fill="#5fb86a"/>
<line x1="249.50" y1="352.30" x2="499.00" y2="352.30" stroke="#e4e4e4" stroke-width="0.4" />
<path d="M249.5,352.6L249.5,351.3 250,352.2 250.5,352.2 251,350.7 251.5,348.8 252,350 252.5,351.9 253,350.8 253.5,351 254,352.2 254.5,352.2 255,351.4 255.5,350.8 256,352.2 257,352.2 257.5,351.2 258,351.9 258.5,352.2 259,352.2 259.5,352.1 260,352 260.5,352.2 261,351.8 261.5,352.2 262,351.2 262.5,350.8 263,352.2 263.5,351.2 264,352.2 264.5,350.7 265,352.2 266,352.2 266.5,350.7 267,351.4 267.5,352.2 268,351.8 268.5,352.1 269,350.9 269.5,351.5 270,352.2 270.5,352.2 271,350.9 271.5,351.8 272,352.2 272.5,352.2 273,352 273.5,352.2 274.5,352.2 275,351.1 275.5,352.2 276,350.9 276.5,352.2 277,351.3 277.5,349.6 278,350.6 278.5,352.2 279,351.1 279.5,349.1 280,350.2 280.5,351.9 281,351.6 281.5,350 282,350.9 282.5,351.5 283,352.2 283.5,352.2 284,351.9 284.5,350.7 285,352.2 287,352.2 287.5,351.3 288,352.2 288.5,351.1 289,352.2 289.5,352.2 290,350.7 290.5,352.2 291,351.6 291.5,351.1 292,350.8 292.5,351.8 293,351.1 293.5,351.5 294,351 294.5,352.2 295,351.2 295.5,350.7 296,352.2 296.5,351.4 297,351.4 297.5,352.2 298,351.9 298.5,352.2 299,352.2 299.5,352 300,351 300.5,351.7 301,350.9 301.5,350.7 302,352.1 302.5,352.2 303,350.8 303.5,350.9 304,352.2 304.5,351.7 305,351.5 305.5,350.7 306,352.2 306.5,352.2 307,351.6 307.5,351.3 308,351.9 308.5,352.2 309.5,352.2 310,351.2 310.5,351 311,351.6 311.5,351.7 312,351.6 312.5,352.2 313,352.2 313.5,350.9 314,352.2 314.5,352.2 315,351.6 315.5,351.8 316,351.1 316.5,352.2 317.5,352.2 318,350.9 318.5,350.8 319,351.8 319.5,351.5 320,351.1 320.5,352.2 321,351.1 321.5,352.2 322,352.2 322.5,351.7 323,352.2 323.5,352 324,351.4 324.5,351.8 325,350.7 325.5,351.5 326,351.5 326.5,352.2 327,352.2 327.5,351.8 328,352.2 328.5,351.7 329,350.9 329.5,352.2 330,352.2 330.5,352.1 331,351.8 331.5,351 332,351.5 332.5,352.2 333,352.2 333.5,350.8 334,351.9 334.5,352.2 335,351.1 335.5,352.1 336,351.1 336.5,351.3 337,351.5 337.5,352.2 338,352.2 338.5,351.7 339,351.2 339.5,351.8 340,352.2 340.5,350.7 341,352.2 341.5,351.4 342,351.7 342.5,352.1 343,351.5 343.5,352.2 344.5,352.2 345,352.1 345.5,352.2 346,352 346.5,351.9 347,351.4 347.5,351.6 348,351.8 348.5,352.2 349,350.9 349.5,352.2 350,351.7 350.5,352 351,350.9 351.5,352.2 352,351.4 352.5,350.9 353,350.8 353.5,352.2 354,352.2 354.5,351.3 355,352.2 355.5,352.2 356,351.3 356.5,352.2 357.5,352.2 358,350.7 358.5,352.2 359.5,352.2 360,350.7 360.5,351.5 361,351.6 361.5,352.2 362,352.2 362.5,352.1 363,351.1 363.5,351.4 364,352.2 364.5,351.5 365,352.2 366,352.2 366.5,350.7 367,351 367.5,352.2 368,352.2 368.5,350.9 369,352.2 369.5,352 370,352.2 370.5,351.6 371,351.5 371.5,351.3 372,352.2 373,352.2 373.5,351.6 374,352.2 374.5,351.1 375,352.2 376,352.2 376.5,351 377,352.2 377.5,351.1 378,352 378.5,350.8 379,352.2 379.5,352.1 380,350.7 380.5,351.5 381,352.2 381.5,352 382,351 382.5,351.7 383,352.2 383.5,351.6 384,352 384.5,352 385,351.3 385.5,351.8 386,351.3 386.5,352.2 387,352.2 387.5,351.9 388,352.2 388.5,350.8 389,352.2 389.5,351.5 390,352.2 390.5,352.2 391,352 391.5,351.1 392,351.3 392.5,351.2 393,351.4 393.5,351 394,352.2 395.5,352.2 396,351 396.5,352.2 397.5,352.2 398,351.5 398.5,351.2 399,352.2 402,352.2 402.5,351.3 403,351.2 403.5,352.2 404,352.2 404.5,351.5 405,350.9 405.5,352.2 406,351.7 406.5,352.2 408,352.2 408.5,351.7 409,350.8 409.5,351.5 410,352.2 410.5,352.2 411,352.1 411.5,352.2 412,351.5 412.5,351.4 413,351.7 413.5,352.2 415,352.2 415.5,351.3 416,350.7 416.5,352.1 417,352.2 417.5,352 418,351.1 418.5,352.2 419,352.2 419.5,351.2 420,352.2 421,352.2 421.5,351.4 422,352.2 422.5,352.2 423,351.5 423.5,352.2 424,350.8 424.5,352.2 425,351.8 425.5,351.7 426,352.2 426.5,351.2 427,352.2 427.5,351.9 428,352.2 428.5,351.5 429,352.2 430,352.2 430.5,351.7 431,350.7 431.5,352 432,352.2 432.5,350.9 433,352.2 433.5,352.2 434,351.8 434.5,352.2 435,352.2 435.5,351.5 436,350.7 436.5,351.2 437,352.1 437.5,352.2 438,352.2 438.5,351.7 439,352.2 439.5,351.7 440,351.1 440.5,352.1 441,351.9 441.5,351.4 442,351.9 442.5,352.2 443,352.2 443.5,351.6 444,351.5 444.5,352.2 445,351.9 445.5,351.2 446,352 446.5,352.2 447,352.2 447.5,350.7 448,352.2 448.5,351.1 449,352.2 449.5,351 450,352.2 451,352.2 451.5,351.4 452,352 452.5,352.1 453,352.2 453.5,351.2 454,352 454.5,351.3 455,352.2 455.5,351.4 456,352.2 456.5,351.2 457,351.5 457.5,352.2 458,352 458.5,352.1 459,350.8 459.5,351.2 460,352.2 460.5,351.2 461,351.7 461.5,352.1 462,352.2 463.5,352.2 464,351.2 464.5,352.2 465,351.7 465.5,351.5 466,351.7 466.5,351.5 467,352.2 468,352.2 468.5,351.1 469,352.2 469.5,351 470,352.2 470.5,352.2 471,350.7 471.5,350.8 472,352.2 472.5,351.7 473,352.2 473.5,352.2 474,351.4 474.5,352.2 475,351.9 475.5,352.2 477.5,352.2 478,352 478.5,352.2 479,351.6 479.5,352.2 480,352.2 480.5,351.2 481,352 481.5,352.2 482,351.1 482.5,352.2 483,352.1 483.5,351.6 484,352.2 484.5,351.3 485,352.2 485.5,352.2 486,351.7 486.5,352.2 489,352.2 489.5,351.7 490,352.2 490.5,352 491,352.2 491.5,352.1 492,352.2 492.5,351.4 493,350.7 493.5,351.1 494,352.2 494.5,352.2 495,352.1 495.5,352 496,352.2 496.5,351.2 497,350.7 497.5,350.9 498,352.1 498.5,352.2 499,352.2 499.0,352.6Z" fill="#2a8a3c"/>
<line x1="249.50" y1="358.50" x2="499.00" y2="358.50" stroke="#e4e4e4" stroke-width="0.4" />
<path d="M249.5,358.8L249.5,357.6 250,357.7 250.5,357.7 251,356.9 251.5,355 252,356.2 252.5,357.9 253,356.9 253.5,357.2 254,358.4 255.5,358.4 256,358.2 256.5,358.4 259.5,358.4 260,357.7 260.5,358.4 261,358.2 261.5,358.4 264,358.4 264.5,358.1 265,358.3 265.5,358.4 266,357.5 266.5,357.6 267,358.4 268.5,358.4 269,358.1 269.5,358.4 270,358.4 270.5,358 271,357.8 271.5,357.5 272,358.4 272.5,358.4 273,358 273.5,358.4 274,358.2 274.5,357.6 275,358.2 275.5,358.4 276,357.7 276.5,358 277,357.5 277.5,355.8 278,356.8 278.5,358.4 279,357.3 279.5,355.3 280,356.4 280.5,358.3 281,357.6 281.5,356.2 282,357.1 282.5,358.4 283,357.7 283.5,357.5 284,358.4 284.5,358.1 285,358.4 285.5,357.9 286,358.4 286.5,358.1 287,358.4 287.5,358.4 288,357.9 288.5,358.4 289,358.2 289.5,357.5 290,358.4 290.5,357.7 291,358.4 292.5,358.4 293,358.1 293.5,358 294,358.4 294.5,358.4 295,358.2 295.5,357.9 296,358.2 296.5,358.4 297,358.1 297.5,358.4 298,358.4 298.5,357.9 299,358.4 299.5,358.4 300,357.8 300.5,358.4 302,358.4 302.5,358.3 303,358.4 304,358.4 304.5,358.2 305,358.4 305.5,357.6 306,358.1 306.5,358.4 307.5,358.4 308,358 308.5,358.4 309,358.1 309.5,358.4 312,358.4 312.5,357.7 313,357.8 313.5,358.3 314,358.4 314.5,358.4 315,358.1 315.5,358.4 316,357.6 316.5,357.7 317,358.4 317.5,358.1 318,357.5 318.5,358.4 319,357.8 319.5,358 320,358.4 320.5,358.4 321,358.1 321.5,358.2 322,358.4 323,358.4 323.5,357.5 324,358.1 324.5,358.4 325,358.4 325.5,358.3 326,357.5 326.5,358 327,358.4 327.5,358.2 328,358.4 331,358.4 331.5,358.1 332,358 332.5,358.4 333,357.6 333.5,358.4 334,358 334.5,358.4 335,357.6 335.5,357.8 336,358 336.5,358.4 337.5,358.4 338,358.1 338.5,357.9 339,358 339.5,358.4 343,358.4 343.5,358.2 344,358.4 346.5,358.4 347,358.3 347.5,358.4 349,358.4 349.5,357.9 350,358.4 350.5,358 351,358.4 351.5,358.4 352,357.7 352.5,358 353,358.4 353.5,358.4 354,358.1 354.5,358.4 355,358.4 355.5,358.2 356,358.4 357,358.4 357.5,358.1 358,358.4 358.5,357.6 359,357.6 359.5,358 360,358.4 361,358.4 361.5,358.3 362,358.4 362.5,357.7 363,357.7 363.5,358.4 364,357.9 364.5,358.2 365,358.3 365.5,358.1 366,358 366.5,358.4 368.5,358.4 369,357.8 369.5,358.4 371.5,358.4 372,358.2 372.5,358.4 373.5,358.4 374,358.2 374.5,358.4 375,357.8 375.5,358.4 376,358.2 376.5,358.1 377,358.3 377.5,358.4 379,358.4 379.5,357.9 380,358.2 380.5,358.4 381,357.8 381.5,358.4 382,358.2 382.5,358.4 384,358.4 384.5,358 385,358.4 386.5,358.4 387,357.8 387.5,358.3 388,358.4 388.5,358.1 389,358.4 389.5,357.5 390,358 390.5,358.4 391,357.9 391.5,358.4 392,358 392.5,358.1 393,358.4 393.5,358.4 394,357.8 394.5,358.4 395,357.5 395.5,358.4 396.5,358.4 397,358.2 397.5,358.4 400,358.4 400.5,357.5 401,357.8 401.5,358.2 402,358.4 402.5,357.5 403,358.4 403.5,358.3 404,358.4 405,358.4 405.5,357.6 406,358.4 406.5,358.3 407,358.4 407.5,358.1 408,358.4 408.5,357.6 409,358 409.5,358.4 410,358.4 410.5,358.3 411,357.6 411.5,358.4 412,358.4 412.5,358.1 413,358.4 413.5,358.4 414,358.3 414.5,358.4 415,358.1 415.5,357.7 416,358.4 417,358.4 417.5,358 418,358.2 418.5,358.4 419,358.4 419.5,357.6 420,357.5 420.5,358.4 422,358.4 422.5,357.5 423,358.4 424,358.4 424.5,357.7 425,357.7 425.5,357.8 426,357.5 426.5,358.3 427,357.7 427.5,357.5 428,358.4 428.5,357.9 429,357.6 429.5,358.4 430.5,358.4 431,358 431.5,358.4 433,358.4 433.5,357.7 434,358.4 435,358.4 435.5,358.1 436,358.4 436.5,358.4 437,357.8 437.5,358.4 439,358.4 439.5,357.7 440,358.4 440.5,357.7 441,358.1 441.5,357.9 442,357.8 442.5,358.4 444,358.4 444.5,357.7 445,358.4 445.5,358 446,358.4 446.5,358.4 447,358 447.5,358.1 448,358.4 449,358.4 449.5,357.5 450,358.2 450.5,357.5 451,358 451.5,358.3 452,358.4 453,358.4 453.5,358.2 454,358.4 454.5,358.4 455,358 455.5,358.4 456.5,358.4 457,357.9 457.5,357.6 458,358.2 458.5,357.8 459,358.4 460.5,358.4 461,357.8 461.5,358.3 462,357.7 462.5,358.4 463,358.3 463.5,358.4 464,358.4 464.5,357.6 465,358 465.5,357.7 466,358.4 467,358.4 467.5,358.2 468,358.4 468.5,357.8 469,358.4 469.5,358.3 470,358.4 472,358.4 472.5,358.2 473,357.8 473.5,357.8 474,358.1 474.5,358.4 477,358.4 477.5,358 478,358.4 479.5,358.4 480,358.3 480.5,358 481,358.4 482,358.4 482.5,357.7 483,358 484,358 484.5,357.9 485,358.4 487,358.4 487.5,358.1 488,358.4 488.5,358.4 489,357.5 490,357.5 490.5,357.6 491,358.4 491.5,357.6 492,358.4 492.5,357.9 493,358.4 494.5,358.4 495,357.8 495.5,358.4 496,358.4 496.5,357.7 497,358.3 497.5,358.4 498,357.7 498.5,358.4 499,357.9 499.0,358.8Z" fill="#6cc078"/>
<line x1="249.50" y1="364.60" x2="499.00" y2="364.60" stroke="#e4e4e4" stroke-width="0.4" />
<path d="M249.5,364.9L249.5,364.9 251,364.9 251.5,363.5 252,363.2 252.5,364.6 253,364.9 254,364.9 254.5,363.6 255,364.9 255.5,364.9 256,364.1 256.5,364.9 257.5,364.9 258,364.1 258.5,363.7 259,364.9 260,364.9 260.5,364.3 261,363.9 261.5,364.9 262.5,364.9 263,364.7 263.5,364.3 264,364.9 266,364.9 266.5,364.3 267,364.4 267.5,364.9 272.5,364.9 273,364.2 273.5,364.9 274,364.9 274.5,364.1 275,364.9 276,364.9 276.5,364 277,364.9 278,364.9 278.5,363.7 279,364.2 279.5,362.9 280,364.2 280.5,364.9 281,364 281.5,364.9 282,363.8 282.5,364.9 284,364.9 284.5,363.6 285,364.9 285.5,363.7 286,364.3 286.5,364.5 287,364.9 287.5,364.9 288,364.4 288.5,364.9 289,363.7 289.5,364.6 290,364.9 290.5,364.9 291,364.7 291.5,364.9 292,364.7 292.5,364.9 293,364.9 293.5,364.4 294,364.9 294.5,363.8 295,364.9 300.5,364.9 301,364.6 301.5,364.9 302,364.9 302.5,364.5 303,364.9 303.5,364.5 304,364.9 305.5,364.9 306,364.1 306.5,363.7 307,364.9 307.5,364.9 308,364.5 308.5,364.9 309,364.9 309.5,363.9 310,364.9 310.5,364.9 311,364.5 311.5,364.5 312,364.9 312.5,364 313,364.9 313.5,364.9 314,364.1 314.5,364.9 319,364.9 319.5,363.9 320,363.9 320.5,364.9 321.5,364.9 322,364.2 322.5,363.9 323,364.9 323.5,364.6 324,364.9 324.5,364.6 325,364.9 325.5,364.1 326,364.1 326.5,364.9 327.5,364.9 328,364.1 328.5,364.9 329,364.9 329.5,364.5 330,364.4 330.5,364.9 331,364.2 331.5,364.9 332,364.7 332.5,364.9 333,364.1 333.5,364.9 334,363.7 334.5,364.2 335,363.7 335.5,364.7 336,364.6 336.5,364.2 337,364.9 337.5,363.8 338,364.9 338.5,364.9 339,364.8 339.5,363.9 340,363.6 340.5,364.9 342,364.9 342.5,364.6 343,364.9 344,364.9 344.5,364.3 345,364.5 345.5,364.3 346,363.8 346.5,364.9 347,364 347.5,364.5 348,364.4 348.5,364.9 349,364.9 349.5,364.8 350,364.9 355.5,364.9 356,364.5 356.5,364.9 357,364.9 357.5,364.7 358,364.8 358.5,364.9 359.5,364.9 360,364.8 360.5,364.9 364.5,364.9 365,364.1 365.5,364.9 368,364.9 368.5,364.5 369,364.4 369.5,364.9 370,364.9 370.5,363.7 371,364.6 371.5,364.9 372,364.3 372.5,364.9 373,364.7 373.5,364.9 374,364.9 374.5,364.2 375,364.9 375.5,364.4 376,364.9 376.5,364.2 377,364.5 377.5,364.9 379.5,364.9 380,363.8 380.5,363.7 381,364.9 381.5,364.1 382,364 382.5,364.9 383,364.9 383.5,364.4 384,364.6 384.5,364.8 385,364.9 386,364.9 386.5,363.8 387,364.2 387.5,364.9 388.5,364.9 389,364.8 389.5,364.9 390.5,364.9 391,364.8 391.5,364.9 392,364.9 392.5,363.7 393,364.8 393.5,364.6 394,364.9 394.5,363.9 395,363.9 395.5,364.9 396,364.9 396.5,364.5 397,363.9 397.5,363.6 398,364.9 399.5,364.9 400,364.5 400.5,364.5 401,364.9 401.5,364.7 402,364.9 402.5,364.4 403,363.8 403.5,363.7 404,364.9 404.5,364.9 405,364.4 405.5,364.7 406,364.9 406.5,364 407,364.9 407.5,364.9 408,364.8 408.5,364.9 411,364.9 411.5,364 412,363.9 412.5,364.1 413,364.9 416,364.9 416.5,364.8 417,364.9 417.5,364.5 418,364.6 418.5,364.9 419.5,364.9 420,364 420.5,364.5 421,364.9 423.5,364.9 424,364.7 424.5,364.9 425,364.9 425.5,364.4 426,364.3 426.5,364.3 427,363.9 427.5,364.9 428,364.9 428.5,364.2 429,364.9 430.5,364.9 431,364.2 431.5,364.9 432,364.7 432.5,364.9 433.5,364.9 434,364.3 434.5,364.5 435,364 435.5,364.9 436,364.7 436.5,364.4 437,363.8 437.5,364.9 440.5,364.9 441,364.6 441.5,364.9 445,364.9 445.5,363.9 446,364.9 447.5,364.9 448,364.1 448.5,364.9 449,364.7 449.5,364.1 450,364.9 450.5,364.9 451,364 451.5,364.9 452,364.9 452.5,363.7 453,364.9 454,364.9 454.5,364.7 455,364.9 457,364.9 457.5,364.7 458,364.7 458.5,364.9 459,364.2 459.5,364.9 460,364.2 460.5,364.6 461,364.9 463,364.9 463.5,364 464,364.9 464.5,364.9 465,363.8 465.5,364.9 467.5,364.9 468,364.2 468.5,364.9 469,364.9 469.5,363.9 470,364.9 470.5,364.1 471,363.7 471.5,364.9 472,364.6 472.5,363.9 473,364.7 473.5,364.9 474,363.8 474.5,364.4 475,364.9 476.5,364.9 477,364.8 477.5,364.9 479.5,364.9 480,364.3 480.5,364.9 481,363.8 481.5,364.9 484,364.9 484.5,363.9 485,364.9 485.5,363.8 486,364.9 486.5,364.3 487,364.5 487.5,363.7 488,364.9 491.5,364.9 492,364.8 492.5,364 493,364.4 493.5,364.9 494.5,364.9 495,364.6 495.5,364.3 496,364.9 496.5,364.3 497,364.9 497.5,364.9 498,364 498.5,364.9 499,364.9 499.0,364.9Z" fill="#3a443a"/>
<line x1="249.50" y1="370.60" x2="499.00" y2="370.60" stroke="#e4e4e4" stroke-width="0.4" />
<path d="M249.5,370.9L249.5,370.9 255,370.9 255.5,370.5 256,370.9 256.5,370.9 257,370.8 257.5,370.9 262,370.9 262.5,370.8 263,370.7 263.5,370.9 264,370.9 264.5,370.6 265,370.9 265.5,370.8 266,370.9 269,370.9 269.5,370.8 270,370.9 272.5,370.9 273,370.7 273.5,370.9 275.5,370.9 276,370.6 276.5,370.9 277,370.9 277.5,370.7 278,370.8 278.5,370.9 282,370.9 282.5,370.5 283,370.9 283.5,370.7 284,370.9 284.5,370.9 285,370.5 285.5,370.9 286,370.5 286.5,370.9 288,370.9 288.5,370.8 289,370.9 290.5,370.9 291,370.5 291.5,370.9 292,370.7 292.5,370.6 293,370.9 296.5,370.9 297,370.5 297.5,370.9 299,370.9 299.5,370.6 300,370.9 301,370.9 301.5,370.5 302,370.9 304.5,370.9 305,370.6 305.5,370.8 306,370.9 306.5,370.9 307,370.6 307.5,370.5 308,370.9 313.5,370.9 314,370.4 314.5,370.9 315.5,370.9 316,370.8 316.5,370.9 317,370.7 317.5,370.5 318,370.6 318.5,370.9 320,370.9 320.5,370.7 321,370.6 321.5,370.9 325,370.9 325.5,370.4 326,370.9 326.5,370.7 327,370.9 340,370.9 340.5,370.5 341,370.9 341.5,370.9 342,370.4 342.5,370.9 343,370.9 343.5,370.6 344,370.9 344.5,370.7 345,370.9 345.5,370.7 346,370.9 352.5,370.9 353,370.5 353.5,370.8 354,370.9 358,370.9 358.5,370.8 359,370.9 359.5,370.7 360,370.9 361,370.9 361.5,370.6 362,370.9 362.5,370.8 363,370.9 371,370.9 371.5,370.6 372,370.9 376,370.9 376.5,370.4 377,370.9 378,370.9 378.5,370.5 379,370.9 381.5,370.9 382,370.4 382.5,370.9 386,370.9 386.5,370.8 387,370.9 387.5,370.7 388,370.9 388.5,370.7 389,370.9 389.5,370.7 390,370.9 390.5,370.9 391,370.8 391.5,370.9 410.5,370.9 411,370.5 411.5,370.9 412,370.9 412.5,370.5 413,370.9 414.5,370.9 415,370.5 415.5,370.9 416,370.9 416.5,370.5 417,370.9 422,370.9 422.5,370.5 423,370.9 428.5,370.9 429,370.7 429.5,370.9 430,370.5 430.5,370.9 432,370.9 432.5,370.5 433,370.9 433.5,370.8 434,370.9 435.5,370.9 436,370.7 436.5,370.9 437,370.5 437.5,370.9 451.5,370.9 452,370.6 452.5,370.9 453,370.6 453.5,370.5 454,370.9 459.5,370.9 460,370.6 460.5,370.7 461,370.9 462,370.9 462.5,370.8 463,370.9 463.5,370.7 464,370.9 464.5,370.4 465,370.9 466.5,370.9 467,370.5 467.5,370.9 468,370.8 468.5,370.9 471.5,370.9 472,370.8 472.5,370.9 473,370.7 473.5,370.9 475.5,370.9 476,370.7 476.5,370.9 480,370.9 480.5,370.8 481,370.9 483.5,370.9 484,370.8 484.5,370.9 496,370.9 496.5,370.7 497,370.9 498,370.9 498.5,370.8 499,370.9 499.0,370.9Z" fill="#2a3a2a"/>
<rect x="236" y="371.0" width="263" height="1.8" fill="#222"/>
<text x="248.20" y="331.00" font-size="8.2" text-anchor="end" fill="#222" textLength="9.74" lengthAdjust="spacingAndGlyphs">EV</text>
<text x="248.20" y="343.40" font-size="8.2" text-anchor="end" fill="#222" textLength="8.93" lengthAdjust="spacingAndGlyphs">4A</text>
<text x="248.20" y="354.80" font-size="8.2" text-anchor="end" fill="#222" textLength="11.35" lengthAdjust="spacingAndGlyphs">WT</text>
<text x="248.20" y="367.10" font-size="8.2" text-anchor="end" fill="#222" textLength="9.33" lengthAdjust="spacingAndGlyphs">4D</text>
<text x="230.80" y="347.00" font-size="9.9" text-anchor="middle" fill="#222" textLength="34.4" lengthAdjust="spacingAndGlyphs" transform="rotate(-90 230.80 347.00)">CUT&amp;RUN</text>
<line x1="249.50" y1="376.40" x2="499.00" y2="376.40" stroke="#e2e2e2" stroke-width="0.4" />
<rect x="360.45" y="374.57" width="0.80" height="1.83" fill="#3a3a3a" />
<rect x="367.95" y="374.52" width="0.80" height="1.88" fill="#3a3a3a" />
<rect x="369.25" y="373.50" width="0.80" height="2.90" fill="#3a3a3a" />
<rect x="371.95" y="373.23" width="0.80" height="3.17" fill="#3a3a3a" />
<rect x="384.45" y="373.67" width="0.80" height="2.73" fill="#3a3a3a" />
<rect x="393.85" y="374.25" width="0.80" height="2.15" fill="#3a3a3a" />
<rect x="400.85" y="374.89" width="0.80" height="1.51" fill="#3a3a3a" />
<rect x="441.35" y="373.22" width="0.80" height="3.18" fill="#3a3a3a" />
<rect x="449.15" y="374.72" width="0.80" height="1.68" fill="#3a3a3a" />
<rect x="451.45" y="374.58" width="0.80" height="1.82" fill="#3a3a3a" />
<rect x="453.45" y="374.42" width="0.80" height="1.98" fill="#3a3a3a" />
<rect x="458.65" y="374.23" width="0.80" height="2.17" fill="#3a3a3a" />
<rect x="464.65" y="373.24" width="0.80" height="3.16" fill="#3a3a3a" />
<rect x="466.45" y="374.32" width="0.80" height="2.08" fill="#3a3a3a" />
<rect x="467.95" y="373.66" width="0.80" height="2.74" fill="#3a3a3a" />
<rect x="480.85" y="373.67" width="0.80" height="2.73" fill="#3a3a3a" />
<path d="M483.0,376.4L483,376.4 483.5,376.4 484,376.3 484.5,375.9 485,375.3 485.5,374.3 486,373.3 486.5,372.9 487,373.2 487.5,374 488,374.5 488.5,374.3 489,373.7 489.5,373.4 490,373.8 490.5,374.7 491,375.6 491.5,376.1 492,376.3 492.5,376.4 493,376.4 493.0,376.4Z" fill="#3a3a3a"/>
<line x1="249.50" y1="382.20" x2="499.00" y2="382.20" stroke="#e2e2e2" stroke-width="0.4" />
<rect x="360.45" y="379.21" width="0.80" height="2.99" fill="#3a3a3a" />
<rect x="367.95" y="379.70" width="0.80" height="2.50" fill="#3a3a3a" />
<rect x="369.25" y="380.48" width="0.80" height="1.72" fill="#3a3a3a" />
<rect x="371.95" y="379.60" width="0.80" height="2.60" fill="#3a3a3a" />
<rect x="384.45" y="380.22" width="0.80" height="1.98" fill="#3a3a3a" />
<rect x="393.85" y="379.63" width="0.80" height="2.57" fill="#3a3a3a" />
<rect x="400.85" y="378.71" width="0.80" height="3.49" fill="#3a3a3a" />
<rect x="441.35" y="379.62" width="0.80" height="2.58" fill="#3a3a3a" />
<rect x="449.15" y="380.62" width="0.80" height="1.58" fill="#3a3a3a" />
<rect x="451.45" y="380.35" width="0.80" height="1.85" fill="#3a3a3a" />
<rect x="453.45" y="378.90" width="0.80" height="3.30" fill="#3a3a3a" />
<rect x="458.65" y="380.39" width="0.80" height="1.81" fill="#3a3a3a" />
<rect x="464.65" y="379.94" width="0.80" height="2.26" fill="#3a3a3a" />
<rect x="466.45" y="380.61" width="0.80" height="1.59" fill="#3a3a3a" />
<rect x="467.95" y="380.05" width="0.80" height="2.15" fill="#3a3a3a" />
<rect x="480.85" y="379.98" width="0.80" height="2.22" fill="#3a3a3a" />
<path d="M483.0,382.2L483,382.2 483.5,382.2 484,382.1 484.5,381.7 485,381.1 485.5,380.1 486,379.1 486.5,378.7 487,379 487.5,379.8 488,380.3 488.5,380.1 489,379.5 489.5,379.2 490,379.6 490.5,380.5 491,381.4 491.5,381.9 492,382.1 492.5,382.2 493,382.2 493.0,382.2Z" fill="#3a3a3a"/>
<line x1="249.50" y1="388.70" x2="499.00" y2="388.70" stroke="#e2e2e2" stroke-width="0.4" />
<rect x="360.45" y="387.34" width="0.80" height="1.36" fill="#3aa048" />
<rect x="367.95" y="387.31" width="0.80" height="1.39" fill="#3aa048" />
<rect x="369.25" y="387.90" width="0.80" height="0.80" fill="#3aa048" />
<rect x="371.95" y="387.22" width="0.80" height="1.48" fill="#3aa048" />
<rect x="384.45" y="387.28" width="0.80" height="1.42" fill="#3aa048" />
<rect x="393.85" y="387.28" width="0.80" height="1.42" fill="#3aa048" />
<rect x="400.85" y="387.39" width="0.80" height="1.31" fill="#3aa048" />
<rect x="441.35" y="387.15" width="0.80" height="1.55" fill="#3aa048" />
<rect x="449.15" y="387.29" width="0.80" height="1.41" fill="#3aa048" />
<rect x="451.45" y="387.21" width="0.80" height="1.49" fill="#3aa048" />
<rect x="453.45" y="387.65" width="0.80" height="1.05" fill="#3aa048" />
<rect x="458.65" y="387.95" width="0.80" height="0.75" fill="#3aa048" />
<rect x="464.65" y="387.13" width="0.80" height="1.57" fill="#3aa048" />
<rect x="466.45" y="387.36" width="0.80" height="1.34" fill="#3aa048" />
<rect x="467.95" y="387.15" width="0.80" height="1.55" fill="#3aa048" />
<rect x="480.85" y="387.28" width="0.80" height="1.42" fill="#3aa048" />
<path d="M483.0,388.7L483,388.7 483.5,388.7 484,388.6 484.5,388.4 485,388.1 485.5,387.5 486,386.9 486.5,386.7 487,386.9 487.5,387.3 488,387.6 488.5,387.6 489,387.2 489.5,387.1 490,387.3 490.5,387.8 491,388.3 491.5,388.5 492,388.7 493,388.7 493.0,388.7Z" fill="#3aa048"/>
<line x1="249.50" y1="395.00" x2="499.00" y2="395.00" stroke="#e2e2e2" stroke-width="0.4" />
<rect x="360.45" y="394.28" width="0.80" height="0.72" fill="#4cae58" />
<rect x="367.95" y="394.19" width="0.80" height="0.81" fill="#4cae58" />
<rect x="369.25" y="393.45" width="0.80" height="1.55" fill="#4cae58" />
<rect x="371.95" y="394.10" width="0.80" height="0.90" fill="#4cae58" />
<rect x="384.45" y="394.26" width="0.80" height="0.74" fill="#4cae58" />
<rect x="393.85" y="394.23" width="0.80" height="0.77" fill="#4cae58" />
<rect x="400.85" y="393.85" width="0.80" height="1.15" fill="#4cae58" />
<rect x="441.35" y="393.97" width="0.80" height="1.03" fill="#4cae58" />
<rect x="449.15" y="393.67" width="0.80" height="1.33" fill="#4cae58" />
<rect x="451.45" y="394.02" width="0.80" height="0.98" fill="#4cae58" />
<rect x="453.45" y="394.18" width="0.80" height="0.82" fill="#4cae58" />
<rect x="458.65" y="393.63" width="0.80" height="1.37" fill="#4cae58" />
<rect x="464.65" y="394.19" width="0.80" height="0.81" fill="#4cae58" />
<rect x="466.45" y="393.81" width="0.80" height="1.19" fill="#4cae58" />
<rect x="467.95" y="393.62" width="0.80" height="1.38" fill="#4cae58" />
<rect x="480.85" y="394.11" width="0.80" height="0.89" fill="#4cae58" />
<path d="M483.0,395.0L483,395 483.5,395 484,394.9 484.5,394.7 485,394.4 485.5,393.8 486,393.2 486.5,393 487,393.2 487.5,393.6 488,393.9 488.5,393.9 489,393.5 489.5,393.4 490,393.6 490.5,394.1 491,394.6 491.5,394.8 492,395 493,395 493.0,395.0Z" fill="#4cae58"/>
<line x1="249.50" y1="401.50" x2="499.00" y2="401.50" stroke="#e2e2e2" stroke-width="0.4" />
<rect x="360.45" y="400.07" width="0.80" height="1.43" fill="#3aa048" />
<rect x="367.95" y="400.49" width="0.80" height="1.01" fill="#3aa048" />
<rect x="369.25" y="400.16" width="0.80" height="1.34" fill="#3aa048" />
<rect x="371.95" y="400.55" width="0.80" height="0.95" fill="#3aa048" />
<rect x="384.45" y="400.48" width="0.80" height="1.02" fill="#3aa048" />
<rect x="393.85" y="400.03" width="0.80" height="1.47" fill="#3aa048" />
<rect x="400.85" y="400.53" width="0.80" height="0.97" fill="#3aa048" />
<rect x="441.35" y="400.02" width="0.80" height="1.48" fill="#3aa048" />
<rect x="449.15" y="400.67" width="0.80" height="0.83" fill="#3aa048" />
<rect x="451.45" y="400.50" width="0.80" height="1.00" fill="#3aa048" />
<rect x="453.45" y="400.75" width="0.80" height="0.75" fill="#3aa048" />
<rect x="458.65" y="400.65" width="0.80" height="0.85" fill="#3aa048" />
<rect x="464.65" y="400.23" width="0.80" height="1.27" fill="#3aa048" />
<rect x="466.45" y="400.25" width="0.80" height="1.25" fill="#3aa048" />
<rect x="467.95" y="400.50" width="0.80" height="1.00" fill="#3aa048" />
<rect x="480.85" y="400.64" width="0.80" height="0.86" fill="#3aa048" />
<path d="M483.0,401.5L483,401.5 483.5,401.5 484,401.4 484.5,401.2 485,400.9 485.5,400.3 486,399.7 486.5,399.5 487,399.7 487.5,400.1 488,400.4 488.5,400.4 489,400 489.5,399.9 490,400.1 490.5,400.6 491,401.1 491.5,401.3 492,401.5 493,401.5 493.0,401.5Z" fill="#3aa048"/>
<line x1="249.50" y1="407.70" x2="499.00" y2="407.70" stroke="#e2e2e2" stroke-width="0.4" />
<rect x="360.45" y="406.32" width="0.80" height="1.38" fill="#4cae58" />
<rect x="367.95" y="407.02" width="0.80" height="0.68" fill="#4cae58" />
<rect x="369.25" y="406.75" width="0.80" height="0.95" fill="#4cae58" />
<rect x="371.95" y="406.64" width="0.80" height="1.06" fill="#4cae58" />
<rect x="384.45" y="406.75" width="0.80" height="0.95" fill="#4cae58" />
<rect x="393.85" y="406.15" width="0.80" height="1.55" fill="#4cae58" />
<rect x="400.85" y="406.38" width="0.80" height="1.32" fill="#4cae58" />
<rect x="441.35" y="406.32" width="0.80" height="1.38" fill="#4cae58" />
<rect x="449.15" y="406.27" width="0.80" height="1.43" fill="#4cae58" />
<rect x="451.45" y="406.66" width="0.80" height="1.04" fill="#4cae58" />
<rect x="453.45" y="406.93" width="0.80" height="0.77" fill="#4cae58" />
<rect x="458.65" y="406.22" width="0.80" height="1.48" fill="#4cae58" />
<rect x="464.65" y="406.61" width="0.80" height="1.09" fill="#4cae58" />
<rect x="466.45" y="406.75" width="0.80" height="0.95" fill="#4cae58" />
<rect x="467.95" y="406.86" width="0.80" height="0.84" fill="#4cae58" />
<rect x="480.85" y="406.22" width="0.80" height="1.48" fill="#4cae58" />
<path d="M483.0,407.7L483,407.7 483.5,407.7 484,407.6 484.5,407.4 485,407.1 485.5,406.5 486,405.9 486.5,405.7 487,405.9 487.5,406.3 488,406.6 488.5,406.6 489,406.2 489.5,406.1 490,406.3 490.5,406.8 491,407.3 491.5,407.5 492,407.7 493,407.7 493.0,407.7Z" fill="#4cae58"/>
<line x1="249.50" y1="414.20" x2="499.00" y2="414.20" stroke="#e2e2e2" stroke-width="0.4" />
<rect x="360.45" y="412.96" width="0.80" height="1.24" fill="#3aa048" />
<rect x="367.95" y="412.73" width="0.80" height="1.47" fill="#3aa048" />
<rect x="369.25" y="413.29" width="0.80" height="0.91" fill="#3aa048" />
<rect x="371.95" y="412.92" width="0.80" height="1.28" fill="#3aa048" />
<rect x="384.45" y="413.07" width="0.80" height="1.13" fill="#3aa048" />
<rect x="393.85" y="413.03" width="0.80" height="1.17" fill="#3aa048" />
<rect x="400.85" y="413.41" width="0.80" height="0.79" fill="#3aa048" />
<rect x="441.35" y="413.03" width="0.80" height="1.17" fill="#3aa048" />
<rect x="449.15" y="413.15" width="0.80" height="1.05" fill="#3aa048" />
<rect x="451.45" y="413.28" width="0.80" height="0.92" fill="#3aa048" />
<rect x="453.45" y="413.19" width="0.80" height="1.01" fill="#3aa048" />
<rect x="458.65" y="413.23" width="0.80" height="0.97" fill="#3aa048" />
<rect x="464.65" y="413.39" width="0.80" height="0.81" fill="#3aa048" />
<rect x="466.45" y="412.71" width="0.80" height="1.49" fill="#3aa048" />
<rect x="467.95" y="413.49" width="0.80" height="0.71" fill="#3aa048" />
<rect x="480.85" y="413.29" width="0.80" height="0.91" fill="#3aa048" />
<path d="M483.0,414.2L483,414.2 483.5,414.2 484,414.1 484.5,413.9 485,413.6 485.5,413 486,412.4 486.5,412.2 487,412.4 487.5,412.8 488,413.1 488.5,413.1 489,412.7 489.5,412.6 490,412.8 490.5,413.3 491,413.8 491.5,414 492,414.2 493,414.2 493.0,414.2Z" fill="#3aa048"/>
<line x1="249.50" y1="420.50" x2="499.00" y2="420.50" stroke="#e2e2e2" stroke-width="0.4" />
<rect x="360.45" y="419.81" width="0.80" height="0.69" fill="#2f8a40" />
<rect x="367.95" y="419.26" width="0.80" height="1.24" fill="#2f8a40" />
<rect x="369.25" y="419.52" width="0.80" height="0.98" fill="#2f8a40" />
<rect x="371.95" y="419.15" width="0.80" height="1.35" fill="#2f8a40" />
<rect x="384.45" y="419.41" width="0.80" height="1.09" fill="#2f8a40" />
<rect x="393.85" y="419.82" width="0.80" height="0.68" fill="#2f8a40" />
<rect x="400.85" y="419.03" width="0.80" height="1.47" fill="#2f8a40" />
<rect x="441.35" y="419.35" width="0.80" height="1.15" fill="#2f8a40" />
<rect x="449.15" y="419.07" width="0.80" height="1.43" fill="#2f8a40" />
<rect x="451.45" y="419.00" width="0.80" height="1.50" fill="#2f8a40" />
<rect x="453.45" y="419.72" width="0.80" height="0.78" fill="#2f8a40" />
<rect x="458.65" y="419.40" width="0.80" height="1.10" fill="#2f8a40" />
<rect x="464.65" y="419.25" width="0.80" height="1.25" fill="#2f8a40" />
<rect x="466.45" y="419.57" width="0.80" height="0.93" fill="#2f8a40" />
<rect x="467.95" y="419.44" width="0.80" height="1.06" fill="#2f8a40" />
<rect x="480.85" y="419.05" width="0.80" height="1.45" fill="#2f8a40" />
<path d="M483.0,420.5L483,420.5 483.5,420.5 484,420.4 484.5,420.2 485,419.9 485.5,419.3 486,418.7 486.5,418.5 487,418.7 487.5,419.1 488,419.4 488.5,419.4 489,419 489.5,418.9 490,419.1 490.5,419.6 491,420.1 491.5,420.3 492,420.5 493,420.5 493.0,420.5Z" fill="#2f8a40"/>
<rect x="236" y="422.0" width="263" height="1.8" fill="#333"/>
<text x="248.40" y="380.60" font-size="8.2" text-anchor="end" fill="#222" textLength="9.74" lengthAdjust="spacingAndGlyphs">EV</text>
<text x="248.40" y="393.00" font-size="8.2" text-anchor="end" fill="#222" textLength="8.93" lengthAdjust="spacingAndGlyphs">4A</text>
<text x="248.40" y="405.10" font-size="8.2" text-anchor="end" fill="#222" textLength="11.35" lengthAdjust="spacingAndGlyphs">WT</text>
<text x="248.40" y="418.10" font-size="8.2" text-anchor="end" fill="#222" textLength="9.33" lengthAdjust="spacingAndGlyphs">4D</text>
<text x="230.40" y="397.00" font-size="9.9" text-anchor="middle" fill="#222" textLength="30" lengthAdjust="spacingAndGlyphs" transform="rotate(-90 230.40 397.00)">RNA-seq</text>
<text x="249.00" y="431.40" font-size="7.9" text-anchor="end" fill="#222" textLength="18.5" lengthAdjust="spacingAndGlyphs">Gene</text>
<line x1="236.00" y1="425.20" x2="499.00" y2="425.20" stroke="#c8c8c8" stroke-width="0.5" />
<line x1="251.00" y1="428.10" x2="499.00" y2="428.10" stroke="#a8a8b8" stroke-width="0.6" />
<rect x="360.30" y="426.80" width="1.10" height="2.60" fill="#6a6a80" />
<rect x="367.80" y="426.80" width="1.10" height="2.60" fill="#6a6a80" />
<rect x="369.10" y="426.80" width="1.10" height="2.60" fill="#6a6a80" />
<rect x="371.80" y="426.80" width="1.10" height="2.60" fill="#6a6a80" />
<rect x="384.30" y="426.80" width="1.10" height="2.60" fill="#6a6a80" />
<rect x="393.70" y="426.80" width="1.10" height="2.60" fill="#6a6a80" />
<rect x="400.70" y="426.80" width="1.10" height="2.60" fill="#6a6a80" />
<rect x="441.20" y="426.80" width="1.10" height="2.60" fill="#6a6a80" />
<rect x="449.00" y="426.80" width="1.10" height="2.60" fill="#6a6a80" />
<rect x="451.30" y="426.80" width="1.10" height="2.60" fill="#6a6a80" />
<rect x="453.30" y="426.80" width="1.10" height="2.60" fill="#6a6a80" />
<rect x="458.50" y="426.80" width="1.10" height="2.60" fill="#6a6a80" />
<rect x="464.50" y="426.80" width="1.10" height="2.60" fill="#6a6a80" />
<rect x="466.30" y="426.80" width="1.10" height="2.60" fill="#6a6a80" />
<rect x="467.80" y="426.80" width="1.10" height="2.60" fill="#6a6a80" />
<rect x="480.70" y="426.80" width="1.10" height="2.60" fill="#6a6a80" />
<rect x="485.00" y="427.30" width="6.30" height="1.70" fill="#22226e" />
<text x="367.40" y="441.00" font-size="8.2" text-anchor="middle" fill="#222" textLength="12.5" lengthAdjust="spacingAndGlyphs">KIT</text>
<text x="0" y="0" font-size="12.6" font-weight="bold" fill="#000" style="stroke:#000;stroke-width:0.3" transform="translate(6.93 466.70) scale(0.910 1)">F</text>
<path stroke="#c3d0dc" stroke-opacity="0.9" stroke-width="1.8" stroke-linecap="square" d="M171.0 529.8h0M132.4 554.3h0M160.9 526.0h0M162.1 555.4h0M132.9 545.6h0M175.7 542.9h0M143.2 546.8h0M156.4 551.4h0M152.2 541.3h0M192.7 542.5h0M176.1 553.2h0M173.4 541.3h0M138.9 545.0h0M174.5 546.1h0M177.6 527.3h0M192.3 525.5h0M120.8 542.2h0M135.4 535.3h0M154.1 541.6h0M163.7 549.4h0M154.7 551.2h0M203.8 545.9h0M152.7 561.9h0M115.8 554.4h0M172.0 535.1h0M159.3 550.1h0M198.1 552.0h0M131.1 540.2h0M127.7 542.6h0M176.3 543.4h0M162.4 543.1h0M135.6 577.1h0M122.1 545.6h0M111.6 551.8h0M157.4 530.1h0M118.4 551.1h0M157.9 538.3h0M118.0 526.8h0M132.0 534.0h0M147.3 540.1h0M193.7 534.6h0M155.5 554.1h0M136.0 559.4h0M202.5 557.2h0M88.2 530.6h0M184.1 546.0h0M173.1 551.3h0M137.9 539.6h0M162.1 548.2h0M192.7 534.3h0M155.7 555.9h0M155.7 547.1h0M150.4 535.9h0M137.9 542.0h0M172.1 539.3h0M209.6 558.9h0M150.6 556.2h0M150.5 518.3h0M111.2 549.2h0M168.5 542.2h0M175.0 558.8h0M176.5 552.6h0M121.7 539.8h0M164.0 550.9h0M131.6 547.2h0M151.8 545.9h0M126.7 569.3h0M184.9 540.6h0M120.9 561.9h0M134.6 549.3h0M98.6 532.6h0M162.6 546.9h0M160.7 541.3h0M178.5 541.2h0M183.5 526.6h0M144.1 549.2h0M129.7 547.7h0M133.7 545.0h0M159.5 538.3h0M122.9 534.6h0M144.0 545.8h0M138.9 565.5h0M158.2 562.1h0M179.5 542.4h0M190.9 535.5h0M169.4 528.9h0M150.7 528.5h0M148.5 541.8h0M134.8 539.5h0M168.5 548.6h0M119.6 546.3h0M162.3 545.3h0M127.2 553.0h0M145.0 571.6h0M137.0 530.3h0M119.5 548.2h0M194.0 534.8h0M174.8 544.6h0M118.4 516.4h0M159.2 541.4h0M192.8 533.8h0M153.1 555.6h0M147.8 546.0h0M134.7 554.1h0M126.5 546.8h0M136.7 540.9h0M177.0 539.7h0M152.1 528.2h0M168.0 558.7h0M133.6 543.3h0M129.5 537.7h0M107.6 566.3h0M176.2 537.1h0M111.4 545.7h0M185.2 554.1h0M121.7 558.4h0M126.8 563.5h0M139.4 559.9h0M153.1 521.3h0M125.2 536.4h0M180.8 566.6h0M154.2 544.3h0M143.0 536.6h0M140.4 541.3h0M141.7 546.3h0M131.8 522.0h0M150.1 556.0h0M200.4 525.6h0M146.5 551.4h0M133.0 532.6h0M143.2 552.1h0M172.6 546.0h0M150.1 524.5h0M173.1 530.4h0M161.9 530.6h0M147.2 534.7h0M177.7 547.2h0M119.2 540.5h0M148.4 538.3h0M136.4 539.7h0M175.6 518.8h0M196.3 538.0h0M187.5 549.0h0M180.9 541.4h0M184.8 539.2h0M145.7 552.0h0M183.0 542.1h0M169.4 538.5h0M100.2 540.8h0M142.1 540.8h0M163.5 562.3h0M143.5 545.4h0M161.2 534.2h0M134.4 547.7h0M167.1 562.4h0M198.0 551.7h0M184.5 541.2h0M198.7 531.2h0M150.6 561.9h0M154.7 540.9h0M165.1 556.6h0M130.7 553.5h0M158.5 553.0h0M148.5 535.0h0M140.9 531.1h0M158.9 546.5h0M178.9 537.9h0M144.3 550.8h0M150.3 540.9h0M180.1 540.1h0M135.9 558.9h0M157.8 540.0h0M179.8 548.3h0M119.0 537.5h0M147.1 557.1h0M193.0 533.1h0M153.0 541.4h0M132.8 535.2h0M140.6 549.6h0M144.0 556.5h0M177.2 525.9h0M170.5 564.5h0M143.8 551.3h0M160.8 565.9h0M97.5 551.9h0M176.0 545.0h0M206.7 550.2h0M152.4 545.8h0M130.6 534.1h0M118.3 557.0h0M142.4 549.8h0M179.7 548.3h0M164.0 548.5h0M183.5 542.9h0M158.0 560.8h0M169.1 550.1h0M173.7 538.0h0M165.1 532.1h0M160.9 552.9h0M155.4 542.4h0M122.0 539.6h0M188.2 540.0h0M154.3 539.5h0M179.0 548.5h0M175.3 550.8h0M164.8 538.4h0M119.3 539.3h0M156.9 561.2h0M140.2 551.4h0M129.2 541.3h0M131.6 544.9h0M124.3 548.5h0M197.1 537.8h0M112.5 556.1h0M148.0 561.3h0M175.9 543.5h0M149.7 543.9h0M134.4 557.0h0M73.6 565.1h0M157.3 537.1h0M146.8 563.5h0M143.0 544.5h0M119.0 532.0h0M123.4 545.9h0M124.2 536.5h0M119.9 555.3h0M179.3 555.9h0M137.9 539.6h0M160.3 561.9h0M166.5 546.6h0M181.9 560.6h0M170.5 539.3h0M141.9 549.2h0M161.0 551.0h0M142.7 552.7h0M154.8 537.3h0M111.6 546.2h0M159.1 528.6h0M132.8 532.5h0M140.2 540.0h0M156.9 541.4h0M142.8 554.9h0M188.5 527.6h0M148.5 546.3h0M146.0 558.4h0M123.5 541.6h0M175.1 545.5h0M127.9 556.7h0M136.0 538.1h0M152.5 559.0h0M122.2 542.6h0M158.8 526.0h0M187.3 540.7h0M134.3 543.3h0M122.9 553.0h0M176.4 536.9h0M174.4 527.3h0M140.9 536.8h0M153.1 541.1h0M157.0 538.6h0M116.7 560.3h0M153.6 539.3h0M139.2 546.1h0M116.1 536.4h0M162.7 528.5h0M141.1 546.0h0M153.0 530.3h0M165.4 539.7h0M110.2 555.4h0M114.5 548.3h0M172.8 542.8h0M128.3 524.8h0M123.8 531.7h0M180.3 540.3h0M185.0 553.8h0M137.4 548.3h0M160.6 545.8h0M193.9 546.1h0M145.5 557.2h0M163.2 535.7h0M132.5 558.3h0M116.6 534.3h0M171.0 540.6h0M170.2 538.5h0M162.6 560.5h0M164.2 536.6h0M179.7 533.1h0M134.3 542.6h0M115.9 531.5h0M117.0 539.0h0M131.6 553.9h0M128.9 549.0h0M160.8 532.5h0M143.8 536.1h0M173.0 522.2h0M136.4 542.1h0M168.6 542.1h0M166.9 550.5h0M142.3 551.4h0M135.3 554.4h0M148.8 557.2h0M136.9 539.2h0M111.9 557.4h0M141.1 556.0h0M126.3 526.5h0M159.4 548.8h0M132.8 561.4h0M122.1 569.8h0M165.1 549.0h0M173.8 543.4h0M101.2 527.6h0M164.0 534.7h0M137.3 551.0h0M146.6 526.4h0M119.8 557.1h0M164.1 564.1h0M188.2 554.4h0M180.8 544.5h0M142.3 556.7h0M187.5 545.4h0M117.7 539.7h0M147.7 539.4h0M141.1 541.3h0M162.5 543.7h0M110.4 541.6h0M185.6 538.2h0M174.4 535.2h0M143.6 534.0h0M145.2 555.1h0M119.8 535.6h0M168.8 537.1h0M137.1 563.9h0M170.7 544.4h0M136.0 551.5h0M136.9 564.3h0M166.7 536.5h0M173.0 547.0h0M120.0 560.1h0M143.5 527.0h0M174.4 543.0h0M163.0 535.5h0M152.7 542.1h0M156.5 550.2h0M122.7 551.7h0M180.0 559.2h0M140.3 549.3h0M152.2 549.0h0M170.9 547.2h0M151.1 537.2h0M115.9 535.1h0M177.0 556.6h0M149.0 552.2h0M142.1 536.9h0M104.5 538.3h0M161.9 544.0h0M206.4 546.6h0M113.8 542.5h0M154.9 550.7h0M98.2 566.6h0M192.0 557.8h0M185.8 534.3h0M96.4 545.4h0M167.3 532.3h0M184.5 529.8h0M150.3 547.0h0M146.3 539.3h0M128.0 556.6h0M208.5 531.7h0M177.9 545.4h0M130.0 549.9h0M131.4 551.9h0M112.3 540.2h0M159.6 536.0h0M152.9 551.7h0M201.8 532.2h0M165.4 534.7h0M143.8 537.4h0M132.6 535.1h0M174.6 534.7h0M161.1 542.6h0M156.9 536.8h0M140.0 537.8h0M170.6 556.3h0M108.7 543.6h0M142.8 553.1h0M120.3 557.4h0M110.3 550.2h0M112.6 564.0h0M148.1 529.2h0M182.0 544.6h0M160.7 546.5h0M148.1 552.6h0M151.4 555.2h0M132.8 547.1h0M149.2 523.8h0M129.4 557.0h0M167.1 537.9h0M168.0 544.9h0M113.6 550.1h0M119.4 546.9h0M194.6 545.5h0M153.6 533.4h0M117.9 538.6h0M142.5 552.0h0M141.9 555.2h0M172.2 542.5h0M139.5 540.2h0M113.8 574.7h0M183.7 548.8h0M169.7 552.8h0M105.7 558.1h0M173.6 539.6h0M135.2 538.5h0M143.6 543.3h0M124.2 569.2h0M153.0 537.7h0M128.6 529.7h0M157.8 526.5h0M167.2 531.3h0M144.6 560.0h0M205.9 528.4h0M168.1 553.2h0M173.1 554.1h0M163.8 534.7h0M163.5 554.2h0M166.1 542.0h0M164.5 531.1h0M134.4 554.1h0M98.2 532.1h0M130.7 532.6h0M159.9 532.0h0M156.7 539.5h0M144.9 540.4h0M124.5 535.6h0M108.6 552.2h0M140.9 544.3h0M147.8 555.0h0M152.0 572.5h0M132.5 546.6h0M132.8 535.9h0M146.5 540.3h0M121.8 536.9h0M168.6 559.5h0M185.2 555.0h0M120.6 538.2h0M193.6 536.1h0M146.2 552.5h0M131.6 544.0h0M158.8 554.5h0M162.4 566.8h0M155.7 554.1h0M118.0 525.3h0M164.9 547.5h0M122.6 532.0h0M152.2 552.8h0M90.7 538.8h0M168.4 539.1h0M123.2 565.2h0M178.2 546.8h0M168.3 570.3h0M142.7 538.3h0M148.8 526.5h0M171.7 533.3h0M166.7 546.6h0M130.0 554.7h0M181.0 545.5h0M97.0 546.0h0M151.6 550.2h0M159.8 553.8h0M214.9 546.3h0M125.3 545.3h0M154.3 536.0h0M155.6 538.1h0M150.4 547.8h0M123.7 554.0h0M148.4 557.9h0M169.8 547.1h0M179.2 535.4h0M142.3 514.3h0M185.3 550.1h0M160.9 550.6h0M126.8 544.7h0M137.7 536.8h0M115.0 544.2h0M182.4 540.8h0M197.4 522.4h0M119.5 550.5h0M135.7 530.4h0M137.7 567.1h0M133.9 549.3h0M145.8 547.1h0M150.6 553.3h0M148.8 549.9h0M138.9 548.7h0M170.6 541.6h0M165.9 552.0h0M107.3 549.3h0M170.7 544.5h0M136.3 562.1h0M157.7 553.3h0M107.9 543.8h0M151.2 532.5h0M118.5 561.1h0M152.9 529.0h0M154.4 538.3h0M115.4 544.1h0M112.4 565.8h0M167.3 532.7h0M132.0 544.4h0M163.6 546.6h0M150.9 541.5h0M128.5 557.5h0M160.8 520.9h0M140.2 550.2h0M197.5 549.3h0M131.7 526.4h0M167.3 536.6h0M96.6 534.7h0M143.9 535.1h0M163.8 525.3h0M171.2 525.0h0M134.2 534.3h0M165.6 549.4h0M116.2 548.9h0M128.6 550.6h0M138.1 552.2h0M153.3 543.2h0M125.5 554.1h0M155.9 549.9h0M138.5 555.1h0M104.4 549.9h0M124.6 547.1h0M142.7 549.5h0M172.6 552.2h0M179.3 539.8h0M217.3 550.6h0M133.7 541.7h0M170.4 546.7h0M170.3 542.5h0M114.3 543.5h0M172.2 539.5h0M148.2 554.0h0M169.3 528.9h0M115.6 540.1h0M105.5 544.9h0M83.1 550.1h0M167.0 558.8h0M116.9 545.3h0M144.2 541.9h0M185.6 555.1h0M156.7 564.5h0M74.2 558.9h0M81.6 543.2h0M172.9 538.4h0M109.4 554.8h0M107.2 549.1h0M124.8 534.7h0M161.2 557.3h0M187.9 540.5h0M172.8 543.3h0M183.6 531.1h0M171.1 529.0h0M166.8 540.5h0M132.0 567.5h0M182.7 536.6h0M123.3 537.2h0M155.5 543.3h0M198.1 531.6h0M116.8 545.4h0M177.0 531.4h0M165.0 547.7h0M160.8 563.6h0M183.9 543.4h0M137.2 552.7h0M155.6 552.9h0M126.2 555.9h0M195.6 543.3h0M164.4 540.1h0M135.6 537.1h0M147.4 552.5h0M125.6 549.9h0M139.1 531.1h0M87.0 536.1h0M188.5 526.4h0M133.2 554.0h0M183.5 535.7h0M159.1 553.1h0M144.2 557.2h0M193.5 531.2h0M140.5 534.0h0M155.1 565.3h0M166.1 551.5h0M159.7 548.8h0M126.0 549.2h0M178.3 555.3h0M126.5 561.6h0M135.7 536.1h0M170.1 537.6h0M164.2 527.8h0M189.8 525.7h0M129.3 552.2h0M171.5 535.7h0M138.5 547.3h0M175.0 544.6h0M132.5 542.0h0M137.2 539.2h0M157.3 547.3h0M129.0 535.1h0M129.3 544.4h0M142.4 544.5h0M141.9 534.6h0M154.2 555.2h0M119.8 538.4h0M146.1 531.8h0M163.3 530.3h0M115.8 549.9h0M183.1 555.8h0M169.7 544.0h0M177.6 546.2h0M132.8 536.9h0M206.5 553.7h0M158.6 552.3h0M163.9 539.0h0M133.0 559.6h0M153.4 543.9h0M174.3 543.5h0M178.6 540.0h0M189.2 531.5h0M117.3 548.8h0M163.1 546.2h0M161.0 526.2h0M130.2 552.4h0M129.7 534.2h0M209.1 550.0h0M212.0 555.4h0M155.5 542.4h0M160.5 550.8h0M123.3 547.5h0M178.3 544.8h0M162.7 538.6h0M189.5 553.2h0M192.8 521.8h0M123.3 533.8h0M105.7 554.9h0M145.2 544.6h0M105.4 554.0h0M111.5 536.2h0M129.0 542.4h0M139.9 539.2h0M87.6 547.8h0M115.2 555.8h0M161.8 534.9h0M129.7 550.4h0M202.0 540.6h0M176.9 532.1h0M172.1 544.4h0M148.6 535.3h0M83.4 555.5h0M163.0 537.7h0M167.5 548.6h0M131.3 559.8h0M157.3 544.1h0M154.6 567.3h0M141.8 555.8h0M176.2 535.6h0M168.6 537.7h0M181.0 540.1h0M131.2 543.7h0M153.1 540.5h0M164.3 542.8h0M157.9 544.4h0M145.6 555.9h0M133.1 550.0h0M196.8 544.3h0M129.3 539.4h0M164.2 546.7h0M176.0 553.3h0M123.0 551.1h0M142.1 547.3h0M151.5 534.7h0M153.3 540.0h0M145.3 555.2h0M150.0 554.8h0M169.0 546.3h0M125.1 546.6h0M154.8 549.5h0M124.8 549.0h0M138.4 550.4h0M80.9 556.0h0M205.1 525.0h0M178.3 545.3h0M177.2 537.1h0M152.5 544.5h0M152.2 562.3h0M177.0 533.7h0M158.3 540.2h0M130.4 546.7h0M134.7 555.9h0M158.7 521.0h0M196.7 541.3h0M140.6 523.3h0M129.6 552.7h0M161.9 523.9h0M191.6 562.8h0M102.9 559.5h0M180.9 552.3h0M133.3 533.4h0M125.9 529.9h0M103.6 553.7h0M184.3 553.6h0M158.0 535.1h0M171.0 538.6h0M163.1 536.5h0M154.9 549.2h0M200.9 553.4h0M153.9 551.8h0M144.4 533.7h0M109.2 562.6h0M162.0 543.3h0M153.8 546.3h0M164.1 547.8h0M179.5 544.7h0M114.4 558.3h0M163.0 553.4h0M108.4 542.1h0M150.6 535.6h0M187.3 558.0h0M162.2 552.2h0M144.9 540.7h0M155.3 547.0h0M153.7 542.2h0M71.3 539.6h0M168.8 540.1h0M146.9 528.7h0M141.7 539.9h0M132.0 566.1h0M156.0 540.9h0M102.2 533.7h0M164.2 541.7h0M125.4 559.6h0M144.1 543.8h0M140.4 546.5h0M159.1 542.4h0M162.2 545.7h0M105.2 543.8h0M159.0 534.2h0M160.2 556.8h0M162.1 531.8h0M197.9 542.6h0M156.8 544.6h0M179.2 538.6h0M215.7 538.9h0M143.1 532.2h0M170.4 551.0h0M152.8 550.3h0M113.2 540.8h0M135.6 543.9h0M166.4 551.2h0M170.1 548.1h0M157.5 548.8h0M123.2 568.5h0M133.3 553.0h0M216.5 544.3h0M159.2 550.6h0M180.8 535.3h0M157.3 541.4h0M94.4 555.8h0M145.3 525.7h0M209.7 547.4h0M163.2 541.1h0M214.1 548.6h0M158.9 538.3h0M148.7 549.1h0M163.2 540.1h0M130.0 550.2h0M159.4 549.0h0M186.8 553.5h0M127.2 535.7h0M145.7 549.4h0M176.1 547.7h0M102.3 548.9h0M171.1 542.3h0M191.8 539.0h0M159.3 527.9h0M134.6 578.7h0M162.5 534.1h0M157.9 554.9h0M168.4 529.7h0M159.0 554.8h0M141.5 541.2h0M111.3 535.5h0M113.3 526.1h0M133.5 536.2h0M161.4 566.3h0M166.2 552.6h0M138.7 543.4h0M106.2 551.3h0M159.4 535.6h0M176.8 538.5h0M75.6 544.6h0M124.3 566.1h0M159.7 533.4h0M148.5 548.4h0M119.5 552.3h0M168.1 542.3h0M154.6 550.2h0M134.3 553.5h0M111.8 533.0h0M110.1 533.7h0M165.2 555.6h0M169.6 537.9h0M170.3 545.7h0M137.2 548.9h0M147.1 560.3h0M177.4 551.9h0M186.0 530.8h0M97.8 558.6h0M129.3 546.7h0M121.1 541.3h0M140.1 558.9h0M171.6 553.1h0M165.4 524.0h0M147.8 550.5h0M103.7 542.0h0M140.0 547.4h0M178.6 555.5h0M164.0 528.7h0M173.0 553.5h0M181.1 547.0h0M188.3 541.3h0M178.5 563.2h0M153.4 569.0h0M160.8 555.0h0M165.6 541.3h0M206.1 534.4h0M170.8 564.4h0M156.1 555.4h0M146.1 545.6h0M165.0 534.9h0M172.2 540.3h0M136.6 545.9h0M156.1 540.2h0M105.1 541.6h0M114.2 541.1h0M141.8 563.1h0M159.9 555.6h0M166.1 541.8h0M147.4 535.4h0M127.3 552.7h0M147.8 538.5h0M156.5 569.1h0M157.7 537.9h0M150.6 551.8h0M138.1 537.8h0M172.4 540.3h0M157.8 538.6h0M171.3 543.1h0M168.6 516.1h0M168.4 541.8h0M150.7 516.3h0M201.7 528.3h0M153.5 520.3h0M154.0 528.0h0M147.6 535.7h0M130.3 531.9h0M114.3 548.2h0M163.4 524.5h0M183.7 522.3h0M157.8 524.2h0M128.9 560.5h0M161.2 559.9h0M178.4 535.5h0M165.6 512.3h0M161.6 527.4h0M141.8 520.5h0M149.2 541.5h0M167.4 526.1h0M145.1 541.1h0M134.7 539.3h0M131.2 544.8h0M177.6 536.5h0M148.1 522.7h0M160.4 524.7h0M157.2 544.0h0M176.4 528.5h0M157.9 528.4h0M182.5 527.2h0M170.9 550.9h0M150.9 537.3h0M152.1 539.4h0M162.2 521.5h0M165.6 527.1h0M167.2 531.4h0M184.8 532.3h0M160.0 537.2h0M155.8 539.0h0M142.6 534.2h0M166.5 534.1h0M181.8 528.8h0M137.3 536.7h0M173.8 524.7h0M155.4 546.9h0M159.6 530.5h0M193.3 521.8h0M159.5 527.5h0M157.5 524.5h0M155.5 533.2h0M137.8 538.1h0M139.1 537.4h0M161.3 520.4h0M160.2 541.0h0M165.2 537.7h0M126.2 531.9h0M153.7 540.2h0M151.6 525.8h0M160.5 542.4h0M173.4 545.2h0M170.1 542.8h0M155.5 515.4h0M155.6 530.8h0M150.5 530.5h0M171.8 526.6h0M183.5 534.0h0M140.8 527.7h0M144.6 523.9h0M158.3 509.8h0M165.2 543.0h0M145.7 537.0h0M164.4 552.5h0M167.3 533.4h0M169.9 535.1h0M173.2 522.9h0M155.6 536.7h0M134.2 557.6h0M165.9 551.9h0M168.4 522.3h0M160.7 520.8h0M200.9 552.6h0M158.5 517.5h0M126.7 554.2h0M152.7 530.8h0M167.8 527.2h0M153.4 531.7h0M156.6 539.0h0M185.3 524.4h0M133.9 530.1h0M146.3 538.3h0M189.1 519.2h0M155.0 540.2h0M180.3 521.8h0M184.6 537.1h0M205.9 543.7h0M167.6 525.8h0M152.7 531.4h0M130.7 532.7h0M158.4 511.2h0M159.5 511.0h0M167.6 528.3h0M180.8 525.3h0M185.1 526.7h0M129.9 522.8h0M137.4 520.0h0M160.6 542.6h0M164.4 546.3h0M146.2 539.8h0M171.6 519.2h0M143.3 534.9h0M170.3 531.4h0M178.0 537.5h0M177.4 521.5h0M167.6 518.7h0M132.8 532.1h0M165.7 533.5h0M187.7 547.4h0M164.3 527.5h0M156.4 531.5h0M174.1 520.8h0M166.0 516.3h0M166.7 514.9h0M155.8 535.3h0M145.8 556.6h0M165.1 531.3h0M155.0 541.4h0M144.8 527.1h0M182.2 524.6h0M182.2 513.2h0M178.6 520.4h0M156.5 533.1h0M174.7 521.5h0M153.1 528.3h0M169.9 525.9h0M163.8 537.0h0M160.7 537.2h0M171.7 548.2h0M172.3 538.1h0M176.9 531.8h0M139.7 549.4h0M163.3 528.6h0M156.4 539.7h0M164.0 518.4h0M166.5 523.2h0M162.5 526.8h0M172.9 550.3h0M158.4 544.0h0M178.3 536.5h0M157.2 532.8h0M153.4 526.2h0M137.6 558.3h0M150.5 539.9h0M163.7 535.4h0M162.0 534.7h0M186.9 533.1h0M178.9 531.0h0M151.4 542.2h0M160.5 545.7h0M132.3 529.2h0M172.6 533.8h0M157.9 495.9h0M152.3 523.3h0M147.6 535.8h0M147.9 530.5h0M133.3 527.3h0M163.6 557.3h0M172.1 534.1h0M164.9 548.3h0M147.2 542.4h0M178.7 536.8h0M167.5 533.0h0M155.0 527.6h0M157.1 544.3h0M154.1 523.1h0M146.6 532.2h0M137.8 533.4h0M171.7 529.5h0M136.8 536.7h0M138.4 544.1h0M127.7 525.1h0M162.5 544.8h0M133.9 543.2h0M157.9 523.0h0M141.2 533.6h0M178.6 525.5h0M188.7 539.8h0M136.0 538.6h0M156.1 529.0h0M169.3 543.4h0M143.3 543.5h0M174.0 531.8h0M136.6 542.1h0M146.7 556.0h0M188.4 523.7h0M174.2 528.0h0M142.9 517.3h0M176.2 539.3h0M137.9 539.8h0M175.8 528.3h0M155.5 531.2h0M155.7 523.7h0M167.6 525.7h0M144.0 521.4h0M168.8 538.8h0M166.2 548.4h0M169.0 526.3h0M166.8 535.4h0M145.4 543.9h0M170.1 549.0h0M164.0 536.9h0M154.6 556.0h0M139.8 558.4h0M176.2 523.8h0M173.9 532.2h0M152.8 524.7h0M148.3 524.5h0M147.9 533.3h0M123.1 535.6h0M153.2 525.5h0M182.5 538.3h0M169.8 555.0h0M174.1 531.3h0M186.9 528.9h0M151.8 542.1h0M184.5 540.7h0M140.2 540.5h0M151.4 529.1h0M153.2 515.0h0M140.7 533.3h0M138.9 555.8h0M165.7 527.8h0M161.8 539.4h0M142.9 539.2h0M149.3 547.0h0M142.6 524.5h0M188.9 537.3h0M135.1 529.4h0M151.2 507.9h0M181.4 529.2h0M164.0 556.1h0M141.6 537.1h0M139.1 545.8h0M144.4 521.9h0M160.2 527.2h0M169.4 527.5h0M153.2 529.1h0M165.2 548.1h0M152.8 527.8h0M132.0 523.1h0M173.2 545.2h0M137.3 519.9h0M145.6 533.8h0M180.0 539.5h0M166.1 529.6h0M132.8 531.4h0M142.0 528.4h0M174.9 518.6h0M147.5 527.3h0M165.6 516.5h0M169.9 542.9h0M144.2 542.3h0M154.1 549.2h0M202.4 525.4h0M155.2 532.1h0M155.9 551.0h0M145.7 521.9h0M186.1 524.5h0M146.8 551.3h0M124.5 531.3h0M159.0 531.3h0M172.5 525.1h0M162.3 523.5h0M180.1 520.8h0M188.9 545.5h0M148.9 522.4h0M138.7 536.4h0M158.1 543.8h0M174.4 529.0h0M184.9 527.9h0M181.1 532.5h0M152.8 546.2h0M170.1 531.9h0M147.3 537.5h0M149.4 530.8h0M163.3 541.4h0M156.8 510.0h0M170.7 529.8h0M182.0 536.8h0M163.0 525.7h0M146.1 552.1h0M199.1 528.1h0M160.5 536.4h0M164.5 543.0h0M156.9 532.6h0M179.9 528.5h0M152.5 539.6h0M166.4 532.0h0M186.9 547.4h0M186.3 517.8h0M147.4 541.0h0M141.6 528.2h0M184.8 537.6h0M142.7 531.4h0M169.6 518.1h0M175.1 542.5h0M145.9 540.4h0M191.9 530.6h0M136.7 536.0h0M164.7 539.4h0M151.2 539.4h0M161.6 541.2h0M184.6 533.2h0M139.7 536.4h0M149.3 537.3h0M178.0 528.0h0M155.4 520.0h0M163.1 524.0h0M176.1 531.5h0M160.3 537.9h0M181.6 520.5h0M133.6 526.6h0M179.2 528.0h0M151.0 537.3h0M158.1 539.2h0M167.7 526.8h0M176.2 526.8h0M162.5 538.3h0M157.3 522.1h0M166.3 508.7h0M164.5 536.2h0M141.4 554.4h0M176.8 529.1h0M174.3 528.6h0M173.2 521.7h0M167.8 513.3h0M155.4 529.0h0M143.4 537.6h0M158.7 550.5h0M160.6 520.6h0M152.6 561.6h0M139.3 538.9h0M151.7 522.2h0M152.7 520.5h0M157.2 522.4h0M167.2 530.1h0M170.4 538.4h0M172.2 532.4h0M137.9 516.0h0M137.5 528.3h0M163.0 542.5h0M161.1 530.1h0M174.2 541.4h0M169.5 562.0h0M175.4 541.0h0M176.7 520.5h0M153.0 532.0h0M175.2 529.0h0M137.4 517.5h0M196.9 529.0h0M146.6 513.3h0M149.1 525.6h0M156.2 533.7h0M157.7 535.6h0M137.6 544.0h0M182.1 523.4h0M145.4 533.9h0M163.2 541.0h0M166.3 520.2h0M140.5 518.2h0M164.8 520.3h0M163.8 543.7h0M155.6 526.8h0M148.5 521.8h0M170.8 569.4h0M141.8 536.5h0M161.4 544.2h0M159.7 514.3h0M166.0 538.1h0M164.1 534.4h0M166.2 520.9h0M175.7 537.4h0M153.6 525.5h0M140.1 530.9h0M132.4 548.4h0M178.7 517.2h0M181.9 533.1h0M153.1 552.2h0M171.1 537.1h0M130.7 528.5h0M169.9 520.4h0M176.3 532.5h0M144.9 528.5h0M132.9 532.2h0M174.3 522.3h0M123.6 522.8h0M168.7 538.3h0M139.5 502.3h0M185.4 527.7h0M173.8 529.3h0M145.6 546.7h0M152.8 538.6h0M134.5 521.6h0M157.0 518.3h0M130.5 542.8h0M170.0 549.5h0M146.6 517.5h0M165.4 533.9h0M157.7 544.4h0M142.9 522.9h0M173.0 553.2h0M171.4 555.6h0M173.0 540.6h0M147.6 556.4h0M155.2 534.6h0M140.6 523.7h0M168.2 530.2h0M174.0 544.6h0M188.4 526.6h0M148.2 540.1h0M156.0 536.1h0M176.1 516.8h0M151.1 546.9h0M150.5 529.8h0M186.5 509.8h0M156.2 520.8h0M159.1 531.9h0M155.7 525.5h0M190.0 512.8h0M166.6 522.7h0M156.9 512.4h0M175.9 542.0h0M145.5 544.5h0M183.9 526.2h0M192.4 535.0h0M167.6 534.0h0M148.9 567.2h0M160.9 522.3h0M172.3 531.6h0M174.4 516.3h0M150.4 518.7h0M160.1 523.6h0M145.7 539.6h0M150.2 545.3h0M125.0 549.0h0M130.8 552.1h0M120.5 560.1h0M128.9 553.5h0M140.0 560.8h0M131.6 541.3h0M129.1 555.0h0M135.3 543.6h0M126.6 559.2h0M108.3 553.9h0M99.0 546.1h0M101.8 559.6h0M157.8 560.7h0M122.1 555.6h0M91.8 541.8h0M119.9 553.8h0M113.5 562.2h0M121.1 562.9h0M120.9 547.3h0M137.0 547.7h0M114.8 554.5h0M148.6 549.4h0M104.3 564.1h0M116.9 553.6h0M109.4 555.4h0M134.9 556.0h0M133.8 562.7h0M117.5 545.0h0M137.5 550.8h0M123.0 555.8h0M88.0 561.2h0M154.4 555.0h0M131.7 558.9h0M115.5 550.0h0M131.3 552.3h0M136.3 551.5h0M115.8 548.3h0M90.4 554.0h0M110.9 548.6h0M130.9 560.7h0M116.4 572.6h0M136.0 556.6h0M146.5 566.2h0M125.4 549.8h0M120.9 564.3h0M138.4 533.9h0M75.1 552.1h0M95.7 555.3h0M145.8 543.0h0M112.5 552.7h0M100.8 550.4h0M147.6 560.3h0M150.8 558.4h0M116.6 551.1h0M140.5 557.1h0M150.4 555.3h0M130.4 562.6h0M130.8 545.7h0M119.9 557.0h0M102.1 545.9h0M125.0 552.7h0M127.7 546.2h0M120.1 545.6h0M122.0 546.5h0M154.0 558.8h0M125.5 561.3h0M93.9 559.6h0M128.9 547.2h0M137.3 547.2h0M114.6 544.5h0M107.3 546.9h0M103.1 559.3h0M107.5 551.5h0M142.8 545.6h0M118.0 549.0h0M139.4 557.4h0M144.0 546.6h0M110.0 550.5h0M107.5 559.8h0M136.5 556.7h0M137.8 565.6h0M124.3 552.6h0M136.8 546.0h0M137.9 559.0h0M126.1 544.3h0M134.5 568.8h0M113.3 555.9h0M104.5 557.7h0M126.4 550.6h0M134.7 557.3h0M140.5 559.6h0M163.3 551.5h0M135.7 553.7h0M122.5 555.8h0M132.2 555.8h0M102.2 562.8h0M92.7 563.2h0M145.5 535.6h0M119.3 556.8h0M136.4 552.0h0M137.4 548.4h0M135.2 549.1h0M141.3 561.6h0M122.5 550.4h0M137.5 549.8h0M133.5 551.8h0M140.4 553.2h0M127.4 555.7h0M127.7 551.7h0M88.6 558.7h0M134.6 558.7h0M129.6 560.2h0M109.8 555.4h0M111.8 545.6h0M115.3 551.2h0M121.8 552.2h0M95.5 544.3h0M111.1 556.5h0M102.6 553.4h0M138.2 546.1h0M123.2 550.5h0M126.8 547.3h0M123.3 556.0h0M100.9 554.1h0M130.1 556.7h0M127.5 559.9h0M143.2 545.3h0M111.2 576.3h0M123.3 542.9h0M145.0 555.9h0M121.2 557.4h0M119.9 547.2h0M127.9 550.4h0M107.0 547.2h0M102.6 555.2h0M94.6 556.5h0M123.1 560.2h0M132.1 551.0h0M112.7 548.6h0M121.8 557.0h0M131.1 542.1h0M132.7 557.8h0M103.0 557.9h0M123.7 545.6h0M164.2 546.0h0M125.8 538.4h0M138.8 557.6h0M131.8 548.4h0M129.9 554.6h0M123.1 548.3h0M92.3 539.8h0M87.0 549.9h0M123.1 554.6h0M114.3 549.4h0M129.4 548.8h0M131.6 539.0h0M106.3 557.6h0M117.4 544.6h0M122.0 552.6h0M141.3 542.0h0M113.8 564.4h0M101.6 550.9h0M149.6 551.1h0M137.3 561.5h0M97.0 556.8h0M128.2 560.7h0M143.9 546.3h0M98.4 568.4h0M147.7 551.1h0M128.9 554.7h0M113.2 563.5h0M134.7 561.1h0M111.0 565.8h0M125.0 552.7h0M121.8 558.0h0M130.8 551.2h0M153.6 561.4h0M95.6 553.5h0M122.2 550.5h0M113.5 558.1h0M151.8 548.8h0M150.8 552.2h0M130.2 548.2h0M105.4 545.9h0M119.8 556.3h0M115.3 546.2h0M143.0 554.8h0M136.9 565.2h0M125.0 559.1h0M144.0 542.9h0M128.0 545.5h0M102.8 550.3h0M136.4 554.8h0M152.3 547.0h0M127.8 544.7h0M120.2 540.1h0M102.0 564.6h0M117.0 550.5h0M118.8 558.0h0M173.8 542.9h0M129.0 556.1h0M118.0 552.6h0M146.9 549.0h0M137.1 570.3h0M139.2 557.0h0M150.4 550.4h0M115.2 554.0h0M125.2 549.5h0M138.9 555.6h0M147.5 553.9h0M118.6 566.1h0M129.8 540.0h0M131.5 554.8h0M118.9 549.0h0M99.2 562.5h0M138.5 558.9h0M150.3 553.0h0M121.1 561.5h0M107.0 561.1h0M131.2 561.5h0M117.6 549.1h0M115.6 549.8h0M74.8 563.5h0M138.5 553.3h0M104.7 549.9h0M120.7 551.7h0M133.4 539.6h0M118.9 553.4h0M113.3 557.3h0M147.6 559.5h0M139.9 552.0h0M137.0 549.9h0M135.1 565.8h0M139.7 558.2h0M103.4 559.0h0M119.0 536.7h0M144.2 538.2h0M132.1 541.5h0M118.7 553.9h0M130.0 562.4h0M178.0 534.0h0M140.5 560.6h0M156.0 544.6h0M167.8 546.9h0M129.1 565.9h0M146.6 557.9h0M110.5 549.4h0M106.9 549.8h0M114.1 563.6h0M94.1 554.5h0M163.1 549.6h0M124.5 547.8h0M121.7 562.1h0M119.5 551.6h0M119.8 561.8h0M117.4 547.5h0M81.8 564.4h0M113.6 558.9h0M134.9 549.2h0M129.2 549.4h0M124.2 560.7h0M119.9 550.2h0M120.8 568.9h0M120.1 559.2h0M115.9 553.3h0M122.2 550.3h0M97.4 555.0h0M94.5 557.1h0M144.0 562.4h0M101.5 550.5h0M102.4 561.6h0M128.8 566.9h0M93.6 552.2h0M91.2 551.4h0M91.2 551.0h0M154.4 539.7h0M175.2 544.0h0M124.4 557.0h0M120.3 548.7h0M112.5 552.3h0M134.9 545.8h0M122.0 560.3h0M129.7 552.7h0M173.6 549.5h0M120.2 558.9h0M126.7 554.4h0M128.2 554.1h0M126.6 551.1h0M126.1 558.6h0M110.5 550.4h0M95.8 561.8h0M116.2 556.2h0M149.5 548.4h0M104.5 552.0h0M134.6 549.8h0M164.1 561.0h0M115.0 547.9h0M149.4 560.3h0M111.5 544.6h0M121.9 550.3h0M184.8 549.4h0M231.4 546.3h0M64.1 556.6h0M110.0 533.7h0M154.3 539.9h0M131.7 538.8h0M118.8 529.0h0M112.0 519.6h0M162.1 561.4h0M106.8 544.4h0M149.3 546.9h0M148.3 530.4h0M142.9 542.7h0M159.2 571.9h0M64.0 537.3h0M112.0 542.4h0M184.7 529.5h0M112.3 521.6h0M160.6 549.1h0M101.9 547.1h0M116.9 531.6h0M191.1 543.7h0M107.7 531.9h0M196.4 554.3h0M189.5 542.1h0M168.3 573.6h0M119.7 546.7h0M94.1 550.4h0M202.3 522.8h0M147.6 556.1h0M131.4 517.0h0M239.8 536.2h0M146.1 563.7h0M117.3 548.6h0M162.8 553.7h0M149.7 543.9h0M240.5 528.3h0M168.0 541.0h0M151.9 564.1h0M203.5 511.8h0M185.8 527.9h0M114.0 572.1h0M132.4 562.4h0M172.9 531.7h0M106.2 551.8h0M118.2 495.1h0M155.1 582.7h0M168.6 499.2h0M198.9 546.2h0M178.4 546.3h0M154.8 536.2h0M168.4 547.4h0M143.8 542.6h0M165.7 576.7h0M178.7 547.8h0M173.6 514.9h0M131.2 545.0h0M121.1 555.3h0M135.5 570.6h0M133.1 534.5h0M240.7 527.8h0M207.3 538.7h0M108.3 582.3h0M84.9 588.3h0M208.0 544.2h0M134.9 542.9h0M143.2 536.8h0M114.3 550.2h0M224.4 556.3h0M129.9 545.5h0M80.8 551.2h0M172.6 550.8h0M214.6 535.3h0M147.5 537.1h0M141.4 522.8h0M179.0 513.7h0M129.4 563.0h0M118.8 534.6h0M116.2 543.2h0M144.9 555.9h0M105.4 537.8h0M134.5 539.9h0M161.8 555.1h0M137.4 511.3h0M186.3 559.8h0M159.3 546.4h0M228.5 518.6h0M144.3 556.6h0M218.2 544.2h0M176.0 554.7h0M156.1 547.4h0M67.5 519.2h0M171.2 541.5h0M147.5 527.7h0M181.8 556.0h0M224.6 542.8h0M177.4 525.3h0M160.3 531.3h0M142.9 519.7h0M226.1 541.2h0M125.7 529.4h0M123.3 536.3h0M138.2 559.9h0M125.2 535.2h0M167.4 494.3h0M131.9 565.6h0M126.1 570.0h0M152.2 535.6h0M203.7 543.7h0M161.2 578.7h0M152.7 536.0h0M196.5 558.5h0M133.1 541.2h0M153.4 545.3h0M172.9 582.4h0M126.5 531.9h0M157.6 549.3h0M153.4 507.0h0M138.4 518.0h0M99.3 559.7h0M158.2 526.5h0M81.8 514.9h0M190.1 519.2h0M173.2 588.8h0M164.4 534.4h0M85.2 559.3h0M110.8 565.7h0M73.3 533.5h0M93.3 545.0h0M207.5 533.0h0M170.3 533.5h0M179.3 545.6h0M221.3 560.7h0M186.5 520.4h0M168.1 539.5h0M149.4 544.0h0"/>
<path stroke="#8fb1cc" stroke-opacity="0.75" stroke-width="1.7" stroke-linecap="square" d="M152.9 546.2h0M162.6 518.4h0M160.2 534.9h0M160.6 528.8h0M163.0 526.9h0M169.4 526.5h0M160.9 539.8h0M171.0 528.1h0M157.8 529.7h0M159.8 543.3h0M172.7 527.2h0M171.0 536.9h0M159.2 529.5h0M154.4 530.1h0M144.6 540.2h0M169.3 527.4h0M153.8 540.2h0M152.6 546.3h0M160.1 533.5h0M152.9 535.7h0M174.7 527.0h0M160.8 533.4h0M153.2 538.7h0M158.4 525.2h0M153.2 522.5h0M162.4 527.1h0M153.2 535.0h0M151.4 538.8h0M164.0 538.7h0M163.0 539.3h0M159.4 533.2h0M149.8 530.0h0M165.2 539.9h0M170.7 536.8h0M152.2 533.9h0M156.9 538.4h0M164.6 522.5h0M170.6 523.5h0M153.1 545.7h0M160.9 538.3h0M154.5 540.0h0M155.0 542.7h0M151.6 532.9h0M160.0 528.8h0M169.6 531.1h0M160.5 545.2h0M157.4 538.7h0M175.2 528.0h0M172.4 535.4h0M162.2 534.8h0M167.8 539.6h0M151.8 528.1h0M180.2 529.1h0M175.6 530.3h0M180.1 524.4h0M170.2 535.0h0M161.9 539.8h0M164.5 524.1h0M149.3 533.7h0M143.0 534.2h0M156.6 531.3h0M165.0 542.3h0M159.1 534.1h0M162.0 529.3h0M180.1 534.8h0M163.5 527.6h0M160.7 530.5h0M165.4 536.2h0M161.9 540.4h0M145.7 534.8h0M156.9 532.2h0M152.5 523.5h0M163.6 529.7h0M162.0 530.6h0M160.2 537.2h0M157.2 530.5h0M157.0 530.7h0M168.2 533.8h0M169.4 534.6h0M164.2 542.5h0M167.1 532.7h0M176.6 525.5h0M145.9 535.9h0M160.1 521.9h0M169.4 528.9h0M156.3 543.8h0M156.3 530.4h0M160.9 548.7h0M160.6 532.6h0M164.6 525.9h0M156.6 529.0h0M164.3 529.1h0M154.4 538.4h0M161.4 532.6h0M151.9 530.6h0M159.8 524.1h0M158.8 536.6h0M154.9 531.4h0M142.5 544.0h0M160.2 532.2h0M144.3 539.4h0M162.7 532.8h0M147.7 528.1h0M158.5 539.0h0M168.3 536.0h0M168.6 531.5h0M163.7 532.6h0M157.3 528.2h0M143.2 528.9h0M148.2 535.7h0M178.6 530.4h0M156.8 525.0h0M168.7 527.5h0M169.7 523.1h0M143.8 527.0h0M164.1 537.4h0M160.0 523.3h0M159.0 529.6h0M176.8 530.1h0M158.7 538.1h0M166.9 533.3h0M160.8 527.8h0M162.0 532.5h0M163.4 520.8h0M164.7 527.0h0M162.3 535.5h0M147.7 538.5h0M173.9 525.5h0M156.9 538.9h0M171.3 536.5h0M173.8 539.0h0M160.4 530.2h0M165.4 532.3h0M173.2 526.9h0M164.5 524.7h0M165.8 532.7h0M165.3 531.0h0M152.0 533.8h0M166.1 518.9h0M163.4 536.2h0M155.8 538.4h0M159.9 537.8h0M160.0 530.1h0M153.8 537.3h0M148.9 527.7h0M164.2 535.0h0M170.4 528.3h0M159.2 530.7h0M151.5 541.6h0M154.2 525.0h0M171.7 523.3h0M153.0 539.3h0M159.0 541.6h0M157.5 530.8h0M152.1 539.1h0M164.2 537.9h0M156.1 533.8h0M148.5 536.4h0M160.6 529.9h0M164.3 538.2h0M155.2 527.4h0M168.3 543.4h0M151.2 544.3h0M167.2 530.2h0M163.3 539.0h0M153.3 517.1h0M157.2 530.0h0M170.0 530.5h0M170.2 517.1h0M168.4 537.5h0M155.5 533.4h0M161.9 533.7h0M165.1 532.9h0M161.4 529.2h0M164.4 536.8h0M156.1 541.9h0M161.1 534.6h0M169.3 536.2h0M172.9 526.8h0M157.5 538.9h0M160.3 540.3h0M152.5 535.6h0M164.9 544.3h0M150.3 524.2h0M166.9 541.5h0M158.6 540.1h0M149.0 540.3h0M160.7 540.2h0M171.3 531.5h0M158.2 528.9h0M155.8 528.8h0M146.7 536.1h0M160.8 539.8h0M166.3 536.2h0M153.1 541.7h0M150.1 529.9h0M172.6 537.1h0M157.7 532.7h0M158.5 541.9h0M159.0 534.2h0M165.2 532.6h0M184.7 523.7h0M145.9 529.6h0M148.1 528.8h0M166.4 532.2h0M160.6 541.5h0M160.3 531.2h0M168.3 538.6h0M151.8 536.6h0M163.5 536.4h0M159.7 528.4h0M156.0 534.6h0M160.0 531.3h0M161.3 534.4h0M164.5 531.2h0M164.0 536.1h0M153.6 528.8h0M158.0 540.1h0M157.6 533.5h0M183.4 525.0h0M147.9 536.1h0M168.8 526.2h0M162.2 541.1h0M182.6 537.6h0M164.9 529.5h0M157.1 532.9h0M155.0 534.5h0M165.2 530.8h0M167.6 531.8h0M151.7 530.1h0M175.8 527.5h0M164.7 542.7h0M157.7 533.1h0M164.5 528.4h0M142.9 552.1h0M164.3 521.4h0M173.5 538.3h0M158.5 525.0h0M163.6 544.4h0M169.6 549.6h0M163.0 539.8h0M161.0 530.6h0M150.9 526.8h0M174.4 522.5h0M162.5 536.5h0M165.5 541.3h0M161.4 526.6h0M154.6 537.0h0M158.1 533.8h0M154.2 525.5h0M154.5 547.3h0M151.8 531.6h0M152.0 522.9h0M161.7 542.2h0M159.1 524.8h0M167.8 537.8h0M168.2 530.7h0M160.5 532.6h0M165.8 529.1h0M152.8 551.3h0M171.2 534.0h0M170.4 537.0h0M161.8 525.1h0M146.3 527.4h0M160.5 532.5h0M170.5 527.2h0M153.3 537.7h0M167.6 541.7h0M159.9 538.6h0M154.0 542.5h0M135.1 550.8h0M117.5 549.4h0M132.8 547.6h0M132.4 545.2h0M135.5 552.3h0M123.7 550.2h0M128.6 551.1h0M132.9 558.7h0M129.4 552.1h0M139.7 549.2h0M140.2 550.1h0M112.9 558.4h0M138.1 550.3h0M116.2 548.3h0M139.5 547.5h0M157.4 543.1h0M120.2 550.0h0M136.8 548.6h0M125.9 552.4h0M133.7 550.4h0M141.2 546.5h0M126.2 548.8h0M129.4 550.0h0M129.4 543.6h0M113.3 553.6h0M142.1 539.5h0M138.5 552.0h0M122.8 542.7h0M135.0 545.5h0M131.3 553.2h0M110.1 550.8h0M114.2 557.3h0M138.5 556.1h0M147.5 546.2h0M147.8 555.4h0M136.6 558.8h0M125.3 549.3h0M140.6 546.3h0M132.2 561.2h0M119.6 557.3h0M128.1 549.3h0M122.0 550.1h0M127.3 545.4h0M125.6 551.7h0M147.5 555.6h0M130.3 552.6h0M108.6 558.7h0M154.7 543.3h0M142.3 547.9h0M143.0 542.8h0M115.2 545.2h0M128.4 550.8h0M127.0 552.2h0M127.3 548.1h0M138.8 548.3h0M135.1 555.6h0M159.0 553.7h0M148.3 550.1h0M132.7 554.7h0M134.4 548.3h0M133.7 553.5h0M119.8 555.2h0M148.7 550.6h0M129.2 556.2h0M118.2 547.7h0M124.3 547.6h0M151.8 551.7h0M119.9 550.2h0M143.1 551.3h0M135.0 548.8h0M112.1 548.2h0M139.0 553.5h0M134.0 550.8h0M111.5 550.5h0M150.7 553.6h0M149.0 552.2h0M125.4 549.4h0M106.4 553.7h0M129.7 548.8h0M148.0 552.4h0M131.2 557.7h0M133.6 551.6h0M110.8 549.0h0M122.6 553.4h0M138.6 554.2h0M139.2 558.7h0M135.5 559.6h0M138.6 549.0h0M118.8 541.3h0M143.0 556.8h0M142.6 549.9h0M129.5 544.6h0M139.4 554.1h0M123.9 551.7h0M146.7 550.6h0M158.1 546.6h0M123.9 545.1h0M119.4 556.3h0M130.4 550.9h0M132.1 545.3h0M127.6 554.6h0M131.7 557.6h0M125.6 561.2h0M105.7 548.6h0M141.3 550.4h0M146.9 548.4h0M143.4 549.7h0M153.4 550.2h0M118.6 556.5h0M126.7 550.1h0"/>
<rect x="140.0" y="541.0" width="16" height="8" fill="#d6c8cc" fill-opacity="0.9"/>
<line x1="146.90" y1="470.90" x2="146.90" y2="599.00" stroke="#c4c4c4" stroke-width="0.9" />
<line x1="47.70" y1="546.75" x2="245.60" y2="546.75" stroke="#c4c4c4" stroke-width="0.9" />
<path stroke="#b8141f" stroke-opacity="1.0" stroke-width="1.7" stroke-linecap="round" d="M131.6 545.7h0M134.7 551.9h0M128.3 547.1h0M135.5 554.1h0M130.1 549.9h0M126.9 547.0h0M128.6 546.9h0M130.6 548.5h0M124.0 544.9h0M140.1 547.1h0M134.6 545.9h0M136.5 547.5h0M126.5 546.6h0M138.7 547.2h0M129.8 550.7h0M144.6 547.7h0M126.5 548.7h0M132.2 550.7h0M140.8 549.9h0M132.0 549.1h0M129.2 548.5h0M121.1 547.8h0M124.5 548.1h0M137.5 549.1h0M137.0 551.7h0M135.9 547.8h0M130.0 548.2h0M122.2 551.7h0M136.2 554.2h0M140.7 548.4h0M127.3 550.1h0M133.0 549.0h0M133.6 546.4h0M130.6 548.1h0M134.2 552.5h0M131.6 548.9h0M124.8 551.4h0M133.5 553.2h0M120.9 545.9h0M136.7 546.4h0M138.0 544.8h0M139.1 544.9h0M132.2 550.3h0M127.6 552.8h0M130.7 552.2h0M142.7 548.2h0M131.5 547.6h0M130.3 551.3h0M133.9 548.3h0M134.6 549.8h0M134.0 545.5h0M130.3 549.8h0M127.2 551.2h0M124.1 547.6h0M132.7 547.4h0M125.1 550.1h0M130.1 549.8h0M135.7 545.1h0M126.8 551.0h0M136.9 550.6h0M131.0 546.7h0M134.9 546.8h0M132.0 550.3h0M128.5 546.9h0M130.9 547.5h0M129.0 550.4h0M144.1 546.4h0M128.7 554.0h0M136.2 548.5h0M122.2 550.6h0M141.9 548.1h0M116.2 551.6h0M130.5 549.1h0M125.3 546.0h0M125.1 547.9h0M125.0 550.1h0M134.8 548.2h0M136.8 551.7h0M129.6 548.3h0M132.8 550.0h0M135.1 546.0h0M129.6 547.4h0M130.3 547.2h0M142.2 549.7h0M137.7 549.1h0M137.4 548.1h0M125.7 547.2h0M123.0 552.2h0M129.6 548.9h0M122.5 551.9h0M135.9 546.8h0M131.4 550.5h0M125.2 548.4h0M130.0 548.1h0M133.4 546.3h0M159.7 545.9h0M165.5 547.2h0M161.0 541.9h0M162.6 551.8h0M163.1 548.4h0M159.5 543.8h0M153.9 544.5h0M154.8 543.4h0M156.2 547.7h0M159.0 545.5h0M164.2 545.2h0M160.6 547.1h0M152.6 546.4h0M157.9 540.4h0M166.5 544.2h0M153.8 553.1h0M150.5 544.3h0M161.4 544.4h0M161.1 548.7h0M153.2 545.6h0M152.6 550.5h0M154.0 546.5h0M158.2 546.1h0M159.6 547.4h0M157.5 547.1h0M157.8 548.9h0M158.8 544.6h0M151.8 543.5h0M160.7 548.1h0M158.1 541.9h0M157.4 547.5h0M157.8 546.7h0M158.3 545.1h0M159.0 545.6h0M156.2 545.8h0M163.6 548.2h0M158.7 548.2h0M161.4 544.5h0M153.6 548.9h0M160.3 546.6h0M152.8 546.2h0M151.1 547.2h0M156.8 546.1h0M160.1 549.8h0M163.1 545.1h0M156.3 547.1h0M152.6 542.5h0M153.1 550.3h0M154.7 549.9h0M162.5 550.5h0M152.9 547.1h0M156.6 547.4h0M158.5 545.8h0M161.9 544.2h0M160.7 545.1h0M156.9 538.0h0M145.9 562.2h0M149.9 536.5h0M176.0 535.6h0M191.1 552.8h0M176.7 554.6h0M181.8 540.1h0M155.4 534.6h0M184.3 550.7h0M164.1 546.2h0M129.1 545.2h0M143.9 534.1h0M187.5 538.7h0M141.0 536.5h0M150.4 552.0h0M134.8 535.5h0M168.1 540.7h0M168.6 536.3h0M147.8 535.4h0M181.4 522.7h0M156.0 545.5h0M180.9 549.3h0M172.6 546.0h0M155.8 548.5h0M156.8 562.8h0M186.0 543.1h0M186.1 530.0h0M180.0 545.1h0M153.8 532.1h0M167.4 533.0h0M151.1 531.3h0M139.2 542.1h0M129.6 543.7h0M202.4 536.1h0M194.2 535.8h0M144.7 554.4h0M152.0 543.6h0M133.0 533.8h0M155.6 538.2h0M148.3 531.9h0M174.9 538.7h0M156.7 539.6h0M161.7 539.1h0M175.3 526.6h0M184.3 537.9h0M164.8 527.6h0M167.0 528.0h0M165.8 551.7h0M162.9 538.2h0M160.5 554.8h0M163.1 537.4h0M199.9 536.8h0M157.9 549.9h0M150.5 549.5h0M177.1 546.2h0M140.0 541.3h0M133.3 546.3h0M119.8 551.2h0M128.4 536.4h0M132.8 545.9h0M133.0 541.4h0M123.5 537.8h0M134.8 531.1h0M134.6 541.2h0M149.6 548.1h0M152.3 553.3h0M121.6 538.3h0M150.5 550.3h0M138.3 542.8h0M124.7 549.3h0M128.4 547.0h0M137.5 543.2h0M107.9 554.0h0M131.7 558.6h0M115.8 545.2h0M128.7 545.4h0M136.6 534.7h0M155.5 548.9h0M132.0 535.7h0M142.7 541.6h0M204.9 529.9h0M185.6 530.4h0M190.6 539.8h0M186.1 527.9h0M170.8 536.0h0M178.1 542.8h0M191.0 534.2h0M172.2 518.3h0M154.2 526.3h0M165.0 531.0h0M183.9 547.0h0M174.4 518.5h0M191.3 549.0h0M192.5 539.7h0M179.5 540.4h0M220.4 499.5h0"/>
<line x1="93.10" y1="528.80" x2="126.30" y2="544.60" stroke="#231f20" stroke-width="0.75" />
<text x="70.60" y="531.20" font-size="8.2" text-anchor="start" fill="#222" textLength="22.94" lengthAdjust="spacingAndGlyphs">NRIP1</text>
<line x1="90.80" y1="569.60" x2="125.40" y2="556.20" stroke="#231f20" stroke-width="0.75" />
<text x="76.90" y="574.40" font-size="8.2" text-anchor="start" fill="#222" textLength="12.12" lengthAdjust="spacingAndGlyphs">ID2</text>
<line x1="114.90" y1="574.60" x2="130.20" y2="557.00" stroke="#231f20" stroke-width="0.75" />
<text x="92.60" y="581.50" font-size="8.2" text-anchor="start" fill="#222" textLength="26.41" lengthAdjust="spacingAndGlyphs">SOCS2</text>
<line x1="132.60" y1="571.50" x2="138.80" y2="556.20" stroke="#231f20" stroke-width="0.75" />
<text x="121.80" y="579.70" font-size="8.2" text-anchor="start" fill="#222" textLength="25.11" lengthAdjust="spacingAndGlyphs">FNBP1</text>
<line x1="153.00" y1="572.70" x2="147.80" y2="564.00" stroke="#231f20" stroke-width="0.75" />
<text x="153.00" y="579.60" font-size="8.2" text-anchor="start" fill="#222" textLength="35.94" lengthAdjust="spacingAndGlyphs">ANKRD26</text>
<line x1="197.10" y1="561.40" x2="156.40" y2="555.40" stroke="#231f20" stroke-width="0.75" />
<text x="198.00" y="564.90" font-size="8.2" text-anchor="start" fill="#222" textLength="12.12" lengthAdjust="spacingAndGlyphs">KIT</text>
<line x1="197.10" y1="570.10" x2="151.20" y2="564.40" stroke="#231f20" stroke-width="0.75" />
<text x="198.00" y="573.60" font-size="8.2" text-anchor="start" fill="#222" textLength="25.55" lengthAdjust="spacingAndGlyphs">DAPK1</text>
<rect x="47.70" y="470.90" width="197.90" height="128.10" fill="none" stroke="#231f20" stroke-width="1.25"/>
<line x1="44.70" y1="476.25" x2="47.70" y2="476.25" stroke="#231f20" stroke-width="1.0" />
<text x="41.70" y="479.15" font-size="8.3" text-anchor="end" fill="#222" textLength="8.59" lengthAdjust="spacingAndGlyphs">15</text>
<line x1="44.70" y1="499.75" x2="47.70" y2="499.75" stroke="#231f20" stroke-width="1.0" />
<text x="41.70" y="502.65" font-size="8.3" text-anchor="end" fill="#222" textLength="8.59" lengthAdjust="spacingAndGlyphs">10</text>
<line x1="44.70" y1="523.25" x2="47.70" y2="523.25" stroke="#231f20" stroke-width="1.0" />
<text x="41.70" y="526.15" font-size="8.3" text-anchor="end" fill="#222" textLength="4.29" lengthAdjust="spacingAndGlyphs">5</text>
<line x1="44.70" y1="546.75" x2="47.70" y2="546.75" stroke="#231f20" stroke-width="1.0" />
<text x="41.70" y="549.65" font-size="8.3" text-anchor="end" fill="#222" textLength="4.29" lengthAdjust="spacingAndGlyphs">0</text>
<line x1="44.70" y1="570.25" x2="47.70" y2="570.25" stroke="#231f20" stroke-width="1.0" />
<text x="41.70" y="573.15" font-size="8.3" text-anchor="end" fill="#222" textLength="8.8" lengthAdjust="spacingAndGlyphs">−5</text>
<line x1="44.70" y1="593.75" x2="47.70" y2="593.75" stroke="#231f20" stroke-width="1.0" />
<text x="41.70" y="596.65" font-size="8.3" text-anchor="end" fill="#222" textLength="13.09" lengthAdjust="spacingAndGlyphs">−10</text>
<line x1="56.90" y1="599.00" x2="56.90" y2="602.00" stroke="#231f20" stroke-width="1.0" />
<text x="54.90" y="613.00" font-size="8.3" text-anchor="middle" fill="#222" textLength="13.38" lengthAdjust="spacingAndGlyphs">−10</text>
<line x1="101.90" y1="599.00" x2="101.90" y2="602.00" stroke="#231f20" stroke-width="1.0" />
<text x="99.90" y="613.00" font-size="8.3" text-anchor="middle" fill="#222" textLength="8.99" lengthAdjust="spacingAndGlyphs">−5</text>
<line x1="146.90" y1="599.00" x2="146.90" y2="602.00" stroke="#231f20" stroke-width="1.0" />
<text x="146.90" y="613.00" font-size="8.3" text-anchor="middle" fill="#222" textLength="4.39" lengthAdjust="spacingAndGlyphs">0</text>
<line x1="191.90" y1="599.00" x2="191.90" y2="602.00" stroke="#231f20" stroke-width="1.0" />
<text x="191.90" y="613.00" font-size="8.3" text-anchor="middle" fill="#222" textLength="4.39" lengthAdjust="spacingAndGlyphs">5</text>
<line x1="236.90" y1="599.00" x2="236.90" y2="602.00" stroke="#231f20" stroke-width="1.0" />
<text x="236.90" y="613.00" font-size="8.3" text-anchor="middle" fill="#222" textLength="8.77" lengthAdjust="spacingAndGlyphs">10</text>
<text x="146.45" y="465.60" font-size="10.6" text-anchor="middle" fill="#222" textLength="175.8" lengthAdjust="spacingAndGlyphs">Cluster 1 overlap with primary cell DEG</text>
<text x="52.30" y="480.90" font-size="8.2" text-anchor="start" fill="#222">42/404</text>
<text x="52.30" y="490.50" font-size="8.2" fill="#222" text-anchor="start">(<tspan font-style="italic">P</tspan> = 2.46e-04)</text>
<text x="241.20" y="480.90" font-size="8.2" text-anchor="end" fill="#222">54/1119</text>
<text x="241.20" y="490.50" font-size="8.2" fill="#222" text-anchor="end">(<tspan font-style="italic">P</tspan> = 0.962)</text>
<text x="52.30" y="586.20" font-size="8.2" text-anchor="start" fill="#222">153/1244</text>
<text x="52.30" y="595.80" font-size="8.2" fill="#222" text-anchor="start">(<tspan font-style="italic">P</tspan> = 3.93e-18)</text>
<text x="241.20" y="586.00" font-size="8.2" text-anchor="end" fill="#222">54/223</text>
<text x="241.20" y="595.60" font-size="8.2" fill="#222" text-anchor="end">(<tspan font-style="italic">P</tspan> = 1.33e-19)</text>
<text x="145.50" y="628.50" font-size="10.2" text-anchor="middle" fill="#222" textLength="37.3" lengthAdjust="spacingAndGlyphs">ErP vs MEP</text>
<text x="147.00" y="639.30" font-size="10.2" text-anchor="middle" fill="#222" textLength="68.3" lengthAdjust="spacingAndGlyphs">expression (log2FC)</text>
<text x="16.00" y="535.40" font-size="10.0" text-anchor="middle" fill="#222" textLength="41.7" lengthAdjust="spacingAndGlyphs" transform="rotate(-90 16.00 535.40)">MkP vs MEP</text>
<text x="27.00" y="534.00" font-size="10.0" text-anchor="middle" fill="#222" textLength="68.5" lengthAdjust="spacingAndGlyphs" transform="rotate(-90 27.00 534.00)">expression (log2FC)</text>
<line x1="6.90" y1="490.80" x2="6.90" y2="480.30" stroke="#3aa04a" stroke-width="1.1" />
<path d="M4.80,481.40 L9.00,481.40 L6.90,477.80 Z" fill="#3aa04a"/>
<text x="10.50" y="486.90" font-size="8.1" text-anchor="start" fill="#222">MkP</text>
<line x1="6.90" y1="580.50" x2="6.90" y2="591.10" stroke="#3aa04a" stroke-width="1.1" />
<path d="M4.80,590.00 L9.00,590.00 L6.90,593.60 Z" fill="#3aa04a"/>
<text x="10.50" y="588.60" font-size="8.1" text-anchor="start" fill="#222">MkP</text>
<line x1="65.30" y1="618.60" x2="65.30" y2="629.30" stroke="#b0102a" stroke-width="1.1" />
<path d="M63.20,628.20 L67.40,628.20 L65.30,631.80 Z" fill="#b0102a"/>
<text x="68.50" y="628.00" font-size="8.0" text-anchor="start" fill="#222" textLength="12.67" lengthAdjust="spacingAndGlyphs">ErP</text>
<line x1="206.50" y1="631.80" x2="206.50" y2="621.10" stroke="#b0102a" stroke-width="1.1" />
<path d="M204.40,622.20 L208.60,622.20 L206.50,618.60 Z" fill="#b0102a"/>
<text x="209.10" y="628.00" font-size="8.0" text-anchor="start" fill="#222" textLength="12.67" lengthAdjust="spacingAndGlyphs">ErP</text>
<path stroke="#c3d0dc" stroke-opacity="0.9" stroke-width="1.8" stroke-linecap="square" d="M363.3 552.9h0M398.0 552.4h0M364.6 563.3h0M402.6 548.5h0M373.6 557.3h0M334.7 549.3h0M367.8 548.8h0M419.7 548.9h0M385.0 538.4h0M383.8 546.1h0M363.4 556.8h0M353.5 539.6h0M415.6 549.8h0M386.4 550.3h0M447.6 533.8h0M387.7 539.6h0M419.5 553.8h0M404.5 539.3h0M391.7 538.3h0M417.2 544.0h0M383.7 537.3h0M395.0 541.4h0M433.8 539.6h0M390.4 557.9h0M399.6 541.6h0M404.7 539.5h0M407.1 542.3h0M395.0 539.7h0M377.3 555.1h0M370.8 545.4h0M354.2 551.7h0M388.0 542.6h0M370.0 545.8h0M392.9 550.2h0M393.5 546.8h0M368.3 549.7h0M372.8 528.7h0M387.1 551.4h0M361.2 547.0h0M399.9 544.5h0M362.9 556.3h0M368.9 544.7h0M374.1 547.0h0M430.3 560.6h0M386.5 545.8h0M359.8 537.2h0M386.3 542.1h0M404.4 531.5h0M378.1 551.8h0M364.8 558.3h0M430.7 547.5h0M354.9 540.8h0M429.8 552.3h0M391.0 558.3h0M348.9 549.3h0M366.5 557.7h0M392.2 541.6h0M387.3 533.7h0M378.0 549.3h0M410.8 523.4h0M435.3 534.2h0M394.8 557.8h0M423.5 544.5h0M442.0 542.2h0M349.7 537.1h0M395.5 550.3h0M395.2 545.1h0M398.2 561.8h0M392.4 541.2h0M365.0 534.6h0M388.4 564.8h0M426.4 547.1h0M392.9 547.2h0M433.9 542.8h0M376.8 552.2h0M404.4 539.0h0M377.5 537.2h0M377.1 544.6h0M403.6 542.0h0M397.8 542.3h0M381.1 543.8h0M399.3 556.6h0M361.0 544.0h0M391.3 543.7h0M408.1 540.9h0M380.3 540.9h0M376.7 529.9h0M414.5 544.0h0M377.9 541.4h0M388.5 552.6h0M403.2 543.7h0M410.6 546.0h0M433.5 526.8h0M357.8 566.1h0M371.6 531.9h0M406.3 543.2h0M398.1 556.3h0M396.1 554.5h0M397.1 548.1h0M380.9 550.6h0M404.9 526.6h0M355.1 540.4h0M383.5 531.3h0M416.2 551.7h0M394.0 531.7h0M427.9 549.0h0M370.4 543.6h0M421.0 534.9h0M399.2 539.8h0M403.5 544.0h0M372.6 539.6h0M401.2 536.5h0M391.4 550.0h0M408.2 536.3h0M430.6 555.7h0M382.3 548.0h0M438.4 564.3h0M412.3 551.5h0M369.6 538.5h0M408.4 574.1h0M365.2 546.7h0M380.9 535.5h0M373.9 548.8h0M344.5 542.8h0M392.4 538.6h0M376.5 529.1h0M377.6 529.9h0M430.7 552.0h0M395.7 551.4h0M352.6 542.4h0M391.7 533.0h0M425.6 559.9h0M384.5 542.3h0M409.4 543.3h0M374.1 548.9h0M404.9 557.3h0M361.6 559.5h0M376.1 534.6h0M380.3 540.1h0M419.5 533.4h0M395.3 547.0h0M389.3 549.2h0M374.5 542.6h0M409.7 550.6h0M370.7 547.5h0M390.4 538.8h0M394.3 545.0h0M357.3 552.3h0M382.9 552.6h0M399.6 545.6h0M373.2 543.2h0M414.5 522.9h0M388.4 550.8h0M408.3 529.5h0M378.2 540.8h0M385.4 538.1h0M375.1 550.9h0M384.4 548.0h0M363.0 550.0h0M372.5 529.7h0M419.3 550.3h0M379.8 543.4h0M378.3 552.0h0M404.5 535.1h0M400.4 532.5h0M391.1 547.2h0M381.4 550.8h0M372.9 533.9h0M409.2 546.6h0M391.5 554.5h0M403.3 547.3h0M386.3 549.4h0M357.8 553.2h0M422.4 552.5h0M370.1 549.8h0M369.5 556.8h0M364.7 556.7h0M389.4 568.0h0M358.8 560.7h0M389.6 555.1h0M397.6 553.9h0M412.0 561.7h0M428.7 556.3h0M381.9 556.6h0M383.5 533.2h0M406.8 550.5h0M399.8 530.0h0M403.3 548.6h0M397.7 541.9h0M352.2 553.5h0M391.5 529.1h0M405.1 543.2h0M356.1 552.2h0M358.0 547.0h0M377.5 539.4h0M389.5 546.0h0M397.0 537.2h0M383.0 551.4h0M393.6 517.0h0M377.9 554.3h0M398.0 560.0h0M402.2 556.2h0M383.6 549.0h0M371.5 542.8h0M390.1 536.9h0M402.5 549.6h0M405.6 539.5h0M393.2 543.9h0M414.1 550.8h0M417.1 542.5h0M402.3 535.6h0M447.1 551.7h0M360.7 537.5h0M382.1 546.1h0M359.0 537.4h0M396.9 560.3h0M412.0 545.4h0M379.2 563.0h0M429.7 552.5h0M404.6 551.2h0M369.3 537.9h0M404.4 539.6h0M380.8 541.7h0M403.3 532.6h0M388.2 542.9h0M406.4 566.7h0M396.3 531.4h0M404.1 541.8h0M406.8 533.4h0M353.5 554.1h0M371.4 560.1h0M411.1 553.6h0M392.9 540.2h0M415.7 558.2h0M358.5 565.9h0M398.9 554.3h0M399.8 536.2h0M430.2 553.5h0M393.5 545.6h0M346.1 541.4h0M420.6 556.6h0M404.2 542.4h0M394.4 555.6h0M367.8 525.3h0M415.7 543.3h0M415.7 554.4h0M404.1 550.0h0M335.2 558.4h0M406.3 537.6h0M403.7 545.4h0M396.2 561.0h0M387.7 517.5h0M393.1 550.6h0M435.5 544.7h0M385.7 545.8h0M397.0 557.7h0M390.6 549.7h0M352.0 545.7h0M389.1 551.6h0M379.5 537.3h0M327.8 541.9h0M392.0 546.0h0M382.2 549.7h0M408.3 553.6h0M428.8 556.2h0M402.9 547.5h0M425.1 537.7h0M354.3 544.2h0M370.0 543.5h0M388.8 554.9h0M369.1 546.7h0M387.1 549.2h0M363.2 544.4h0M372.4 565.4h0M352.8 530.4h0M384.7 555.0h0M371.9 550.2h0M388.1 547.7h0M407.2 550.3h0M400.0 545.0h0M381.9 540.1h0M401.9 553.0h0M406.0 548.8h0M361.1 528.2h0M422.9 561.3h0M397.0 543.2h0M384.2 554.2h0M398.4 542.9h0M382.7 539.0h0M357.4 571.8h0M409.6 530.2h0M354.9 558.2h0M438.9 544.4h0M414.8 533.2h0M394.1 554.7h0M426.7 540.8h0M365.5 558.6h0M392.2 561.1h0M440.4 537.2h0M410.3 547.2h0M402.2 566.8h0M373.1 543.2h0M360.7 557.2h0M362.4 539.7h0M411.0 547.3h0M400.9 548.1h0M356.9 557.4h0M376.3 542.3h0M387.3 537.2h0M373.7 540.5h0M392.0 533.1h0M393.8 538.4h0M344.6 543.8h0M388.7 540.0h0M395.3 557.9h0M433.1 526.3h0M400.3 532.7h0M393.8 528.1h0M370.1 537.2h0M400.4 559.4h0M384.1 538.8h0M368.0 552.7h0M389.1 549.4h0M392.4 545.5h0M395.4 551.0h0M391.2 556.2h0M420.4 548.0h0M396.5 549.1h0M407.5 550.7h0M432.1 538.8h0M394.1 532.0h0M414.0 543.5h0M367.9 544.8h0M399.1 552.2h0M401.7 548.2h0M408.3 546.5h0M369.2 566.5h0M373.0 563.4h0M439.0 530.5h0M422.3 540.6h0M407.5 559.3h0M386.7 558.7h0M406.2 545.5h0M424.0 553.2h0M399.5 535.6h0M379.6 544.3h0M416.4 559.3h0M390.9 548.3h0M384.6 567.5h0M380.9 567.7h0M423.5 547.7h0M390.0 553.8h0M393.5 553.7h0M389.0 537.5h0M388.7 543.5h0M401.1 539.2h0M391.8 543.9h0M387.3 563.5h0M374.0 533.8h0M394.5 547.3h0M365.1 552.7h0M412.7 526.8h0M400.0 556.3h0M351.1 551.9h0M432.3 536.9h0M372.7 548.0h0M389.2 534.2h0M423.5 533.7h0M352.2 537.0h0M427.6 548.8h0M403.5 540.7h0M355.7 564.0h0M376.5 552.9h0M399.6 555.1h0M370.8 552.4h0M419.3 548.2h0M415.0 536.1h0M380.1 543.1h0M373.9 546.5h0M405.4 547.1h0M388.8 546.2h0M380.5 533.5h0M359.1 547.5h0M364.2 553.0h0M388.9 524.6h0M387.9 547.8h0M397.6 550.4h0M363.9 540.4h0M401.5 548.7h0M383.5 535.4h0M380.9 555.9h0M373.3 574.4h0M411.0 540.9h0M401.4 561.8h0M409.7 547.2h0M391.1 531.9h0M409.1 559.7h0M379.8 547.5h0M385.7 553.0h0M392.3 545.6h0M379.6 538.8h0M368.4 549.9h0M360.4 548.4h0M406.8 529.6h0M372.0 561.9h0M366.1 551.7h0M407.4 556.7h0M386.6 527.3h0M397.1 538.4h0M401.9 554.4h0M417.5 528.0h0M387.4 547.0h0M379.7 539.3h0M384.5 531.4h0M392.1 541.9h0M408.8 554.4h0M346.4 545.3h0M373.5 563.4h0M381.6 539.4h0M378.9 537.2h0M378.2 549.4h0M344.2 557.3h0M390.9 546.7h0M360.8 545.4h0M453.7 532.9h0M397.2 557.2h0M360.3 548.9h0M368.5 539.5h0M371.0 547.2h0M383.5 545.6h0M378.7 550.9h0M389.7 540.5h0M390.9 556.2h0M368.3 552.4h0M373.5 551.4h0M388.7 529.9h0M388.9 551.3h0M403.5 538.3h0M396.0 553.3h0M394.4 535.8h0M360.5 547.4h0M381.7 537.7h0M427.1 545.5h0M395.8 534.6h0M425.8 522.5h0M387.7 524.6h0M394.1 539.1h0M380.4 539.4h0M378.9 538.6h0M382.1 543.8h0M367.9 557.4h0M392.8 540.7h0M404.3 543.8h0M360.9 548.8h0M428.0 550.4h0M399.9 539.2h0M393.6 542.3h0M417.5 542.4h0M448.1 550.0h0M407.1 543.9h0M365.4 532.2h0M409.6 538.8h0M417.3 556.1h0M402.0 534.9h0M386.2 550.5h0M412.0 555.5h0M377.9 540.2h0M430.4 533.0h0M401.2 533.6h0M381.5 558.4h0M395.9 552.8h0M383.5 551.8h0M381.6 561.5h0M356.8 544.3h0M389.2 547.4h0M394.4 539.4h0M376.2 563.1h0M396.9 524.3h0M398.4 536.0h0M401.2 551.5h0M395.0 547.8h0M380.2 529.0h0M384.7 550.1h0M364.5 546.5h0M440.2 539.3h0M439.9 539.9h0M380.2 559.3h0M379.8 541.3h0M337.6 547.6h0M411.2 538.7h0M345.4 563.6h0M376.1 568.5h0M383.8 555.7h0M396.6 546.6h0M390.9 547.4h0M396.8 543.9h0M354.3 542.5h0M399.4 557.9h0M378.7 540.7h0M372.4 544.4h0M359.9 548.6h0M432.5 531.8h0M420.9 530.3h0M392.8 545.6h0M409.6 546.9h0M362.2 537.1h0M416.7 538.2h0M407.6 552.9h0M403.2 544.4h0M401.1 549.6h0M382.5 559.2h0M395.6 558.9h0M353.1 551.7h0M388.1 552.6h0M416.7 538.9h0M362.4 553.6h0M374.6 520.1h0M372.4 552.4h0M397.5 540.2h0M386.2 531.9h0M357.2 538.6h0M373.6 530.3h0M422.5 546.7h0M396.0 553.0h0M370.3 544.6h0M343.8 533.6h0M363.0 526.1h0M389.0 553.3h0M370.0 542.8h0M340.3 542.7h0M374.3 555.0h0M373.8 551.0h0M405.6 538.2h0M404.5 560.7h0M421.0 541.4h0M394.1 558.8h0M408.7 547.1h0M401.9 537.0h0M433.0 540.8h0M361.0 542.7h0M364.5 547.4h0M363.8 535.7h0M437.2 564.5h0M368.8 551.2h0M341.3 558.3h0M389.1 544.5h0M348.1 548.5h0M403.2 538.4h0M369.7 556.4h0M373.1 533.0h0M406.2 558.1h0M399.0 549.0h0M371.9 541.8h0M385.3 536.5h0M423.3 550.6h0M403.2 531.7h0M381.4 552.1h0M384.5 542.0h0M357.1 543.0h0M379.9 539.8h0M392.9 520.3h0M390.9 535.7h0M393.9 534.8h0M399.3 564.0h0M347.3 558.5h0M383.0 532.3h0M379.6 541.0h0M379.2 542.6h0M381.9 550.3h0M382.1 561.1h0M411.8 543.5h0M372.9 557.8h0M388.2 547.1h0M390.6 550.9h0M426.7 542.2h0M377.9 544.0h0M404.3 538.0h0M387.9 548.0h0M367.3 548.2h0M406.7 552.1h0M405.8 534.2h0M399.1 543.1h0M413.1 551.9h0M382.0 541.1h0M404.7 537.4h0M345.4 537.4h0M369.8 545.2h0M372.7 546.7h0M369.4 547.0h0M397.0 536.8h0M392.4 549.7h0M352.1 561.1h0M370.6 552.3h0M414.4 555.7h0M390.4 545.5h0M411.1 550.0h0M389.9 544.9h0M397.8 530.5h0M380.9 549.6h0M392.8 562.2h0M416.0 537.4h0M380.2 538.4h0M384.6 534.8h0M437.3 530.7h0M429.2 521.6h0M412.8 543.1h0M381.4 517.8h0M342.3 516.7h0M383.4 542.9h0M385.2 543.7h0M378.1 546.0h0M393.1 540.5h0M360.8 521.1h0M361.2 550.4h0M401.8 554.0h0M388.9 547.3h0M350.5 550.8h0M384.0 542.5h0M423.8 552.3h0M386.5 541.8h0M372.7 539.5h0M387.7 527.6h0M354.5 554.2h0M340.5 551.9h0M374.2 555.0h0M348.5 546.5h0M371.1 555.2h0M413.2 527.9h0M361.4 571.3h0M378.8 542.9h0M409.2 542.1h0M374.6 546.7h0M388.6 552.0h0M401.7 547.9h0M395.4 541.3h0M401.6 564.1h0M385.0 552.6h0M408.4 557.3h0M389.9 525.6h0M392.2 553.2h0M388.1 546.2h0M397.7 543.0h0M400.6 554.7h0M352.3 560.3h0M388.2 540.9h0M386.5 524.1h0M388.0 543.4h0M410.1 540.9h0M402.7 549.5h0M394.4 554.4h0M420.1 546.1h0M392.3 537.4h0M369.5 548.8h0M339.4 541.5h0M410.7 542.7h0M389.6 566.1h0M405.8 551.5h0M362.0 532.1h0M342.6 559.0h0M417.8 533.2h0M381.6 576.3h0M390.8 533.1h0M405.0 553.4h0M414.2 534.5h0M397.5 540.6h0M415.1 544.9h0M440.9 548.7h0M400.5 539.9h0M391.9 551.6h0M398.5 542.9h0M422.5 558.6h0M405.5 551.8h0M392.9 534.1h0M405.5 543.8h0M446.9 557.6h0M380.1 541.6h0M355.0 561.0h0M366.6 551.8h0M373.5 559.6h0M385.5 538.0h0M366.9 545.5h0M405.0 545.5h0M418.0 542.7h0M442.0 546.8h0M437.4 517.0h0M405.0 549.1h0M391.5 539.5h0M363.5 546.0h0M397.1 534.8h0M378.6 547.4h0M384.5 550.1h0M377.3 545.0h0M408.4 535.3h0M400.3 556.0h0M400.0 540.9h0M409.6 553.8h0M387.3 536.8h0M408.3 535.1h0M428.6 543.1h0M397.5 537.2h0M398.3 546.1h0M374.3 535.6h0M363.3 560.2h0M400.4 554.8h0M393.7 552.5h0M400.4 562.6h0M427.7 542.4h0M384.4 542.4h0M401.4 539.4h0M407.2 562.2h0M377.1 552.9h0M388.6 539.6h0M412.2 540.0h0M367.5 560.8h0M392.4 565.1h0M358.7 554.2h0M368.5 556.5h0M392.3 549.9h0M405.6 543.6h0M371.9 540.8h0M419.6 538.5h0M377.0 552.7h0M404.2 549.7h0M360.0 524.5h0M390.7 539.6h0M410.5 541.7h0M373.4 551.5h0M362.3 552.5h0M323.4 560.1h0M390.8 549.5h0M420.0 552.2h0M396.0 564.0h0M400.3 550.9h0M365.1 539.2h0M354.3 549.8h0M360.2 541.6h0M377.3 540.4h0M375.4 554.3h0M375.6 539.1h0M376.5 541.0h0M370.7 538.6h0M404.3 538.1h0M379.3 553.8h0M395.4 553.0h0M367.8 544.5h0M378.5 536.8h0M431.1 556.3h0M420.0 533.0h0M373.5 554.8h0M395.6 538.4h0M380.0 544.5h0M422.7 558.3h0M399.4 545.9h0M420.6 523.5h0M376.0 550.0h0M386.4 558.5h0M383.9 565.3h0M392.2 538.1h0M361.7 567.9h0M361.9 550.0h0M386.3 546.0h0M411.9 551.9h0M393.9 541.9h0M354.0 541.4h0M410.5 559.7h0M421.7 547.7h0M388.6 539.7h0M368.6 551.6h0M402.3 522.7h0M403.8 542.7h0M399.8 534.8h0M388.1 552.4h0M399.2 530.8h0M411.4 550.8h0M415.1 551.6h0M373.9 545.8h0M393.1 536.7h0M418.6 551.3h0M391.0 565.3h0M401.7 552.0h0M392.7 543.9h0M384.5 550.9h0M398.7 562.9h0M412.8 529.6h0M380.3 536.0h0M394.4 547.8h0M393.4 538.5h0M414.4 561.9h0M380.8 544.9h0M399.2 552.4h0M348.0 563.3h0M393.6 558.9h0M370.8 554.1h0M368.1 549.3h0M379.9 566.9h0M406.4 543.8h0M368.7 562.2h0M370.5 551.1h0M393.4 532.3h0M406.3 542.7h0M415.4 545.3h0M397.3 538.7h0M436.6 521.3h0M421.5 522.4h0M390.5 541.4h0M394.2 522.2h0M398.8 536.7h0M391.2 520.4h0M394.5 540.0h0M387.4 537.6h0M415.2 529.5h0M412.3 549.0h0M401.0 523.1h0M407.4 529.8h0M403.5 523.5h0M399.6 531.3h0M411.1 545.0h0M432.3 529.4h0M427.1 520.6h0M385.4 531.1h0M383.8 518.7h0M403.7 528.4h0M379.7 541.8h0M409.0 519.6h0M404.6 539.2h0M415.4 541.0h0M391.3 535.2h0M411.5 548.2h0M392.3 529.6h0M408.7 543.0h0M406.7 530.6h0M431.2 547.4h0M423.9 564.0h0M371.1 526.8h0M396.3 540.8h0M396.5 526.7h0M399.8 526.2h0M382.6 514.1h0M425.0 527.5h0M408.7 553.3h0M438.6 525.7h0M395.8 519.9h0M377.8 548.0h0M432.3 540.4h0M414.7 524.9h0M404.3 528.9h0M406.2 525.8h0M430.8 533.3h0M438.3 550.3h0M424.8 545.8h0M396.5 526.8h0M376.1 525.6h0M399.5 521.5h0M407.9 538.0h0M403.8 536.0h0M405.4 516.9h0M385.5 562.7h0M385.4 555.1h0M409.7 541.0h0M410.8 533.6h0M405.2 545.2h0M407.5 523.5h0M401.9 558.5h0M370.0 533.3h0M389.0 515.8h0M431.9 537.4h0M396.6 527.8h0M427.7 515.8h0M411.8 540.2h0M430.4 511.5h0M416.2 544.5h0M438.4 527.9h0M406.2 520.1h0M420.1 511.8h0M403.6 535.3h0M400.1 541.4h0M407.9 542.1h0M380.9 540.1h0M400.6 529.7h0M401.5 531.2h0M413.0 541.5h0M426.6 530.8h0M381.7 529.7h0M400.1 533.1h0M454.8 527.9h0M391.0 541.0h0M410.9 515.6h0M415.9 546.7h0M410.3 523.9h0M417.3 541.4h0M404.4 535.5h0M374.6 548.6h0M428.7 547.6h0M394.5 527.7h0M387.6 534.9h0M393.4 543.0h0M449.2 543.1h0M380.9 530.0h0M442.9 547.2h0M391.1 532.3h0M411.8 532.8h0M396.7 534.4h0M371.8 532.1h0M398.1 522.0h0M425.0 535.7h0M422.0 558.3h0M402.0 526.0h0M407.7 546.5h0M407.0 524.0h0M396.6 543.3h0M399.5 542.5h0M404.4 524.0h0M410.6 539.7h0M410.4 529.0h0M390.5 555.9h0M401.6 501.6h0M397.6 545.9h0M372.9 530.7h0M382.2 546.3h0M416.2 519.5h0M411.2 542.0h0M402.3 525.5h0M413.7 523.8h0M406.2 531.4h0M389.5 530.7h0M395.6 540.8h0M415.8 535.1h0M398.6 533.8h0M389.9 532.6h0M394.3 532.2h0M387.3 523.9h0M402.2 525.3h0M420.0 524.6h0M411.7 516.4h0M393.3 534.4h0M375.3 562.3h0M386.3 536.4h0M388.2 544.7h0M428.3 531.3h0M429.5 524.8h0M390.8 542.0h0M386.1 551.7h0M392.4 532.8h0M423.4 528.4h0M403.3 535.8h0M428.0 537.6h0M402.4 520.9h0M400.1 547.6h0M383.9 519.1h0M402.9 569.5h0M387.5 526.3h0M419.2 526.2h0M422.0 555.4h0M413.8 538.4h0M397.3 518.7h0M417.7 536.8h0M414.2 524.6h0M399.9 527.8h0M417.4 527.5h0M430.1 543.8h0M414.6 546.4h0M388.0 538.2h0M400.8 527.7h0M428.2 529.4h0M392.6 528.1h0M410.2 534.2h0M429.3 518.1h0M382.2 532.1h0M384.5 550.2h0M427.6 547.0h0M395.1 547.9h0M417.3 516.7h0M377.0 542.2h0M436.2 512.9h0M413.6 536.2h0M440.0 542.2h0M421.0 529.5h0M371.8 539.9h0M411.2 538.6h0M419.2 550.2h0M442.4 520.1h0M402.2 529.1h0M400.8 551.1h0M417.6 533.4h0M411.0 524.8h0M435.0 540.6h0M439.0 534.5h0M438.6 534.1h0M376.5 538.8h0M373.7 534.5h0M419.4 530.3h0M418.5 515.0h0M428.5 530.1h0M431.8 537.7h0M405.0 540.8h0M401.1 533.5h0M401.0 533.6h0M396.2 522.8h0M404.5 542.7h0M407.1 547.3h0M392.0 550.7h0M439.2 530.9h0M437.3 535.5h0M411.8 553.6h0M412.8 522.5h0M360.4 535.9h0M429.1 545.2h0M377.2 528.9h0M397.4 548.1h0M411.1 510.2h0M425.6 526.7h0M391.1 549.1h0M395.0 529.3h0M391.8 518.1h0M444.0 539.1h0M387.2 528.9h0M413.7 526.0h0M427.2 523.2h0M400.5 528.4h0M389.1 528.9h0M448.9 514.8h0M422.8 521.1h0M414.3 532.9h0M414.2 512.9h0M422.5 545.1h0M414.7 548.5h0M410.7 541.2h0M424.4 554.6h0M405.0 515.8h0M420.9 525.3h0M431.6 531.4h0M409.6 512.4h0M391.7 552.5h0M407.9 540.4h0M408.5 520.7h0M421.0 531.1h0M400.7 543.5h0M397.8 525.8h0M413.2 539.6h0M428.4 545.4h0M414.7 520.4h0M381.6 533.3h0M391.3 549.8h0M433.5 526.8h0M408.2 519.5h0M445.0 518.0h0M414.0 531.7h0M411.9 530.7h0M450.2 526.5h0M385.1 533.4h0M408.0 533.8h0M399.4 544.2h0M400.3 547.6h0M424.6 547.2h0M420.6 533.6h0M430.2 535.6h0M461.3 513.2h0M397.1 526.8h0M380.7 526.9h0M387.2 535.1h0M421.3 538.2h0M395.4 518.5h0M413.9 539.9h0M412.1 536.5h0M418.5 546.1h0M382.2 543.2h0M394.0 536.9h0M401.9 530.0h0M380.4 520.0h0M407.9 502.0h0M393.3 544.5h0M395.2 546.8h0M418.6 534.3h0M428.3 537.6h0M383.0 552.4h0M446.2 528.6h0M420.3 526.7h0M411.5 526.3h0M429.4 513.2h0M403.6 545.4h0M422.1 536.9h0M404.6 535.3h0M401.5 521.6h0M418.4 514.0h0M374.7 521.0h0M418.6 520.9h0M402.9 545.7h0M398.0 527.8h0M408.1 526.5h0M387.3 550.9h0M444.7 523.7h0M401.9 531.4h0M405.6 529.9h0M420.5 545.6h0M411.5 528.6h0M418.4 520.1h0M367.9 546.8h0M410.7 536.7h0M383.6 539.1h0M400.9 531.8h0M400.0 528.1h0M439.1 538.8h0M393.8 529.5h0M428.0 538.8h0M423.6 539.2h0M396.9 524.2h0M421.0 531.3h0M421.2 525.6h0M403.2 549.2h0M388.9 539.2h0M427.5 536.5h0M405.9 548.1h0M423.0 535.8h0M392.2 542.7h0M403.9 548.1h0M409.0 517.2h0M401.5 544.1h0M417.4 527.9h0M407.9 535.4h0M411.0 512.0h0M420.0 524.6h0M425.3 510.7h0M404.1 524.5h0M446.3 539.7h0M407.7 542.7h0M401.9 538.1h0M377.6 544.4h0M412.2 538.1h0M420.5 523.7h0M402.3 535.2h0M403.2 522.2h0M422.1 536.4h0M418.7 525.0h0M441.3 504.0h0M426.3 524.3h0M386.8 540.5h0M426.7 518.2h0M390.3 537.6h0M380.9 543.1h0M366.6 537.0h0M422.2 527.4h0M376.5 513.6h0M387.0 510.1h0M407.8 518.0h0M414.0 522.1h0M440.7 544.0h0M391.9 544.6h0M376.9 518.3h0M394.9 550.1h0M391.3 527.6h0M405.0 538.3h0M393.4 518.0h0M418.7 522.6h0M390.7 541.4h0M420.9 533.3h0M404.1 510.0h0M416.2 543.4h0M384.4 541.7h0M417.6 542.1h0M359.4 558.6h0M379.3 540.9h0M402.8 536.6h0M424.9 528.7h0M402.7 528.4h0M407.6 515.8h0M374.8 532.8h0M388.2 553.3h0M412.1 554.0h0M404.0 541.5h0M402.6 541.5h0M403.1 549.0h0M383.8 533.1h0M420.6 502.5h0M410.5 546.7h0M419.2 534.9h0M427.8 527.9h0M418.5 527.9h0M379.3 546.9h0M440.3 507.6h0M416.6 529.2h0M423.4 537.4h0M432.8 524.8h0M390.3 534.7h0M434.3 535.4h0M373.7 535.8h0M405.5 526.9h0M386.4 540.8h0M423.1 530.0h0M407.3 547.4h0M413.5 525.9h0M412.0 540.6h0M404.1 527.7h0M396.8 518.8h0M384.6 536.9h0M413.0 539.0h0M391.8 541.5h0M418.9 543.8h0M408.1 511.7h0M374.1 550.7h0M400.2 529.3h0M376.4 513.9h0M423.9 532.7h0M425.2 543.9h0M420.6 536.0h0M422.0 526.1h0M409.1 547.4h0M387.7 529.7h0M407.1 523.4h0M392.6 513.8h0M427.3 505.1h0M370.0 548.1h0M358.9 530.7h0M401.0 532.3h0M374.8 539.9h0M433.2 541.5h0M405.5 517.3h0M394.7 516.6h0M444.7 539.7h0M407.1 551.9h0M416.2 520.2h0M417.5 552.1h0M387.9 552.7h0M406.7 506.7h0M410.4 532.4h0M412.2 537.5h0M374.6 526.8h0M428.6 538.4h0M402.2 523.9h0M438.6 529.1h0M401.2 535.5h0M418.9 531.7h0M406.9 545.4h0M426.5 522.5h0M414.0 519.1h0M443.8 525.4h0M396.7 527.2h0M402.1 520.5h0M393.9 543.0h0M419.9 507.4h0M430.5 534.8h0M414.9 523.5h0M426.6 524.4h0M421.4 534.3h0M363.5 529.7h0M421.0 510.4h0M419.6 538.0h0M410.3 536.5h0M423.3 521.5h0M413.6 531.5h0M381.3 542.9h0M370.4 561.0h0M377.3 549.9h0M381.2 553.1h0M380.4 555.8h0M347.1 553.7h0M370.3 561.1h0M366.3 554.8h0M356.5 543.5h0M371.8 555.7h0M373.6 564.5h0M356.6 554.0h0M395.7 552.5h0M383.9 551.4h0M365.2 546.5h0M371.0 557.1h0M374.9 541.7h0M370.3 546.1h0M359.6 554.5h0M360.6 556.6h0M384.3 552.2h0M370.3 543.7h0M396.8 559.7h0M349.5 549.0h0M386.2 548.9h0M379.5 545.0h0M362.1 548.1h0M358.1 560.4h0M343.6 565.5h0M376.2 552.8h0M361.2 547.6h0M369.9 557.8h0M382.0 549.6h0M364.3 550.0h0M364.0 553.3h0M367.8 560.8h0M358.3 546.5h0M363.8 550.9h0M363.8 551.0h0M356.4 544.0h0M361.5 548.5h0M369.0 551.7h0M358.7 551.7h0M359.9 549.7h0M387.6 560.0h0M358.6 553.5h0M359.5 549.1h0M385.8 551.1h0M374.8 555.8h0M364.9 548.3h0M364.9 550.4h0M352.9 551.8h0M377.3 558.3h0M363.5 549.1h0M369.1 554.4h0M373.1 551.1h0M359.3 546.0h0M365.9 555.0h0M363.2 556.4h0M364.4 548.7h0M359.7 555.3h0M368.7 562.1h0M356.6 554.8h0M370.6 563.8h0M356.5 554.8h0M370.5 548.6h0M345.2 553.5h0M363.7 569.9h0M380.8 554.0h0M376.3 558.4h0M359.7 549.1h0M364.4 549.3h0M347.8 546.4h0M389.9 550.8h0M354.0 565.4h0M351.6 555.0h0M363.7 561.6h0M344.9 550.7h0M356.7 545.2h0M362.5 553.3h0M362.0 556.4h0M350.4 567.4h0M385.5 562.2h0M372.1 553.8h0M392.8 556.8h0M371.7 552.4h0M374.4 560.0h0M372.5 546.7h0M377.9 566.9h0M351.0 546.6h0M360.4 558.6h0M387.7 558.9h0M361.7 558.6h0M370.6 556.9h0M380.3 551.9h0M351.7 560.3h0M389.0 553.0h0M363.1 552.7h0M362.9 548.8h0M383.3 555.4h0M390.0 555.5h0M375.8 551.9h0M354.3 549.9h0M380.6 575.1h0M371.3 539.3h0M396.6 552.5h0M360.1 557.4h0M361.7 552.2h0M364.5 550.6h0M383.4 550.5h0M367.2 556.4h0M360.5 559.0h0M357.5 546.1h0M335.7 557.2h0M365.0 560.0h0M367.3 555.1h0M390.9 550.3h0M371.2 549.8h0M393.5 551.2h0M376.9 554.5h0M366.3 564.9h0M368.6 548.0h0M370.6 542.5h0M364.7 558.9h0M365.5 561.8h0M351.1 560.6h0M367.1 555.7h0M405.1 554.7h0M371.2 556.0h0M374.0 557.0h0M359.7 547.1h0M366.6 547.0h0M364.3 560.2h0M363.9 563.6h0M380.1 554.2h0M372.0 558.8h0M373.8 557.5h0M365.8 557.1h0M371.5 558.4h0M367.8 554.1h0M356.7 549.6h0M371.5 567.1h0M378.7 555.9h0M366.6 559.8h0M366.7 559.9h0M372.3 552.3h0M369.8 544.2h0M342.8 557.0h0M355.7 561.7h0M366.6 556.8h0M379.7 554.9h0M377.8 552.8h0M361.6 548.7h0M358.8 544.3h0M366.1 549.3h0M350.5 545.0h0M373.8 554.4h0M380.4 556.6h0M348.0 546.8h0M383.9 561.3h0M369.7 547.5h0M346.2 554.8h0M376.6 552.8h0M353.7 558.9h0M363.3 555.2h0M366.5 549.9h0M358.1 564.8h0M359.9 556.6h0M365.8 560.8h0M366.3 547.9h0M351.9 550.8h0M367.9 554.0h0M360.5 544.2h0M357.2 551.2h0M375.7 546.3h0M352.3 563.1h0M380.3 548.9h0M367.0 551.8h0M353.4 569.4h0M374.2 553.3h0M388.5 551.9h0M357.2 564.7h0M373.3 544.9h0M377.1 544.2h0M371.7 553.7h0M346.8 560.9h0M354.0 561.5h0M378.7 569.4h0M354.4 540.9h0M384.5 552.6h0M343.5 562.4h0M376.1 555.6h0M352.3 560.2h0M365.1 554.8h0M380.6 555.1h0M373.1 564.7h0M369.3 553.1h0M368.2 563.7h0M355.0 544.9h0M385.0 552.4h0M389.6 560.7h0M402.3 554.4h0M356.7 548.4h0M364.5 551.7h0M352.0 563.5h0M363.6 555.5h0M369.3 565.7h0M376.0 547.3h0M370.5 552.1h0M391.2 548.0h0M412.0 546.8h0M357.9 548.5h0M374.7 546.7h0M378.2 554.1h0M371.5 559.1h0M356.0 549.0h0M365.4 556.9h0M377.6 553.2h0M383.0 558.0h0M371.4 546.0h0M373.7 543.7h0M378.5 550.8h0M336.6 550.2h0M365.7 549.1h0M368.0 548.4h0M378.6 555.2h0M337.3 544.9h0M370.1 553.9h0M353.1 550.6h0M370.4 556.8h0M350.3 543.7h0M371.7 553.9h0M377.9 554.8h0M363.8 552.4h0M361.7 551.6h0M370.7 548.6h0M377.7 550.9h0M373.8 549.1h0M372.3 555.0h0M368.0 551.4h0M359.3 556.5h0M349.6 554.1h0M355.5 565.8h0M325.3 559.5h0M374.7 553.1h0M364.0 552.3h0M373.9 545.3h0M374.6 559.0h0M378.9 537.3h0M361.1 559.0h0M359.1 551.9h0M378.3 528.6h0M453.4 562.3h0M410.5 541.2h0M435.2 547.5h0M423.5 546.4h0M385.2 561.0h0M412.9 537.1h0M400.3 544.3h0M428.6 548.4h0M465.6 542.0h0M414.0 548.7h0M385.7 545.9h0M387.7 526.0h0M418.5 571.8h0M404.1 523.2h0M362.2 547.5h0M461.6 559.8h0M376.5 544.7h0M403.0 569.2h0M393.7 525.3h0M377.0 549.5h0M455.7 541.6h0M369.0 535.0h0M412.5 524.1h0M406.4 560.6h0M419.3 547.4h0M407.0 511.2h0M389.2 545.1h0M404.3 534.5h0M445.3 537.3h0M344.8 533.8h0M359.6 556.4h0M404.8 537.6h0M378.2 508.7h0M318.1 533.3h0M369.6 556.0h0M387.1 551.8h0M449.5 533.5h0M412.9 548.7h0M370.2 522.2h0M428.8 527.2h0M450.2 548.0h0M406.5 534.0h0M408.8 539.2h0M319.9 559.0h0M350.5 542.6h0M444.6 541.1h0M428.2 522.5h0M436.2 519.7h0M370.0 553.7h0M368.8 539.1h0M463.4 545.1h0M331.6 563.9h0M461.9 539.2h0M418.6 549.8h0M420.9 549.2h0M406.8 552.4h0M344.7 535.2h0M389.1 540.4h0M391.0 526.1h0M396.3 532.1h0M442.8 556.3h0M418.8 548.5h0M432.8 563.9h0M399.2 574.5h0M370.5 546.1h0M411.5 545.0h0M409.7 549.1h0M401.1 563.6h0M349.7 543.2h0M436.0 556.3h0M379.7 553.4h0M378.3 556.6h0M386.2 547.5h0M422.9 552.0h0M433.1 523.5h0M331.1 548.8h0M364.9 537.4h0M406.5 541.1h0M375.0 536.4h0M433.0 545.9h0M345.7 567.0h0M379.7 536.4h0M419.5 542.3h0M349.5 554.6h0M361.6 572.1h0M438.1 529.1h0M452.1 528.6h0M424.0 531.8h0M342.8 544.7h0M353.4 544.7h0M386.1 545.0h0M424.6 564.9h0M356.3 537.3h0M416.0 528.8h0M392.8 522.5h0M407.5 514.4h0M342.8 556.5h0M348.4 550.3h0M458.2 547.2h0M420.1 532.5h0M417.0 549.2h0M428.2 551.5h0M407.8 527.9h0M420.7 511.9h0M472.7 518.0h0M449.3 547.3h0M399.5 550.2h0M351.3 548.8h0M443.7 526.6h0M411.3 507.0h0M457.1 530.8h0M378.4 557.0h0M347.2 536.9h0M379.4 535.2h0M364.1 550.5h0M414.3 553.8h0M342.5 549.5h0M425.0 543.0h0M387.9 542.1h0"/>
<path stroke="#8fb1cc" stroke-opacity="0.75" stroke-width="1.7" stroke-linecap="square" d="M339.8 553.4h0M368.5 549.4h0M390.3 550.8h0M380.3 552.4h0M369.3 550.2h0M360.3 546.3h0M377.5 547.2h0M372.7 554.9h0M354.1 557.8h0M370.2 548.3h0M378.8 552.1h0M379.0 548.4h0M358.2 551.8h0M374.9 548.2h0M370.6 556.2h0M356.0 557.2h0M365.1 550.0h0M357.2 543.6h0M374.6 556.2h0M374.7 550.5h0M376.6 547.8h0M367.1 542.1h0M363.9 556.1h0M347.9 554.9h0M356.7 552.9h0M356.2 554.0h0M347.6 552.2h0M360.1 546.6h0M350.3 557.3h0M386.6 547.9h0M365.7 556.6h0M380.1 552.2h0M357.1 554.4h0M338.4 557.9h0M359.5 556.9h0M369.5 550.7h0M368.3 551.9h0M378.0 556.3h0M362.9 547.3h0M363.7 559.5h0M386.3 548.1h0M379.2 546.5h0M367.1 548.6h0M356.6 550.2h0M331.5 550.5h0M362.3 553.3h0M352.6 551.7h0M378.9 550.3h0M358.6 554.6h0M370.8 553.3h0M379.9 548.8h0M370.4 556.0h0M378.1 545.9h0M374.9 552.9h0M372.7 549.1h0M362.1 546.3h0M364.6 545.2h0M361.1 543.9h0M389.8 554.8h0M360.0 549.4h0M362.6 545.2h0M367.7 547.7h0M381.9 545.6h0M359.2 547.9h0M371.1 548.6h0M383.2 550.3h0M376.8 552.4h0M378.2 551.4h0M380.9 546.2h0M383.2 559.6h0M371.8 550.8h0M355.0 555.5h0M358.9 551.9h0M366.3 547.3h0M384.5 546.0h0M364.3 553.9h0M358.3 551.3h0M390.7 548.3h0M371.9 548.5h0M377.5 556.9h0M364.9 542.6h0M362.1 548.0h0M375.2 549.2h0M351.8 554.9h0M381.3 546.4h0M362.5 556.8h0M377.5 558.9h0M355.9 544.1h0M352.9 547.8h0M359.7 545.6h0M354.9 541.3h0M368.4 545.1h0M378.3 552.9h0M369.0 545.8h0M362.2 551.9h0M373.8 546.7h0M363.9 552.9h0M386.5 545.7h0M356.5 549.1h0M350.9 552.7h0M341.5 552.0h0M382.1 551.4h0M363.4 556.1h0M369.8 550.6h0M361.9 556.6h0M350.8 552.3h0M380.9 547.5h0M360.5 548.3h0M364.3 556.5h0M372.9 555.2h0M397.1 557.3h0M349.8 550.8h0M362.8 547.3h0M372.3 554.9h0M379.5 551.6h0M362.7 546.8h0M364.1 549.8h0M350.5 554.7h0M380.5 561.6h0M345.2 551.6h0M382.5 553.1h0M350.6 548.5h0M378.3 544.4h0M364.8 550.1h0M379.8 546.1h0M363.3 549.3h0M346.4 555.9h0M369.7 548.0h0M370.8 548.1h0M382.7 548.1h0M352.4 552.4h0M358.4 551.5h0M381.7 542.8h0M369.1 548.8h0M355.4 549.8h0M362.9 538.5h0M379.0 550.1h0M376.9 553.6h0M362.7 552.9h0M356.6 548.8h0M372.1 555.5h0M361.1 545.2h0M392.1 547.1h0M347.2 557.1h0M363.0 545.1h0M360.6 545.0h0M379.3 550.8h0M369.1 565.8h0M371.5 550.3h0M381.8 553.0h0M380.3 551.1h0M376.4 553.9h0M355.2 546.3h0M359.3 549.6h0M353.9 553.3h0M386.8 549.1h0M362.3 543.0h0M373.5 551.2h0M375.4 546.4h0M367.1 553.3h0M366.7 549.8h0M369.2 552.0h0M384.5 558.9h0M365.8 545.8h0M371.1 551.6h0M365.8 542.5h0M359.9 554.1h0M369.3 560.4h0M369.6 551.8h0M388.5 546.6h0M365.6 548.0h0M353.0 549.5h0M379.6 551.4h0M352.3 551.8h0M371.0 551.1h0M367.2 548.1h0M371.4 557.1h0M375.0 549.9h0M357.6 549.2h0M354.6 551.5h0M351.8 551.7h0M376.2 546.2h0M360.4 549.3h0M383.4 545.4h0M363.9 548.0h0M375.2 550.1h0M355.5 549.4h0M367.1 551.5h0M362.8 547.8h0M366.4 552.6h0M393.6 549.9h0M373.7 552.7h0M359.3 556.7h0M359.6 546.8h0M382.2 553.1h0M368.0 551.1h0M374.8 556.3h0M372.4 550.0h0M364.8 555.9h0M356.6 542.6h0M351.1 554.5h0M371.6 550.8h0M382.0 547.4h0M353.7 556.8h0M364.3 544.5h0M362.9 545.5h0M359.8 554.0h0M373.7 551.4h0M369.1 555.8h0M362.5 551.5h0M355.4 542.5h0M386.3 545.9h0M368.2 557.9h0M374.0 551.2h0M367.6 550.3h0M354.2 548.0h0M360.3 545.4h0M365.3 553.6h0M363.0 542.7h0M369.6 547.7h0M364.8 550.7h0M362.0 554.7h0M364.2 544.1h0M348.1 544.8h0M365.4 554.4h0M379.0 547.8h0M387.2 553.9h0M367.9 549.1h0M390.1 547.1h0M350.6 559.2h0M359.3 555.8h0M366.4 546.2h0M366.4 548.4h0M367.1 552.5h0M362.0 545.4h0M364.3 540.9h0M361.7 551.3h0M363.7 549.6h0M354.3 553.9h0M378.0 558.0h0M393.4 551.5h0M352.6 554.9h0M357.4 556.2h0M359.2 544.4h0M382.2 548.2h0M390.3 550.5h0M373.6 551.2h0M374.0 551.1h0M368.5 543.9h0M380.5 545.6h0M362.0 549.5h0M374.0 557.2h0M359.0 551.3h0M356.5 553.4h0M356.0 545.7h0M353.8 548.8h0M359.3 548.8h0M370.2 551.8h0M387.4 551.3h0M378.0 547.1h0M424.7 526.5h0M402.7 540.4h0M429.7 533.0h0M383.9 537.9h0M411.5 526.2h0M403.8 530.5h0M398.6 536.6h0M420.2 538.4h0M413.2 530.1h0M422.6 535.2h0M421.6 537.2h0M414.9 543.0h0M406.6 524.8h0M417.1 542.7h0M403.7 549.7h0M412.1 529.6h0M400.8 535.9h0M409.4 539.1h0M411.3 529.6h0M399.2 535.6h0M417.0 535.1h0M404.9 539.1h0M399.6 539.3h0M395.7 545.6h0M408.6 539.8h0M383.4 544.8h0M410.1 525.7h0M425.4 544.9h0M411.9 540.0h0M397.8 531.2h0M397.1 525.4h0M421.4 540.0h0M416.7 540.7h0M411.2 539.0h0M407.7 527.1h0M410.7 539.8h0M405.2 528.8h0M408.0 542.8h0M410.7 545.7h0M389.2 537.1h0M405.1 539.7h0M398.8 531.9h0M390.0 539.5h0M402.1 530.4h0M411.1 539.3h0M409.6 542.4h0M403.9 541.1h0M409.6 533.6h0M401.2 539.9h0M411.5 536.6h0M395.8 541.3h0M411.9 528.2h0M433.9 543.7h0M426.3 515.6h0M400.8 537.6h0M410.4 538.0h0M407.8 524.6h0M393.0 538.4h0M411.0 533.8h0M417.0 545.9h0M408.2 533.6h0M430.4 540.3h0M416.3 541.6h0M411.1 524.9h0M391.7 541.0h0M417.2 531.3h0M405.1 539.7h0M395.2 537.0h0M390.9 543.9h0M415.5 534.8h0M411.5 549.7h0M404.8 534.4h0M417.2 542.6h0M401.5 545.4h0M393.9 541.9h0M403.8 547.3h0M424.4 540.4h0M406.3 534.0h0M402.2 530.6h0M418.0 533.5h0"/>
<rect x="388.5" y="542.6" width="13.8" height="9.1" fill="#d6c8cc" fill-opacity="0.9"/>
<line x1="395.40" y1="470.80" x2="395.40" y2="599.00" stroke="#c4c4c4" stroke-width="0.9" />
<line x1="296.40" y1="546.75" x2="494.30" y2="546.75" stroke="#c4c4c4" stroke-width="0.9" />
<path stroke="#0d5628" stroke-opacity="1.0" stroke-width="1.7" stroke-linecap="round" d="M406.0 545.6h0M401.9 543.8h0M398.4 544.3h0M389.1 546.7h0M397.2 548.9h0M402.4 547.0h0M391.9 542.4h0M398.2 544.5h0M401.5 545.5h0M390.1 546.3h0M394.1 547.2h0M391.5 542.3h0M403.6 542.8h0M399.4 545.1h0M395.7 544.0h0M408.5 541.3h0M393.6 544.5h0M397.3 544.5h0M399.6 544.5h0M411.1 544.4h0M387.5 543.0h0M400.2 547.3h0M400.0 541.0h0M397.5 542.7h0M392.0 537.6h0M389.0 545.8h0M392.8 540.8h0M412.4 547.3h0M400.3 542.1h0M395.7 542.5h0M394.5 540.3h0M390.1 541.8h0M405.0 547.6h0M393.0 545.7h0M401.9 545.1h0M387.2 540.6h0M391.2 544.8h0M392.6 545.8h0M390.1 543.4h0M392.7 539.8h0M417.9 544.9h0M403.1 545.5h0M390.6 548.8h0M399.0 543.7h0M393.2 542.9h0M378.4 545.7h0M395.3 541.3h0M386.5 540.7h0M400.4 538.8h0M378.7 544.3h0M390.7 545.6h0M394.3 548.3h0M396.3 544.6h0M400.0 541.7h0M394.8 542.8h0M389.0 542.5h0M409.4 545.6h0M383.7 545.2h0M395.3 544.6h0M392.3 546.9h0M390.6 543.2h0M396.9 546.8h0M397.6 548.9h0M381.7 549.4h0M401.1 544.1h0M386.1 544.3h0M402.3 545.1h0M399.4 541.7h0M394.5 541.1h0M377.7 541.5h0M389.2 542.8h0M404.0 539.2h0M388.5 541.8h0M398.2 543.7h0M392.0 542.2h0M378.7 542.3h0M389.6 547.6h0M382.9 544.8h0M406.2 544.6h0M391.7 541.6h0M401.2 538.3h0M402.3 546.5h0M379.9 541.1h0M380.9 546.8h0M403.7 543.2h0M392.2 545.6h0M393.6 542.4h0M388.3 545.4h0M406.3 540.0h0M395.1 544.6h0M403.3 537.5h0M404.2 541.0h0M392.6 542.4h0M394.2 545.3h0M398.9 545.0h0M401.4 547.7h0M397.9 544.1h0M399.0 545.9h0M395.0 547.1h0M388.5 547.5h0M390.4 543.9h0M415.6 545.2h0M406.0 542.9h0M397.7 543.3h0M406.7 547.2h0M405.6 546.6h0M382.1 543.8h0M390.0 544.9h0M401.1 542.0h0M406.3 544.9h0M398.8 538.0h0M406.1 547.7h0M402.9 546.5h0M398.3 546.3h0M387.5 546.1h0M392.2 550.2h0M383.8 549.0h0M379.7 548.1h0M389.5 550.7h0M381.6 548.7h0M382.0 550.1h0M374.1 548.2h0M388.1 548.9h0M376.5 549.4h0M381.2 551.6h0M379.0 551.6h0M386.1 546.1h0M382.5 553.9h0M387.0 547.8h0M371.2 550.7h0M376.8 550.1h0M375.0 548.8h0M388.8 547.8h0M384.4 548.0h0M382.5 548.1h0M379.0 549.2h0M377.4 549.2h0M384.6 549.7h0M387.9 547.5h0M384.5 546.9h0M384.0 548.9h0M377.9 548.1h0M377.7 548.1h0M383.5 549.9h0M379.7 546.7h0M381.0 549.0h0M382.5 547.1h0M368.9 550.1h0M381.2 551.8h0M381.2 548.6h0M382.1 549.3h0M369.8 550.6h0M385.7 549.2h0M376.7 546.1h0M381.2 548.4h0M383.9 548.1h0M383.4 550.7h0M378.9 547.1h0M381.4 549.8h0M384.5 552.1h0M426.2 531.7h0M405.0 529.5h0M387.3 513.0h0M407.8 543.5h0M384.4 547.7h0M377.8 563.3h0M431.5 554.7h0M416.4 534.7h0M419.7 533.4h0M429.2 524.1h0M404.1 516.9h0M387.0 533.1h0M400.5 533.4h0M397.8 517.9h0M385.5 538.0h0M401.7 532.8h0M413.1 541.8h0M377.9 535.9h0M438.9 537.5h0M387.8 557.5h0M397.6 538.4h0M389.9 523.8h0M386.4 519.4h0M422.5 537.0h0M433.9 528.0h0M425.7 519.3h0M415.8 532.9h0M407.6 562.7h0M425.7 533.5h0M396.1 522.0h0M419.6 521.6h0M418.9 533.2h0M410.5 523.4h0M365.4 549.6h0M419.1 527.7h0M416.7 517.7h0M382.8 530.9h0M430.1 530.1h0M440.6 536.0h0M406.9 541.0h0M404.7 538.7h0M395.8 546.4h0M422.0 536.4h0M399.0 533.7h0M368.6 519.7h0M413.9 519.8h0M367.4 539.3h0M380.6 536.4h0M398.5 543.9h0M387.6 526.5h0M391.9 532.8h0M404.1 548.2h0M414.1 546.6h0M406.0 531.7h0M427.5 537.8h0M406.3 540.4h0M378.6 536.2h0M399.0 522.3h0M402.5 542.1h0M413.4 528.3h0M413.8 535.9h0M389.9 532.9h0M414.4 548.9h0M401.7 546.5h0M411.9 532.9h0M385.4 527.8h0M419.6 534.8h0M394.2 542.3h0M390.6 533.1h0M394.7 539.9h0M388.4 525.2h0M397.7 524.2h0M416.1 510.6h0M403.8 537.6h0M395.0 542.5h0M384.3 535.9h0M404.1 528.2h0M392.0 530.8h0M421.8 525.3h0M392.1 519.4h0M377.0 543.3h0M416.2 546.8h0M389.8 534.6h0M413.5 520.3h0M405.3 545.0h0M411.0 530.2h0M373.3 525.2h0M412.9 530.6h0M437.1 528.6h0M382.5 543.8h0M409.3 536.6h0M425.8 542.1h0M416.4 535.4h0M438.2 529.3h0M425.4 542.7h0M416.0 531.4h0M435.8 536.8h0M425.8 539.5h0M442.5 540.4h0M448.2 540.2h0M427.4 541.0h0M430.1 535.7h0M432.0 542.4h0M439.4 535.7h0M438.4 533.7h0M481.0 528.0h0M432.0 491.0h0"/>
<line x1="383.10" y1="501.10" x2="390.60" y2="509.20" stroke="#231f20" stroke-width="0.75" />
<text x="370.60" y="499.20" font-size="8.2" text-anchor="start" fill="#222" textLength="15.59" lengthAdjust="spacingAndGlyphs">GP6</text>
<line x1="369.10" y1="505.30" x2="382.20" y2="515.90" stroke="#231f20" stroke-width="0.75" />
<text x="353.30" y="506.30" font-size="8.2" text-anchor="start" fill="#222" textLength="15.59" lengthAdjust="spacingAndGlyphs">GP9</text>
<line x1="351.80" y1="512.00" x2="382.50" y2="520.70" stroke="#231f20" stroke-width="0.75" />
<text x="324.50" y="513.00" font-size="8.2" text-anchor="start" fill="#222" textLength="25.98" lengthAdjust="spacingAndGlyphs">GP1BA</text>
<line x1="357.90" y1="526.50" x2="380.60" y2="535.10" stroke="#231f20" stroke-width="0.75" />
<text x="334.50" y="526.10" font-size="8.2" text-anchor="start" fill="#222" textLength="22.51" lengthAdjust="spacingAndGlyphs">ITGA6</text>
<line x1="329.70" y1="528.80" x2="367.50" y2="535.10" stroke="#231f20" stroke-width="0.75" />
<text x="305.60" y="530.30" font-size="8.2" text-anchor="start" fill="#222" textLength="22.51" lengthAdjust="spacingAndGlyphs">ITGA2</text>
<line x1="322.00" y1="537.60" x2="342.20" y2="533.20" stroke="#231f20" stroke-width="0.75" />
<text x="303.70" y="540.90" font-size="8.2" text-anchor="start" fill="#222" textLength="19.92" lengthAdjust="spacingAndGlyphs">SELP</text>
<rect x="296.40" y="470.80" width="197.90" height="128.20" fill="none" stroke="#231f20" stroke-width="1.25"/>
<line x1="293.40" y1="476.25" x2="296.40" y2="476.25" stroke="#231f20" stroke-width="1.0" />
<text x="290.40" y="479.15" font-size="8.3" text-anchor="end" fill="#222" textLength="8.59" lengthAdjust="spacingAndGlyphs">15</text>
<line x1="293.40" y1="499.75" x2="296.40" y2="499.75" stroke="#231f20" stroke-width="1.0" />
<text x="290.40" y="502.65" font-size="8.3" text-anchor="end" fill="#222" textLength="8.59" lengthAdjust="spacingAndGlyphs">10</text>
<line x1="293.40" y1="523.25" x2="296.40" y2="523.25" stroke="#231f20" stroke-width="1.0" />
<text x="290.40" y="526.15" font-size="8.3" text-anchor="end" fill="#222" textLength="4.29" lengthAdjust="spacingAndGlyphs">5</text>
<line x1="293.40" y1="546.75" x2="296.40" y2="546.75" stroke="#231f20" stroke-width="1.0" />
<text x="290.40" y="549.65" font-size="8.3" text-anchor="end" fill="#222" textLength="4.29" lengthAdjust="spacingAndGlyphs">0</text>
<line x1="293.40" y1="570.25" x2="296.40" y2="570.25" stroke="#231f20" stroke-width="1.0" />
<text x="290.40" y="573.15" font-size="8.3" text-anchor="end" fill="#222" textLength="8.8" lengthAdjust="spacingAndGlyphs">−5</text>
<line x1="293.40" y1="593.75" x2="296.40" y2="593.75" stroke="#231f20" stroke-width="1.0" />
<text x="290.40" y="596.65" font-size="8.3" text-anchor="end" fill="#222" textLength="13.09" lengthAdjust="spacingAndGlyphs">−10</text>
<line x1="305.40" y1="599.00" x2="305.40" y2="602.00" stroke="#231f20" stroke-width="1.0" />
<text x="303.40" y="613.00" font-size="8.3" text-anchor="middle" fill="#222" textLength="13.38" lengthAdjust="spacingAndGlyphs">−10</text>
<line x1="350.40" y1="599.00" x2="350.40" y2="602.00" stroke="#231f20" stroke-width="1.0" />
<text x="348.40" y="613.00" font-size="8.3" text-anchor="middle" fill="#222" textLength="8.99" lengthAdjust="spacingAndGlyphs">−5</text>
<line x1="395.40" y1="599.00" x2="395.40" y2="602.00" stroke="#231f20" stroke-width="1.0" />
<text x="395.40" y="613.00" font-size="8.3" text-anchor="middle" fill="#222" textLength="4.39" lengthAdjust="spacingAndGlyphs">0</text>
<line x1="440.40" y1="599.00" x2="440.40" y2="602.00" stroke="#231f20" stroke-width="1.0" />
<text x="440.40" y="613.00" font-size="8.3" text-anchor="middle" fill="#222" textLength="4.39" lengthAdjust="spacingAndGlyphs">5</text>
<line x1="485.40" y1="599.00" x2="485.40" y2="602.00" stroke="#231f20" stroke-width="1.0" />
<text x="485.40" y="613.00" font-size="8.3" text-anchor="middle" fill="#222" textLength="8.77" lengthAdjust="spacingAndGlyphs">10</text>
<text x="395.15" y="465.60" font-size="10.6" text-anchor="middle" fill="#222" textLength="175.8" lengthAdjust="spacingAndGlyphs">Cluster 2 overlap with primary cell DEG</text>
<text x="301.00" y="480.90" font-size="8.2" text-anchor="start" fill="#222">61/404</text>
<text x="301.00" y="490.50" font-size="8.2" fill="#222" text-anchor="start">(<tspan font-style="italic">P</tspan> = 9.11e-13)</text>
<text x="489.90" y="480.90" font-size="8.2" text-anchor="end" fill="#222">126/1119</text>
<text x="489.90" y="490.50" font-size="8.2" fill="#222" text-anchor="end">(<tspan font-style="italic">P</tspan> = 3.58e-14)</text>
<text x="301.00" y="584.00" font-size="8.2" text-anchor="start" fill="#222">76/1244</text>
<text x="301.00" y="593.60" font-size="8.2" fill="#222" text-anchor="start">(<tspan font-style="italic">P</tspan> = .243)</text>
<text x="489.90" y="583.80" font-size="8.2" text-anchor="end" fill="#222">18/223</text>
<text x="489.90" y="593.40" font-size="8.2" fill="#222" text-anchor="end">(<tspan font-style="italic">P</tspan> = .053)</text>
<text x="394.00" y="628.50" font-size="10.2" text-anchor="middle" fill="#222" textLength="37.3" lengthAdjust="spacingAndGlyphs">ErP vs MEP</text>
<text x="395.50" y="639.30" font-size="10.2" text-anchor="middle" fill="#222" textLength="68.3" lengthAdjust="spacingAndGlyphs">expression (log2FC)</text>
<text x="264.70" y="535.40" font-size="10.0" text-anchor="middle" fill="#222" textLength="41.7" lengthAdjust="spacingAndGlyphs" transform="rotate(-90 264.70 535.40)">MkP vs MEP</text>
<text x="275.70" y="534.00" font-size="10.0" text-anchor="middle" fill="#222" textLength="68.5" lengthAdjust="spacingAndGlyphs" transform="rotate(-90 275.70 534.00)">expression (log2FC)</text>
<line x1="255.60" y1="490.80" x2="255.60" y2="480.30" stroke="#3aa04a" stroke-width="1.1" />
<path d="M253.50,481.40 L257.70,481.40 L255.60,477.80 Z" fill="#3aa04a"/>
<text x="259.20" y="486.90" font-size="8.1" text-anchor="start" fill="#222">MkP</text>
<line x1="255.60" y1="580.50" x2="255.60" y2="591.10" stroke="#3aa04a" stroke-width="1.1" />
<path d="M253.50,590.00 L257.70,590.00 L255.60,593.60 Z" fill="#3aa04a"/>
<text x="259.20" y="588.60" font-size="8.1" text-anchor="start" fill="#222">MkP</text>
<line x1="313.80" y1="618.60" x2="313.80" y2="629.30" stroke="#b0102a" stroke-width="1.1" />
<path d="M311.70,628.20 L315.90,628.20 L313.80,631.80 Z" fill="#b0102a"/>
<text x="317.00" y="628.00" font-size="8.0" text-anchor="start" fill="#222" textLength="12.67" lengthAdjust="spacingAndGlyphs">ErP</text>
<line x1="455.00" y1="631.80" x2="455.00" y2="621.10" stroke="#b0102a" stroke-width="1.1" />
<path d="M452.90,622.20 L457.10,622.20 L455.00,618.60 Z" fill="#b0102a"/>
<text x="457.60" y="628.00" font-size="8.0" text-anchor="start" fill="#222" textLength="12.67" lengthAdjust="spacingAndGlyphs">ErP</text>
<rect x="0.5" y="0.5" width="519" height="647" fill="none" stroke="#505050" stroke-width="1"/>
</svg></body></html>
